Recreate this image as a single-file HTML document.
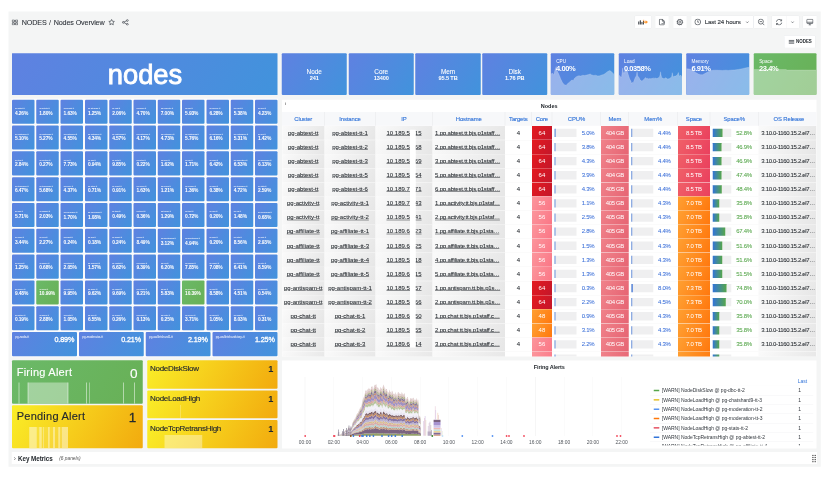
<!DOCTYPE html>
<html lang="en"><head><meta charset="utf-8"><title>Nodes Overview</title>
<style>
html,body{margin:0;padding:0;background:#fff}
body{width:834px;height:480px;overflow:hidden;font-family:"Liberation Sans",sans-serif}
#r{position:absolute;left:0;top:0;width:3336px;height:1920px;transform:scale(.25);transform-origin:0 0}
#r div,#r svg{position:absolute}
.t{white-space:nowrap;line-height:0;height:0}
.w{color:#fff}
.m{-webkit-text-stroke:.55px currentColor}
.m3{-webkit-text-stroke:.3px currentColor}
.m2{-webkit-text-stroke:1.2px currentColor}
.d{color:#24292e}
.u,.d,.h{-webkit-text-stroke:.25px currentColor}
.hh{-webkit-text-stroke:.5px currentColor}
.u{color:#24292e;text-decoration:underline;text-decoration-thickness:1.6px;text-underline-offset:2.4px}
.c{border-radius:4px;overflow:hidden}
.b{background:linear-gradient(120deg,rgb(95,129,225),rgb(65,147,220))}
.g{background:linear-gradient(120deg,rgb(107,185,104),rgb(104,176,86))}
.y{background:linear-gradient(120deg,rgb(250,238,40),rgb(242,170,14))}
.gy{background:linear-gradient(120deg,#fafafa,#e6e6e6)}
.r64{background:linear-gradient(120deg,rgb(228,26,32),rgb(196,22,42))}
.r56{background:linear-gradient(120deg,rgb(252,150,156),rgb(250,118,134))}
.r48{background:linear-gradient(120deg,rgb(255,160,50),rgb(255,120,14))}
.rm{background:linear-gradient(120deg,rgb(240,130,138),rgb(230,100,115))}
.rs{background:linear-gradient(120deg,rgb(240,96,104),rgb(234,64,94))}
</style></head>
<body><div id="r">
<div style="left:33.6px;top:45.6px;width:3249.6px;height:1821.6px;background:#f4f5f5"></div>
<svg style="left:46.8px;top:77.6px;" width="25.6" height="23.6" viewBox="0 0 6.40 5.90"><g fill="none" stroke="#41464d" stroke-width=".75"><rect x=".4" y=".4" width="2.3" height="2.1" rx=".3"/><rect x="3.7" y=".4" width="2.3" height="2.1" rx=".3"/><rect x=".4" y="3.4" width="2.3" height="2.1" rx=".3"/><rect x="3.7" y="3.4" width="2.3" height="2.1" rx=".3"/></g></svg>
<div class="t m3" style="left:87.2px;top:89.2px;font-size:28.8px;color:#2c3138;letter-spacing:-.02em">NODES</div>
<div class="t" style="left:196px;top:89.2px;font-size:28.8px;color:#24292e">/</div>
<div class="t m3" style="left:214.8px;top:89.2px;font-size:28.8px;color:#2c3138;letter-spacing:-.02em">Nodes Overview</div>
<svg style="left:432px;top:74.4px;" width="28.8" height="29.6" viewBox="0 0 7.20 7.40"><polygon points="3.60,1.00 4.45,2.73 6.36,3.00 4.98,4.35 5.30,6.25 3.60,5.35 1.90,6.25 2.22,4.35 0.84,3.00 2.75,2.73" fill="none" stroke="#41464d" stroke-width=".7" stroke-linejoin="round"/></svg>
<svg style="left:487.2px;top:76.8px;" width="29.6" height="25.6" viewBox="0 0 7.40 6.40"><g fill="none" stroke="#41464d" stroke-width=".7"><circle cx="1.6" cy="3.1" r=".9"/><circle cx="5.6" cy="1.2" r=".9"/><circle cx="5.6" cy="5.1" r=".9"/><path d="M2.4 2.7L4.8 1.6M2.4 3.5L4.8 4.7"/></g></svg>
<div style="left:2540px;top:64px;width:64.8px;height:48px;background:#fff;border-radius:2px;box-shadow:0 0 0 1px #e4e7eb"></div>
<div style="left:2621.2px;top:64px;width:54px;height:48px;background:#fff;border-radius:2px;box-shadow:0 0 0 1px #e4e7eb"></div>
<div style="left:2693.2px;top:64px;width:53.6px;height:48px;background:#fff;border-radius:2px;box-shadow:0 0 0 1px #e4e7eb"></div>
<div style="left:2764.8px;top:64px;width:248px;height:48px;background:#fff;border-radius:2px;box-shadow:0 0 0 1px #e4e7eb"></div>
<div style="left:3015.6px;top:64px;width:54.8px;height:48px;background:#fff;border-radius:2px;box-shadow:0 0 0 1px #e4e7eb"></div>
<div style="left:3088px;top:64px;width:108.4px;height:48px;background:#fff;border-radius:2px;box-shadow:0 0 0 1px #e4e7eb"></div>
<div style="left:3144px;top:64px;width:1px;height:48px;background:#e4e7eb"></div>
<div style="left:3212px;top:64px;width:55.2px;height:48px;background:#fff;border-radius:2px;box-shadow:0 0 0 1px #e4e7eb"></div>
<svg style="left:2552px;top:78.4px;" width="41.6" height="21.2" viewBox="0 0 10.40 5.30"><g fill="#41464d"><rect x=".2" y="2" width="1.1" height="3"/><rect x="1.8" y=".8" width="1.1" height="4.2"/><rect x="3.4" y="2.4" width="1.1" height="2.6"/><rect x="5" y="1.4" width="1" height="3.6"/></g><path d="M5.6 1.9h2V.7l2.4 1.9-2.4 1.9V3.3h-2z" fill="#ff9830"/><path d="M5.6 .1v1.4M4.9 .8h1.4" stroke="#ff9830" stroke-width=".5"/></svg>
<svg style="left:2635.2px;top:75.2px;" width="26.4" height="26.4" viewBox="0 0 6.60 6.60"><g fill="none" stroke="#41464d" stroke-width=".75" stroke-linejoin="round"><path d="M.6 1.2a.7 .7 0 0 1 .7-.7h2.4l1.8 1.8v3.2a.7 .7 0 0 1-.7 .7H1.3a.7 .7 0 0 1-.7-.7z"/><path d="M3.6 .6v1.8h1.8"/><path d="M2.9 4.4l.9 .9 1.9-2" stroke-width=".7"/></g></svg>
<svg style="left:2705.2px;top:74.8px;" width="28.8" height="27.2" viewBox="0 0 7.20 6.80"><g fill="none" stroke="#41464d"><circle cx="3.6" cy="3.4" r="2.6" stroke-width=".85"/><circle cx="3.6" cy="3.4" r="1.05" stroke-width=".65"/><circle cx="3.6" cy="3.4" r="3.1" stroke-width=".5" stroke-dasharray=".9 1.53"/></g></svg>
<svg style="left:2777.2px;top:74.4px;" width="28" height="28" viewBox="0 0 7.00 7.00"><g fill="none" stroke="#41464d" stroke-width=".7"><circle cx="3.5" cy="3.5" r="2.9"/><path d="M3.5 1.8v1.9h1.3"/></g></svg>
<div class="t m" style="left:2818.8px;top:88.7px;font-size:24.4px;color:#33383e;letter-spacing:-.012em">Last 24 hours</div>
<svg style="left:2981.6px;top:83.6px;" width="14.4" height="9.6" viewBox="0 0 3.60 2.40"><path d="M.5 .5l1.3 1.3L3.1 .5" fill="none" stroke="#41464d" stroke-width=".6"/></svg>
<svg style="left:3031.2px;top:74.4px;" width="28" height="28.8" viewBox="0 0 7.00 7.20"><g fill="none" stroke="#41464d" stroke-width=".7"><circle cx="3.1" cy="3.1" r="2.5"/><path d="M1.9 3.1h2.4M5 5l1.6 1.7"/></g></svg>
<svg style="left:3101.6px;top:74.8px;" width="28.8" height="27.2" viewBox="0 0 7.20 6.80"><g fill="none" stroke="#41464d" stroke-width=".7"><path d="M.9 3A2.8 2.8 0 0 1 6 1.9"/><path d="M6.2 .5v1.6H4.6"/><path d="M6.3 3.8A2.8 2.8 0 0 1 1.2 4.9"/><path d="M1 6.3V4.7h1.6"/></g></svg>
<svg style="left:3163.2px;top:83.6px;" width="14.4" height="9.6" viewBox="0 0 3.60 2.40"><path d="M.5 .5l1.3 1.3L3.1 .5" fill="none" stroke="#41464d" stroke-width=".6"/></svg>
<svg style="left:3225.2px;top:75.2px;" width="28.8" height="27.2" viewBox="0 0 7.20 6.80"><g fill="none" stroke="#41464d" stroke-width=".7"><rect x=".5" y=".5" width="6.2" height="4.3" rx=".8"/><path d="M.5 3.5h6.2M2.4 6.3h2.4M3.6 4.8v1.5"/></g></svg>
<div style="left:3138.4px;top:142.8px;width:122px;height:48.4px;background:#fff;border-radius:2px;box-shadow:0 0 0 1px #e4e7eb"></div>
<svg style="left:3153.6px;top:158px;" width="24.8" height="18.4" viewBox="0 0 6.20 4.60"><path d="M.1 .9h5.8M.1 2.3h5.8M.1 3.7h5.8" stroke="#41464d" stroke-width=".8"/></svg>
<div class="t" style="left:3184px;top:167px;font-size:17.8px;color:#24292e;font-weight:bold">NODES</div>
<div class="b" style="left:48px;top:213.2px;width:1062px;height:166.8px;border-radius:1.2px"></div>
<div class="t" style="left:579.6px;top:296.8px;font-size:112px;transform:translateX(-50%) scaleX(0.975);transform-origin:50% 0;color:#fff;-webkit-text-stroke:3.4px #fff">nodes</div>
<div style="left:46px;top:394.4px;width:1066px;height:1034.4px;background:#fbfbfc"></div>
<div class="b c" style="left:48px;top:398.8px;width:90px;height:96.4px;"><div class="t w" style="left:12.4px;top:35.6px;font-size:6.8px;opacity:.9;font-weight:bold">pg-abtest-tt</div><div class="t w" style="left:12px;top:52px;font-size:19.6px;font-weight:bold;letter-spacing:-.03em">4.26%</div></div>
<div class="b c" style="left:145.2px;top:398.8px;width:90px;height:96.4px;"><div class="t w" style="left:12.4px;top:35.6px;font-size:6.8px;opacity:.9;font-weight:bold">pg-activity-tt</div><div class="t w" style="left:12px;top:52px;font-size:19.6px;font-weight:bold;letter-spacing:-.03em">1.80%</div></div>
<div class="b c" style="left:242.4px;top:398.8px;width:90px;height:96.4px;"><div class="t w" style="left:12.4px;top:35.6px;font-size:6.8px;opacity:.9;font-weight:bold">pg-affiliate-tt</div><div class="t w" style="left:12px;top:52px;font-size:19.6px;font-weight:bold;letter-spacing:-.03em">1.63%</div></div>
<div class="b c" style="left:339.6px;top:398.8px;width:90px;height:96.4px;"><div class="t w" style="left:12.4px;top:35.6px;font-size:6.8px;opacity:.9;font-weight:bold">pg-antispam-tt</div><div class="t w" style="left:12px;top:52px;font-size:19.6px;font-weight:bold;letter-spacing:-.03em">1.25%</div></div>
<div class="b c" style="left:436.8px;top:398.8px;width:90px;height:96.4px;"><div class="t w" style="left:12.4px;top:35.6px;font-size:6.8px;opacity:.9;font-weight:bold">pg-chat-tt</div><div class="t w" style="left:12px;top:52px;font-size:19.6px;font-weight:bold;letter-spacing:-.03em">2.06%</div></div>
<div class="b c" style="left:534px;top:398.8px;width:90px;height:96.4px;"><div class="t w" style="left:12.4px;top:35.6px;font-size:6.8px;opacity:.9;font-weight:bold">pg-bonus-tt</div><div class="t w" style="left:12px;top:52px;font-size:19.6px;font-weight:bold;letter-spacing:-.03em">4.70%</div></div>
<div class="b c" style="left:631.2px;top:398.8px;width:90px;height:96.4px;"><div class="t w" style="left:12.4px;top:35.6px;font-size:6.8px;opacity:.9;font-weight:bold">pg-callcenter-tt</div><div class="t w" style="left:12px;top:52px;font-size:19.6px;font-weight:bold;letter-spacing:-.03em">7.00%</div></div>
<div class="b c" style="left:728.4px;top:398.8px;width:90px;height:96.4px;"><div class="t w" style="left:12.4px;top:35.6px;font-size:6.8px;opacity:.9;font-weight:bold">pg-dbc-tt</div><div class="t w" style="left:12px;top:52px;font-size:19.6px;font-weight:bold;letter-spacing:-.03em">5.93%</div></div>
<div class="b c" style="left:825.6px;top:398.8px;width:90px;height:96.4px;"><div class="t w" style="left:12.4px;top:35.6px;font-size:6.8px;opacity:.9;font-weight:bold">pg-delivery-tt</div><div class="t w" style="left:12px;top:52px;font-size:19.6px;font-weight:bold;letter-spacing:-.03em">6.28%</div></div>
<div class="b c" style="left:922.8px;top:398.8px;width:90px;height:96.4px;"><div class="t w" style="left:12.4px;top:35.6px;font-size:6.8px;opacity:.9;font-weight:bold">pg-event-tt</div><div class="t w" style="left:12px;top:52px;font-size:19.6px;font-weight:bold;letter-spacing:-.03em">5.38%</div></div>
<div class="b c" style="left:1020px;top:398.8px;width:90px;height:96.4px;"><div class="t w" style="left:12.4px;top:35.6px;font-size:6.8px;opacity:.9;font-weight:bold">pg-feed-tt</div><div class="t w" style="left:12px;top:52px;font-size:19.6px;font-weight:bold;letter-spacing:-.03em">4.23%</div></div>
<div class="b c" style="left:48px;top:502px;width:90px;height:96.4px;"><div class="t w" style="left:12.4px;top:35.6px;font-size:6.8px;opacity:.9;font-weight:bold">pg-chatshard1-tt</div><div class="t w" style="left:12px;top:52px;font-size:19.6px;font-weight:bold;letter-spacing:-.03em">5.10%</div></div>
<div class="b c" style="left:145.2px;top:502px;width:90px;height:96.4px;"><div class="t w" style="left:12.4px;top:35.6px;font-size:6.8px;opacity:.9;font-weight:bold">pg-chatshard2-tt</div><div class="t w" style="left:12px;top:52px;font-size:19.6px;font-weight:bold;letter-spacing:-.03em">5.27%</div></div>
<div class="b c" style="left:242.4px;top:502px;width:90px;height:96.4px;"><div class="t w" style="left:12.4px;top:35.6px;font-size:6.8px;opacity:.9;font-weight:bold">pg-chatshard3-tt</div><div class="t w" style="left:12px;top:52px;font-size:19.6px;font-weight:bold;letter-spacing:-.03em">4.55%</div></div>
<div class="b c" style="left:339.6px;top:502px;width:90px;height:96.4px;"><div class="t w" style="left:12.4px;top:35.6px;font-size:6.8px;opacity:.9;font-weight:bold">pg-chatshard4-tt</div><div class="t w" style="left:12px;top:52px;font-size:19.6px;font-weight:bold;letter-spacing:-.03em">4.34%</div></div>
<div class="b c" style="left:436.8px;top:502px;width:90px;height:96.4px;"><div class="t w" style="left:12.4px;top:35.6px;font-size:6.8px;opacity:.9;font-weight:bold">pg-chatshard5-tt</div><div class="t w" style="left:12px;top:52px;font-size:19.6px;font-weight:bold;letter-spacing:-.03em">4.57%</div></div>
<div class="b c" style="left:534px;top:502px;width:90px;height:96.4px;"><div class="t w" style="left:12.4px;top:35.6px;font-size:6.8px;opacity:.9;font-weight:bold">pg-chatshard6-tt</div><div class="t w" style="left:12px;top:52px;font-size:19.6px;font-weight:bold;letter-spacing:-.03em">4.17%</div></div>
<div class="b c" style="left:631.2px;top:502px;width:90px;height:96.4px;"><div class="t w" style="left:12.4px;top:35.6px;font-size:6.8px;opacity:.9;font-weight:bold">pg-chatshard7-tt</div><div class="t w" style="left:12px;top:52px;font-size:19.6px;font-weight:bold;letter-spacing:-.03em">4.73%</div></div>
<div class="b c" style="left:728.4px;top:502px;width:90px;height:96.4px;"><div class="t w" style="left:12.4px;top:35.6px;font-size:6.8px;opacity:.9;font-weight:bold">pg-chatshard8-tt</div><div class="t w" style="left:12px;top:52px;font-size:19.6px;font-weight:bold;letter-spacing:-.03em">5.76%</div></div>
<div class="b c" style="left:825.6px;top:502px;width:90px;height:96.4px;"><div class="t w" style="left:12.4px;top:35.6px;font-size:6.8px;opacity:.9;font-weight:bold">pg-chatshard9-tt</div><div class="t w" style="left:12px;top:52px;font-size:19.6px;font-weight:bold;letter-spacing:-.03em">6.16%</div></div>
<div class="b c" style="left:922.8px;top:502px;width:90px;height:96.4px;"><div class="t w" style="left:12.4px;top:35.6px;font-size:6.8px;opacity:.9;font-weight:bold">pg-chatshard10-tt</div><div class="t w" style="left:12px;top:52px;font-size:19.6px;font-weight:bold;letter-spacing:-.03em">5.31%</div></div>
<div class="b c" style="left:1020px;top:502px;width:90px;height:96.4px;"><div class="t w" style="left:12.4px;top:35.6px;font-size:6.8px;opacity:.9;font-weight:bold">pg-geo-tt</div><div class="t w" style="left:12px;top:52px;font-size:19.6px;font-weight:bold;letter-spacing:-.03em">1.42%</div></div>
<div class="b c" style="left:48px;top:605.3px;width:90px;height:96.4px;"><div class="t w" style="left:12.4px;top:35.6px;font-size:6.8px;opacity:.9;font-weight:bold">pg-item-tt</div><div class="t w" style="left:12px;top:52px;font-size:19.6px;font-weight:bold;letter-spacing:-.03em">2.84%</div></div>
<div class="b c" style="left:145.2px;top:605.3px;width:90px;height:96.4px;"><div class="t w" style="left:12.4px;top:35.6px;font-size:6.8px;opacity:.9;font-weight:bold">pg-location-tt</div><div class="t w" style="left:12px;top:52px;font-size:19.6px;font-weight:bold;letter-spacing:-.03em">0.27%</div></div>
<div class="b c" style="left:242.4px;top:605.3px;width:90px;height:96.4px;"><div class="t w" style="left:12.4px;top:35.6px;font-size:6.8px;opacity:.9;font-weight:bold">pg-log-tt</div><div class="t w" style="left:12px;top:52px;font-size:19.6px;font-weight:bold;letter-spacing:-.03em">7.73%</div></div>
<div class="b c" style="left:339.6px;top:605.3px;width:90px;height:96.4px;"><div class="t w" style="left:12.4px;top:35.6px;font-size:6.8px;opacity:.9;font-weight:bold">pg-mail-tt</div><div class="t w" style="left:12px;top:52px;font-size:19.6px;font-weight:bold;letter-spacing:-.03em">0.94%</div></div>
<div class="b c" style="left:436.8px;top:605.3px;width:90px;height:96.4px;"><div class="t w" style="left:12.4px;top:35.6px;font-size:6.8px;opacity:.9;font-weight:bold">pg-meta-tt</div><div class="t w" style="left:12px;top:52px;font-size:19.6px;font-weight:bold;letter-spacing:-.03em">9.85%</div></div>
<div class="b c" style="left:534px;top:605.3px;width:90px;height:96.4px;"><div class="t w" style="left:12.4px;top:35.6px;font-size:6.8px;opacity:.9;font-weight:bold">pg-notify-tt</div><div class="t w" style="left:12px;top:52px;font-size:19.6px;font-weight:bold;letter-spacing:-.03em">0.22%</div></div>
<div class="b c" style="left:631.2px;top:605.3px;width:90px;height:96.4px;"><div class="t w" style="left:12.4px;top:35.6px;font-size:6.8px;opacity:.9;font-weight:bold">pg-order-tt</div><div class="t w" style="left:12px;top:52px;font-size:19.6px;font-weight:bold;letter-spacing:-.03em">1.62%</div></div>
<div class="b c" style="left:728.4px;top:605.3px;width:90px;height:96.4px;"><div class="t w" style="left:12.4px;top:35.6px;font-size:6.8px;opacity:.9;font-weight:bold">pg-pay-tt</div><div class="t w" style="left:12px;top:52px;font-size:19.6px;font-weight:bold;letter-spacing:-.03em">1.71%</div></div>
<div class="b c" style="left:825.6px;top:605.3px;width:90px;height:96.4px;"><div class="t w" style="left:12.4px;top:35.6px;font-size:6.8px;opacity:.9;font-weight:bold">pg-push-tt</div><div class="t w" style="left:12px;top:52px;font-size:19.6px;font-weight:bold;letter-spacing:-.03em">6.42%</div></div>
<div class="b c" style="left:922.8px;top:605.3px;width:90px;height:96.4px;"><div class="t w" style="left:12.4px;top:35.6px;font-size:6.8px;opacity:.9;font-weight:bold">pg-moderation-tt</div><div class="t w" style="left:12px;top:52px;font-size:19.6px;font-weight:bold;letter-spacing:-.03em">6.53%</div></div>
<div class="b c" style="left:1020px;top:605.3px;width:90px;height:96.4px;"><div class="t w" style="left:12.4px;top:35.6px;font-size:6.8px;opacity:.9;font-weight:bold">pg-messenger-tt</div><div class="t w" style="left:12px;top:52px;font-size:19.6px;font-weight:bold;letter-spacing:-.03em">6.13%</div></div>
<div class="b c" style="left:48px;top:708.5px;width:90px;height:96.4px;"><div class="t w" style="left:12.4px;top:35.6px;font-size:6.8px;opacity:.9;font-weight:bold">pg-itemshard1-tt</div><div class="t w" style="left:12px;top:52px;font-size:19.6px;font-weight:bold;letter-spacing:-.03em">6.47%</div></div>
<div class="b c" style="left:145.2px;top:708.5px;width:90px;height:96.4px;"><div class="t w" style="left:12.4px;top:35.6px;font-size:6.8px;opacity:.9;font-weight:bold">pg-itemshard2-tt</div><div class="t w" style="left:12px;top:52px;font-size:19.6px;font-weight:bold;letter-spacing:-.03em">5.68%</div></div>
<div class="b c" style="left:242.4px;top:708.5px;width:90px;height:96.4px;"><div class="t w" style="left:12.4px;top:35.6px;font-size:6.8px;opacity:.9;font-weight:bold">pg-queue-tt</div><div class="t w" style="left:12px;top:52px;font-size:19.6px;font-weight:bold;letter-spacing:-.03em">4.37%</div></div>
<div class="b c" style="left:339.6px;top:708.5px;width:90px;height:96.4px;"><div class="t w" style="left:12.4px;top:35.6px;font-size:6.8px;opacity:.9;font-weight:bold">pg-rating-tt</div><div class="t w" style="left:12px;top:52px;font-size:19.6px;font-weight:bold;letter-spacing:-.03em">0.71%</div></div>
<div class="b c" style="left:436.8px;top:708.5px;width:90px;height:96.4px;"><div class="t w" style="left:12.4px;top:35.6px;font-size:6.8px;opacity:.9;font-weight:bold">pg-report-tt</div><div class="t w" style="left:12px;top:52px;font-size:19.6px;font-weight:bold;letter-spacing:-.03em">0.91%</div></div>
<div class="b c" style="left:534px;top:708.5px;width:90px;height:96.4px;"><div class="t w" style="left:12.4px;top:35.6px;font-size:6.8px;opacity:.9;font-weight:bold">pg-review-tt</div><div class="t w" style="left:12px;top:52px;font-size:19.6px;font-weight:bold;letter-spacing:-.03em">1.63%</div></div>
<div class="b c" style="left:631.2px;top:708.5px;width:90px;height:96.4px;"><div class="t w" style="left:12.4px;top:35.6px;font-size:6.8px;opacity:.9;font-weight:bold">pg-search-tt</div><div class="t w" style="left:12px;top:52px;font-size:19.6px;font-weight:bold;letter-spacing:-.03em">1.21%</div></div>
<div class="b c" style="left:728.4px;top:708.5px;width:90px;height:96.4px;"><div class="t w" style="left:12.4px;top:35.6px;font-size:6.8px;opacity:.9;font-weight:bold">pg-session-tt</div><div class="t w" style="left:12px;top:52px;font-size:19.6px;font-weight:bold;letter-spacing:-.03em">1.36%</div></div>
<div class="b c" style="left:825.6px;top:708.5px;width:90px;height:96.4px;"><div class="t w" style="left:12.4px;top:35.6px;font-size:6.8px;opacity:.9;font-weight:bold">pg-shop-tt</div><div class="t w" style="left:12px;top:52px;font-size:19.6px;font-weight:bold;letter-spacing:-.03em">0.38%</div></div>
<div class="b c" style="left:922.8px;top:708.5px;width:90px;height:96.4px;"><div class="t w" style="left:12.4px;top:35.6px;font-size:6.8px;opacity:.9;font-weight:bold">pg-itemshard3-tt</div><div class="t w" style="left:12px;top:52px;font-size:19.6px;font-weight:bold;letter-spacing:-.03em">4.72%</div></div>
<div class="b c" style="left:1020px;top:708.5px;width:90px;height:96.4px;"><div class="t w" style="left:12.4px;top:35.6px;font-size:6.8px;opacity:.9;font-weight:bold">pg-stats-tt</div><div class="t w" style="left:12px;top:52px;font-size:19.6px;font-weight:bold;letter-spacing:-.03em">2.59%</div></div>
<div class="b c" style="left:48px;top:811.8px;width:90px;height:96.4px;"><div class="t w" style="left:12.4px;top:35.6px;font-size:6.8px;opacity:.9;font-weight:bold">pg-sms-tt</div><div class="t w" style="left:12px;top:52px;font-size:19.6px;font-weight:bold;letter-spacing:-.03em">5.71%</div></div>
<div class="b c" style="left:145.2px;top:811.8px;width:90px;height:96.4px;"><div class="t w" style="left:12.4px;top:35.6px;font-size:6.8px;opacity:.9;font-weight:bold">pg-support-tt</div><div class="t w" style="left:12px;top:52px;font-size:19.6px;font-weight:bold;letter-spacing:-.03em">2.03%</div></div>
<div class="b c" style="left:242.4px;top:811.8px;width:90px;height:96.4px;"><div class="t w" style="left:12.4px;top:36.7px;font-size:6.8px;opacity:.9;font-weight:bold">pg-usershard1-tt</div><div class="t w" style="left:12px;top:55.6px;font-size:19.6px;font-weight:bold;letter-spacing:-.03em">1.70%</div></div>
<div class="b c" style="left:339.6px;top:811.8px;width:90px;height:96.4px;"><div class="t w" style="left:12.4px;top:36.7px;font-size:6.8px;opacity:.9;font-weight:bold">pg-usershard2-tt</div><div class="t w" style="left:12px;top:55.6px;font-size:19.6px;font-weight:bold;letter-spacing:-.03em">1.08%</div></div>
<div class="b c" style="left:436.8px;top:811.8px;width:90px;height:96.4px;"><div class="t w" style="left:12.4px;top:35.6px;font-size:6.8px;opacity:.9;font-weight:bold">pg-tariff-tt</div><div class="t w" style="left:12px;top:52px;font-size:19.6px;font-weight:bold;letter-spacing:-.03em">0.49%</div></div>
<div class="b c" style="left:534px;top:811.8px;width:90px;height:96.4px;"><div class="t w" style="left:12.4px;top:35.6px;font-size:6.8px;opacity:.9;font-weight:bold">pg-ticket-tt</div><div class="t w" style="left:12px;top:52px;font-size:19.6px;font-weight:bold;letter-spacing:-.03em">0.36%</div></div>
<div class="b c" style="left:631.2px;top:811.8px;width:90px;height:96.4px;"><div class="t w" style="left:12.4px;top:35.6px;font-size:6.8px;opacity:.9;font-weight:bold">pg-tracker-tt</div><div class="t w" style="left:12px;top:52px;font-size:19.6px;font-weight:bold;letter-spacing:-.03em">1.29%</div></div>
<div class="b c" style="left:728.4px;top:811.8px;width:90px;height:96.4px;"><div class="t w" style="left:12.4px;top:35.6px;font-size:6.8px;opacity:.9;font-weight:bold">pg-trust-tt</div><div class="t w" style="left:12px;top:52px;font-size:19.6px;font-weight:bold;letter-spacing:-.03em">0.72%</div></div>
<div class="b c" style="left:825.6px;top:811.8px;width:90px;height:96.4px;"><div class="t w" style="left:12.4px;top:35.6px;font-size:6.8px;opacity:.9;font-weight:bold">pg-user-tt</div><div class="t w" style="left:12px;top:52px;font-size:19.6px;font-weight:bold;letter-spacing:-.03em">0.20%</div></div>
<div class="b c" style="left:922.8px;top:811.8px;width:90px;height:96.4px;"><div class="t w" style="left:12.4px;top:35.6px;font-size:6.8px;opacity:.9;font-weight:bold">pg-vas-tt</div><div class="t w" style="left:12px;top:52px;font-size:19.6px;font-weight:bold;letter-spacing:-.03em">1.48%</div></div>
<div class="b c" style="left:1020px;top:811.8px;width:90px;height:96.4px;"><div class="t w" style="left:12.4px;top:36.7px;font-size:6.8px;opacity:.9;font-weight:bold">pg-usershard3-tt</div><div class="t w" style="left:12px;top:55.6px;font-size:19.6px;font-weight:bold;letter-spacing:-.03em">0.68%</div></div>
<div class="b c" style="left:48px;top:915px;width:90px;height:96.4px;"><div class="t w" style="left:12.4px;top:35.6px;font-size:6.8px;opacity:.9;font-weight:bold">pg-video-tt</div><div class="t w" style="left:12px;top:52px;font-size:19.6px;font-weight:bold;letter-spacing:-.03em">3.44%</div></div>
<div class="b c" style="left:145.2px;top:915px;width:90px;height:96.4px;"><div class="t w" style="left:12.4px;top:35.6px;font-size:6.8px;opacity:.9;font-weight:bold">pg-view-tt</div><div class="t w" style="left:12px;top:52px;font-size:19.6px;font-weight:bold;letter-spacing:-.03em">2.27%</div></div>
<div class="b c" style="left:242.4px;top:915px;width:90px;height:96.4px;"><div class="t w" style="left:12.4px;top:35.6px;font-size:6.8px;opacity:.9;font-weight:bold">pg-wallet-tt</div><div class="t w" style="left:12px;top:52px;font-size:19.6px;font-weight:bold;letter-spacing:-.03em">0.24%</div></div>
<div class="b c" style="left:339.6px;top:915px;width:90px;height:96.4px;"><div class="t w" style="left:12.4px;top:35.6px;font-size:6.8px;opacity:.9;font-weight:bold">pg-web-tt</div><div class="t w" style="left:12px;top:52px;font-size:19.6px;font-weight:bold;letter-spacing:-.03em">0.18%</div></div>
<div class="b c" style="left:436.8px;top:915px;width:90px;height:96.4px;"><div class="t w" style="left:12.4px;top:35.6px;font-size:6.8px;opacity:.9;font-weight:bold">pg-widget-tt</div><div class="t w" style="left:12px;top:52px;font-size:19.6px;font-weight:bold;letter-spacing:-.03em">0.24%</div></div>
<div class="b c" style="left:534px;top:915px;width:90px;height:96.4px;"><div class="t w" style="left:12.4px;top:35.6px;font-size:6.8px;opacity:.9;font-weight:bold">pg-xml-tt</div><div class="t w" style="left:12px;top:52px;font-size:19.6px;font-weight:bold;letter-spacing:-.03em">8.49%</div></div>
<div class="b c" style="left:631.2px;top:915px;width:90px;height:96.4px;"><div class="t w" style="left:12.4px;top:36.7px;font-size:6.8px;opacity:.9;font-weight:bold">pg-walletshard2-tt</div><div class="t w" style="left:12px;top:55.6px;font-size:19.6px;font-weight:bold;letter-spacing:-.03em">3.12%</div></div>
<div class="b c" style="left:728.4px;top:915px;width:90px;height:96.4px;"><div class="t w" style="left:12.4px;top:36.7px;font-size:6.8px;opacity:.9;font-weight:bold">pg-walletshard3-tt</div><div class="t w" style="left:12px;top:55.6px;font-size:19.6px;font-weight:bold;letter-spacing:-.03em">4.94%</div></div>
<div class="b c" style="left:825.6px;top:915px;width:90px;height:96.4px;"><div class="t w" style="left:12.4px;top:35.6px;font-size:6.8px;opacity:.9;font-weight:bold">pg-zone-tt</div><div class="t w" style="left:12px;top:52px;font-size:19.6px;font-weight:bold;letter-spacing:-.03em">0.20%</div></div>
<div class="b c" style="left:922.8px;top:915px;width:90px;height:96.4px;"><div class="t w" style="left:12.4px;top:35.6px;font-size:6.8px;opacity:.9;font-weight:bold">pg-auth-tt</div><div class="t w" style="left:12px;top:52px;font-size:19.6px;font-weight:bold;letter-spacing:-.03em">8.56%</div></div>
<div class="b c" style="left:1020px;top:915px;width:90px;height:96.4px;"><div class="t w" style="left:12.4px;top:35.6px;font-size:6.8px;opacity:.9;font-weight:bold">pg-auto-tt</div><div class="t w" style="left:12px;top:52px;font-size:19.6px;font-weight:bold;letter-spacing:-.03em">2.93%</div></div>
<div class="b c" style="left:48px;top:1018.2px;width:90px;height:96.4px;"><div class="t w" style="left:12.4px;top:35.6px;font-size:6.8px;opacity:.9;font-weight:bold">pg-billing-tt</div><div class="t w" style="left:12px;top:52px;font-size:19.6px;font-weight:bold;letter-spacing:-.03em">1.25%</div></div>
<div class="b c" style="left:145.2px;top:1018.2px;width:90px;height:96.4px;"><div class="t w" style="left:12.4px;top:35.6px;font-size:6.8px;opacity:.9;font-weight:bold">pg-banner-tt</div><div class="t w" style="left:12px;top:52px;font-size:19.6px;font-weight:bold;letter-spacing:-.03em">0.68%</div></div>
<div class="b c" style="left:242.4px;top:1018.2px;width:90px;height:96.4px;"><div class="t w" style="left:12.4px;top:35.6px;font-size:6.8px;opacity:.9;font-weight:bold">pg-catalog-tt</div><div class="t w" style="left:12px;top:52px;font-size:19.6px;font-weight:bold;letter-spacing:-.03em">2.05%</div></div>
<div class="b c" style="left:339.6px;top:1018.2px;width:90px;height:96.4px;"><div class="t w" style="left:12.4px;top:35.6px;font-size:6.8px;opacity:.9;font-weight:bold">pg-comment-tt</div><div class="t w" style="left:12px;top:52px;font-size:19.6px;font-weight:bold;letter-spacing:-.03em">1.57%</div></div>
<div class="b c" style="left:436.8px;top:1018.2px;width:90px;height:96.4px;"><div class="t w" style="left:12.4px;top:35.6px;font-size:6.8px;opacity:.9;font-weight:bold">pg-contact-tt</div><div class="t w" style="left:12px;top:52px;font-size:19.6px;font-weight:bold;letter-spacing:-.03em">6.62%</div></div>
<div class="b c" style="left:534px;top:1018.2px;width:90px;height:96.4px;"><div class="t w" style="left:12.4px;top:35.6px;font-size:6.8px;opacity:.9;font-weight:bold">pg-coupon-tt</div><div class="t w" style="left:12px;top:52px;font-size:19.6px;font-weight:bold;letter-spacing:-.03em">9.39%</div></div>
<div class="b c" style="left:631.2px;top:1018.2px;width:90px;height:96.4px;"><div class="t w" style="left:12.4px;top:35.6px;font-size:6.8px;opacity:.9;font-weight:bold">pg-crm-tt</div><div class="t w" style="left:12px;top:52px;font-size:19.6px;font-weight:bold;letter-spacing:-.03em">6.20%</div></div>
<div class="b c" style="left:728.4px;top:1018.2px;width:90px;height:96.4px;"><div class="t w" style="left:12.4px;top:35.6px;font-size:6.8px;opacity:.9;font-weight:bold">pg-domain-tt</div><div class="t w" style="left:12px;top:52px;font-size:19.6px;font-weight:bold;letter-spacing:-.03em">7.85%</div></div>
<div class="b c" style="left:825.6px;top:1018.2px;width:90px;height:96.4px;"><div class="t w" style="left:12.4px;top:35.6px;font-size:6.8px;opacity:.9;font-weight:bold">pg-export-tt</div><div class="t w" style="left:12px;top:52px;font-size:19.6px;font-weight:bold;letter-spacing:-.03em">7.08%</div></div>
<div class="b c" style="left:922.8px;top:1018.2px;width:90px;height:96.4px;"><div class="t w" style="left:12.4px;top:35.6px;font-size:6.8px;opacity:.9;font-weight:bold">pg-favorite-tt</div><div class="t w" style="left:12px;top:52px;font-size:19.6px;font-weight:bold;letter-spacing:-.03em">6.41%</div></div>
<div class="b c" style="left:1020px;top:1018.2px;width:90px;height:96.4px;"><div class="t w" style="left:12.4px;top:35.6px;font-size:6.8px;opacity:.9;font-weight:bold">pg-filter-tt</div><div class="t w" style="left:12px;top:52px;font-size:19.6px;font-weight:bold;letter-spacing:-.03em">8.59%</div></div>
<div class="b c" style="left:48px;top:1121.5px;width:90px;height:96.4px;"><div class="t w" style="left:12.4px;top:35.6px;font-size:6.8px;opacity:.9;font-weight:bold">pg-finance-tt</div><div class="t w" style="left:12px;top:52px;font-size:19.6px;font-weight:bold;letter-spacing:-.03em">9.48%</div></div>
<div class="g c" style="left:145.2px;top:1121.5px;width:90px;height:96.4px;"><div class="t w" style="left:12.4px;top:35.6px;font-size:6.8px;opacity:.9;font-weight:bold">pg-fraud-tt</div><div class="t w" style="left:12px;top:52px;font-size:19.6px;font-weight:bold;letter-spacing:-.03em">10.99%</div></div>
<div class="b c" style="left:242.4px;top:1121.5px;width:90px;height:96.4px;"><div class="t w" style="left:12.4px;top:35.6px;font-size:6.8px;opacity:.9;font-weight:bold">pg-history-tt</div><div class="t w" style="left:12px;top:52px;font-size:19.6px;font-weight:bold;letter-spacing:-.03em">9.95%</div></div>
<div class="b c" style="left:339.6px;top:1121.5px;width:90px;height:96.4px;"><div class="t w" style="left:12.4px;top:35.6px;font-size:6.8px;opacity:.9;font-weight:bold">pg-image-tt</div><div class="t w" style="left:12px;top:52px;font-size:19.6px;font-weight:bold;letter-spacing:-.03em">9.62%</div></div>
<div class="b c" style="left:436.8px;top:1121.5px;width:90px;height:96.4px;"><div class="t w" style="left:12.4px;top:35.6px;font-size:6.8px;opacity:.9;font-weight:bold">pg-import-tt</div><div class="t w" style="left:12px;top:52px;font-size:19.6px;font-weight:bold;letter-spacing:-.03em">9.69%</div></div>
<div class="b c" style="left:534px;top:1121.5px;width:90px;height:96.4px;"><div class="t w" style="left:12.4px;top:35.6px;font-size:6.8px;opacity:.9;font-weight:bold">pg-invoice-tt</div><div class="t w" style="left:12px;top:52px;font-size:19.6px;font-weight:bold;letter-spacing:-.03em">9.21%</div></div>
<div class="b c" style="left:631.2px;top:1121.5px;width:90px;height:96.4px;"><div class="t w" style="left:12.4px;top:35.6px;font-size:6.8px;opacity:.9;font-weight:bold">pg-job-tt</div><div class="t w" style="left:12px;top:52px;font-size:19.6px;font-weight:bold;letter-spacing:-.03em">5.83%</div></div>
<div class="g c" style="left:728.4px;top:1121.5px;width:90px;height:96.4px;"><div class="t w" style="left:12.4px;top:35.6px;font-size:6.8px;opacity:.9;font-weight:bold">pg-landing-tt</div><div class="t w" style="left:12px;top:52px;font-size:19.6px;font-weight:bold;letter-spacing:-.03em">10.39%</div></div>
<div class="b c" style="left:825.6px;top:1121.5px;width:90px;height:96.4px;"><div class="t w" style="left:12.4px;top:35.6px;font-size:6.8px;opacity:.9;font-weight:bold">pg-limit-tt</div><div class="t w" style="left:12px;top:52px;font-size:19.6px;font-weight:bold;letter-spacing:-.03em">8.58%</div></div>
<div class="b c" style="left:922.8px;top:1121.5px;width:90px;height:96.4px;"><div class="t w" style="left:12.4px;top:35.6px;font-size:6.8px;opacity:.9;font-weight:bold">pg-market-tt</div><div class="t w" style="left:12px;top:52px;font-size:19.6px;font-weight:bold;letter-spacing:-.03em">4.51%</div></div>
<div class="b c" style="left:1020px;top:1121.5px;width:90px;height:96.4px;"><div class="t w" style="left:12.4px;top:35.6px;font-size:6.8px;opacity:.9;font-weight:bold">pg-media-tt</div><div class="t w" style="left:12px;top:52px;font-size:19.6px;font-weight:bold;letter-spacing:-.03em">0.54%</div></div>
<div class="b c" style="left:48px;top:1224.7px;width:90px;height:96.4px;"><div class="t w" style="left:12.4px;top:35.6px;font-size:6.8px;opacity:.9;font-weight:bold">pg-partner-tt</div><div class="t w" style="left:12px;top:52px;font-size:19.6px;font-weight:bold;letter-spacing:-.03em">0.19%</div></div>
<div class="b c" style="left:145.2px;top:1224.7px;width:90px;height:96.4px;"><div class="t w" style="left:12.4px;top:35.6px;font-size:6.8px;opacity:.9;font-weight:bold">pg-phone-tt</div><div class="t w" style="left:12px;top:52px;font-size:19.6px;font-weight:bold;letter-spacing:-.03em">2.88%</div></div>
<div class="b c" style="left:242.4px;top:1224.7px;width:90px;height:96.4px;"><div class="t w" style="left:12.4px;top:35.6px;font-size:6.8px;opacity:.9;font-weight:bold">pg-photo-tt</div><div class="t w" style="left:12px;top:52px;font-size:19.6px;font-weight:bold;letter-spacing:-.03em">1.05%</div></div>
<div class="b c" style="left:339.6px;top:1224.7px;width:90px;height:96.4px;"><div class="t w" style="left:12.4px;top:35.6px;font-size:6.8px;opacity:.9;font-weight:bold">pg-price-tt</div><div class="t w" style="left:12px;top:52px;font-size:19.6px;font-weight:bold;letter-spacing:-.03em">6.55%</div></div>
<div class="b c" style="left:436.8px;top:1224.7px;width:90px;height:96.4px;"><div class="t w" style="left:12.4px;top:35.6px;font-size:6.8px;opacity:.9;font-weight:bold">pg-profile-tt</div><div class="t w" style="left:12px;top:52px;font-size:19.6px;font-weight:bold;letter-spacing:-.03em">0.26%</div></div>
<div class="b c" style="left:534px;top:1224.7px;width:90px;height:96.4px;"><div class="t w" style="left:12.4px;top:35.6px;font-size:6.8px;opacity:.9;font-weight:bold">pg-promo-tt</div><div class="t w" style="left:12px;top:52px;font-size:19.6px;font-weight:bold;letter-spacing:-.03em">0.13%</div></div>
<div class="b c" style="left:631.2px;top:1224.7px;width:90px;height:96.4px;"><div class="t w" style="left:12.4px;top:35.6px;font-size:6.8px;opacity:.9;font-weight:bold">pg-realty-tt</div><div class="t w" style="left:12px;top:52px;font-size:19.6px;font-weight:bold;letter-spacing:-.03em">0.25%</div></div>
<div class="b c" style="left:728.4px;top:1224.7px;width:90px;height:96.4px;"><div class="t w" style="left:12.4px;top:35.6px;font-size:6.8px;opacity:.9;font-weight:bold">pg-service-tt</div><div class="t w" style="left:12px;top:52px;font-size:19.6px;font-weight:bold;letter-spacing:-.03em">3.71%</div></div>
<div class="b c" style="left:825.6px;top:1224.7px;width:90px;height:96.4px;"><div class="t w" style="left:12.4px;top:35.6px;font-size:6.8px;opacity:.9;font-weight:bold">pg-social-tt</div><div class="t w" style="left:12px;top:52px;font-size:19.6px;font-weight:bold;letter-spacing:-.03em">1.05%</div></div>
<div class="b c" style="left:922.8px;top:1224.7px;width:90px;height:96.4px;"><div class="t w" style="left:12.4px;top:35.6px;font-size:6.8px;opacity:.9;font-weight:bold">pg-spam-tt</div><div class="t w" style="left:12px;top:52px;font-size:19.6px;font-weight:bold;letter-spacing:-.03em">8.03%</div></div>
<div class="b c" style="left:1020px;top:1224.7px;width:90px;height:96.4px;"><div class="t w" style="left:12.4px;top:35.6px;font-size:6.8px;opacity:.9;font-weight:bold">pg-tag-tt</div><div class="t w" style="left:12px;top:52px;font-size:19.6px;font-weight:bold;letter-spacing:-.03em">0.31%</div></div>
<div class="b c" style="left:48px;top:1328px;width:260px;height:97.2px;"><div class="t w" style="left:13.2px;top:20.6px;font-size:12px;">pg-node-tt</div><div class="t w m2" style="left:248.8px;top:28.8px;font-size:28.8px;transform:translateX(-100%);letter-spacing:-.02em">0.89%</div></div>
<div class="b c" style="left:316px;top:1328px;width:258.8px;height:97.2px;"><div class="t w" style="left:13.2px;top:20.6px;font-size:12px;">pg-moderator-tt</div><div class="t w m2" style="left:247.6px;top:28.8px;font-size:28.8px;transform:translateX(-100%);letter-spacing:-.02em">0.21%</div></div>
<div class="b c" style="left:583.2px;top:1328px;width:258.8px;height:97.2px;"><div class="t w" style="left:13.2px;top:20.6px;font-size:12px;">pg-walletshard1-tt</div><div class="t w m2" style="left:247.6px;top:28.8px;font-size:28.8px;transform:translateX(-100%);letter-spacing:-.02em">2.19%</div></div>
<div class="b c" style="left:850px;top:1328px;width:260px;height:97.2px;"><div class="t w" style="left:13.2px;top:20.6px;font-size:12px;">pg-walletshardstory-tt</div><div class="t w m2" style="left:248.8px;top:28.8px;font-size:28.8px;transform:translateX(-100%);letter-spacing:-.02em">1.25%</div></div>
<div class="g c" style="left:48px;top:1441.2px;width:523.2px;height:174px;"><div class="t w m" style="left:18.8px;top:46.8px;font-size:44px;letter-spacing:.022em">Firing Alert</div><div class="t w m" style="left:502.4px;top:51.6px;font-size:54.4px;transform:translateX(-100%);">0</div><div style="left:64px;top:88.8px;width:160px;height:85.2px;background:rgba(255,255,255,.38)"></div><div style="left:26.4px;top:88.8px;width:3.2px;height:85.2px;background:rgba(255,255,255,.5)"></div><div style="left:62.4px;top:88.8px;width:3.2px;height:85.2px;background:rgba(255,255,255,.5)"></div><div style="left:222.4px;top:88.8px;width:3.2px;height:85.2px;background:rgba(255,255,255,.5)"></div><div style="left:296.4px;top:88.8px;width:3.2px;height:85.2px;background:rgba(255,255,255,.5)"></div><div style="left:307.6px;top:88.8px;width:3.2px;height:85.2px;background:rgba(255,255,255,.5)"></div><div style="left:444.4px;top:88.8px;width:3.2px;height:85.2px;background:rgba(255,255,255,.5)"></div><div style="left:488.4px;top:88.8px;width:3.2px;height:85.2px;background:rgba(255,255,255,.5)"></div></div>
<div class="y c" style="left:48px;top:1621.2px;width:523.2px;height:172px;"><div class="t m" style="left:18.8px;top:44.8px;font-size:44px;color:#24292e;letter-spacing:.022em">Pending Alert</div><div class="t m2" style="left:496.8px;top:48.2px;font-size:53.6px;transform:translateX(-100%);color:#24292e">1</div><div style="left:68.8px;top:86.8px;width:155.2px;height:85.2px;background:rgba(255,255,255,.12)"></div><div style="left:68.8px;top:86.8px;width:30px;height:85.2px;background:rgba(255,255,255,.4)"></div><div style="left:108.8px;top:86.8px;width:10px;height:85.2px;background:rgba(255,255,255,.4)"></div><div style="left:124px;top:86.8px;width:3.2px;height:85.2px;background:rgba(255,255,255,.4)"></div><div style="left:144px;top:86.8px;width:6.8px;height:85.2px;background:rgba(255,255,255,.4)"></div><div style="left:164px;top:86.8px;width:8px;height:85.2px;background:rgba(255,255,255,.4)"></div><div style="left:185.2px;top:86.8px;width:8px;height:85.2px;background:rgba(255,255,255,.4)"></div><div style="left:198.8px;top:86.8px;width:25.2px;height:85.2px;background:rgba(255,255,255,.4)"></div></div>
<div class="y c" style="left:588.8px;top:1441.2px;width:521.2px;height:113.6px;"><div class="t m" style="left:11.2px;top:30.9px;font-size:32px;color:#24292e;letter-spacing:-.035em">NodeDiskSlow</div><div class="t" style="left:504.4px;top:34.8px;font-size:36.8px;transform:translateX(-100%);color:#24292e;font-weight:bold">1</div></div>
<div class="y c" style="left:588.8px;top:1562px;width:521.2px;height:111.2px;"><div class="t m" style="left:11.2px;top:30.9px;font-size:32px;color:#24292e;letter-spacing:-.035em">NodeLoadHigh</div><div class="t" style="left:504.4px;top:34.8px;font-size:36.8px;transform:translateX(-100%);color:#24292e;font-weight:bold">1</div><div style="left:132.4px;top:58px;width:1.6px;height:53.2px;background:rgba(255,255,255,.5)"></div></div>
<div class="y c" style="left:588.8px;top:1680px;width:521.2px;height:113.2px;"><div class="t m" style="left:11.2px;top:30.9px;font-size:32px;color:#24292e;letter-spacing:-.035em">NodeTcpRetransHigh</div><div class="t" style="left:504.4px;top:34.8px;font-size:36.8px;transform:translateX(-100%);color:#24292e;font-weight:bold">1</div><div style="left:68.8px;top:60px;width:151.6px;height:53.2px;background:rgba(255,255,255,.38)"></div></div>
<div style="left:46.8px;top:1808.4px;width:3221.2px;height:47.6px;background:#fff"></div>
<svg style="left:54.4px;top:1825.6px;" width="10.4" height="16.8" viewBox="0 0 2.60 4.20"><path d="M.7 .7l1.2 1.4L.7 3.5" fill="none" stroke="#333" stroke-width=".5"/></svg>
<div class="t" style="left:72px;top:1833.3px;font-size:25.2px;color:#24292e;font-weight:bold;letter-spacing:-.01em">Key Metrics</div>
<div class="t" style="left:236.8px;top:1834.9px;font-size:19.2px;color:#555;font-style:italic">(6 panels)</div>
<svg style="left:3248.4px;top:1818.4px;" width="16.8" height="32.4" viewBox="0 0 4.20 8.10"><g fill="#444"><rect x="0.3" y="0.3" width="1.2" height="1.2"/><rect x="0.3" y="2.4" width="1.2" height="1.2"/><rect x="0.3" y="4.5" width="1.2" height="1.2"/><rect x="0.3" y="6.6" width="1.2" height="1.2"/><rect x="2.6" y="0.3" width="1.2" height="1.2"/><rect x="2.6" y="2.4" width="1.2" height="1.2"/><rect x="2.6" y="4.5" width="1.2" height="1.2"/><rect x="2.6" y="6.6" width="1.2" height="1.2"/></g></svg>
<div class="b c" style="left:1126.8px;top:213.2px;width:260.4px;height:166.8px;"><div class="t w m3" style="left:130.2px;top:71.9px;font-size:25.6px;transform:translateX(-50%);">Node</div><div class="t w" style="left:130.2px;top:99.8px;font-size:22.4px;transform:translateX(-50%);font-weight:bold;letter-spacing:-.02em">241</div></div>
<div class="b c" style="left:1394.8px;top:213.2px;width:260px;height:166.8px;"><div class="t w m3" style="left:130px;top:71.9px;font-size:25.6px;transform:translateX(-50%);">Core</div><div class="t w" style="left:130px;top:99.8px;font-size:22.4px;transform:translateX(-50%);font-weight:bold;letter-spacing:-.02em">13400</div></div>
<div class="b c" style="left:1661.2px;top:213.2px;width:262px;height:166.8px;"><div class="t w m3" style="left:131px;top:71.9px;font-size:25.6px;transform:translateX(-50%);">Mem</div><div class="t w" style="left:131px;top:99.8px;font-size:22.4px;transform:translateX(-50%);font-weight:bold;letter-spacing:-.02em">95.5 TB</div></div>
<div class="b c" style="left:1929.2px;top:213.2px;width:259.6px;height:166.8px;"><div class="t w m3" style="left:129.8px;top:71.9px;font-size:25.6px;transform:translateX(-50%);">Disk</div><div class="t w" style="left:129.8px;top:99.8px;font-size:22.4px;transform:translateX(-50%);font-weight:bold;letter-spacing:-.02em">1.76 PB</div></div>
<div class="b c" style="left:2203.2px;top:213.2px;width:253.6px;height:166.8px;"><svg style="left:0;top:0" width="253.6" height="166.8" viewBox="0 0 63.40 41.70"><polygon points="0,41.7 0.0,21.2 1.5,19.7 3.0,21.7 4.5,15.7 5.5,13.2 6.5,17.7 8.0,20.7 10.0,25.7 12.0,29.7 14.0,31.7 15.5,32.0 17.0,30.2 19.0,28.7 21.0,26.7 22.5,27.2 24.0,24.7 26.0,23.2 28.0,22.5 30.0,22.7 32.0,22.0 34.0,22.3 36.0,21.7 38.0,21.3 39.5,20.7 41.0,21.7 43.0,22.2 45.0,21.9 47.0,22.7 49.0,22.5 51.0,21.7 53.0,21.2 55.0,19.7 57.0,18.2 59.0,17.3 60.5,18.2 62.0,19.7 63.4,21.2 63.4,41.7" fill="rgba(255,255,255,.38)"/><polyline points="0.0,21.2 1.5,19.7 3.0,21.7 4.5,15.7 5.5,13.2 6.5,17.7 8.0,20.7 10.0,25.7 12.0,29.7 14.0,31.7 15.5,32.0 17.0,30.2 19.0,28.7 21.0,26.7 22.5,27.2 24.0,24.7 26.0,23.2 28.0,22.5 30.0,22.7 32.0,22.0 34.0,22.3 36.0,21.7 38.0,21.3 39.5,20.7 41.0,21.7 43.0,22.2 45.0,21.9 47.0,22.7 49.0,22.5 51.0,21.7 53.0,21.2 55.0,19.7 57.0,18.2 59.0,17.3 60.5,18.2 62.0,19.7 63.4,21.2" fill="none" stroke="rgba(255,255,255,.35)" stroke-width=".5"/></svg><div class="t w" style="left:21.6px;top:30.7px;font-size:18.8px;">CPU</div><div class="t w" style="left:20.8px;top:60.8px;font-size:30px;font-weight:bold;letter-spacing:-.055em">4.00%</div></div>
<div class="b c" style="left:2474.8px;top:213.2px;width:253.2px;height:166.8px;"><svg style="left:0;top:0" width="253.2" height="166.8" viewBox="0 0 63.30 41.70"><polygon points="0,41.7 0.0,21.9 0.7,22.2 1.4,23.2 2.0,23.6 2.7,24.4 3.5,18.7 3.9,14.8 4.4,18.7 5.2,20.2 6.3,17.2 6.9,16.0 8.0,16.5 8.8,18.7 9.5,21.3 10.2,23.6 10.8,25.3 11.5,26.7 12.2,27.9 12.8,30.3 13.6,29.2 14.4,29.4 15.2,27.8 16.1,25.2 16.9,23.6 17.6,22.7 18.3,18.5 18.9,22.2 19.6,23.6 20.3,24.3 21.0,25.7 21.6,27.1 22.2,27.0 22.8,27.7 23.5,27.7 24.3,26.7 25.0,26.2 25.7,25.8 26.3,24.5 27.0,24.4 27.6,24.8 28.2,25.4 28.8,25.1 29.4,25.6 30.0,25.5 30.6,25.7 31.2,24.8 31.9,25.7 32.5,25.4 33.1,25.0 33.7,25.2 34.4,24.4 35.0,25.5 35.7,24.9 36.3,25.1 37.0,24.7 37.7,25.2 38.4,24.9 39.1,25.1 39.8,24.3 40.5,24.4 41.3,21.7 41.8,18.5 42.3,21.7 43.0,24.4 43.6,24.9 44.2,24.6 44.8,25.4 45.4,25.4 46.0,25.0 46.6,24.5 47.3,24.7 47.9,24.9 48.6,26.0 49.2,25.3 49.9,25.7 50.5,25.6 51.3,24.7 52.1,24.3 52.9,23.7 53.5,19.4 54.1,22.7 54.7,23.6 55.5,23.1 56.2,22.8 57.0,22.7 57.6,22.3 58.3,21.7 58.9,21.0 59.6,19.2 60.2,21.7 60.6,22.7 61.3,22.8 62.0,21.7 62.7,22.9 63.4,23.6 63.3,41.7" fill="rgba(255,255,255,.38)"/><polyline points="0.0,21.9 0.7,22.2 1.4,23.2 2.0,23.6 2.7,24.4 3.5,18.7 3.9,14.8 4.4,18.7 5.2,20.2 6.3,17.2 6.9,16.0 8.0,16.5 8.8,18.7 9.5,21.3 10.2,23.6 10.8,25.3 11.5,26.7 12.2,27.9 12.8,30.3 13.6,29.2 14.4,29.4 15.2,27.8 16.1,25.2 16.9,23.6 17.6,22.7 18.3,18.5 18.9,22.2 19.6,23.6 20.3,24.3 21.0,25.7 21.6,27.1 22.2,27.0 22.8,27.7 23.5,27.7 24.3,26.7 25.0,26.2 25.7,25.8 26.3,24.5 27.0,24.4 27.6,24.8 28.2,25.4 28.8,25.1 29.4,25.6 30.0,25.5 30.6,25.7 31.2,24.8 31.9,25.7 32.5,25.4 33.1,25.0 33.7,25.2 34.4,24.4 35.0,25.5 35.7,24.9 36.3,25.1 37.0,24.7 37.7,25.2 38.4,24.9 39.1,25.1 39.8,24.3 40.5,24.4 41.3,21.7 41.8,18.5 42.3,21.7 43.0,24.4 43.6,24.9 44.2,24.6 44.8,25.4 45.4,25.4 46.0,25.0 46.6,24.5 47.3,24.7 47.9,24.9 48.6,26.0 49.2,25.3 49.9,25.7 50.5,25.6 51.3,24.7 52.1,24.3 52.9,23.7 53.5,19.4 54.1,22.7 54.7,23.6 55.5,23.1 56.2,22.8 57.0,22.7 57.6,22.3 58.3,21.7 58.9,21.0 59.6,19.2 60.2,21.7 60.6,22.7 61.3,22.8 62.0,21.7 62.7,22.9 63.4,23.6" fill="none" stroke="rgba(255,255,255,.35)" stroke-width=".5"/></svg><div class="t w" style="left:21.6px;top:30.7px;font-size:18.8px;">Load</div><div class="t w" style="left:20.8px;top:60.8px;font-size:30px;font-weight:bold;letter-spacing:-.055em">0.0358%</div></div>
<div class="b c" style="left:2744.8px;top:213.2px;width:252px;height:166.8px;"><svg style="left:0;top:0" width="252" height="166.8" viewBox="0 0 63.00 41.70"><polygon points="0,41.7 0.0,15.4 3.0,15.7 6.0,17.0 9.0,18.9 12.0,20.7 14.5,21.5 16.5,21.4 19.0,20.1 22.0,18.5 25.0,17.3 28.0,16.9 32.0,17.0 36.0,17.2 40.0,16.9 42.0,17.2 44.0,16.9 48.0,16.7 52.0,16.2 56.0,15.4 60.0,14.5 63.0,14.1 63.0,41.7" fill="rgba(255,255,255,.38)"/><polyline points="0.0,15.4 3.0,15.7 6.0,17.0 9.0,18.9 12.0,20.7 14.5,21.5 16.5,21.4 19.0,20.1 22.0,18.5 25.0,17.3 28.0,16.9 32.0,17.0 36.0,17.2 40.0,16.9 42.0,17.2 44.0,16.9 48.0,16.7 52.0,16.2 56.0,15.4 60.0,14.5 63.0,14.1" fill="none" stroke="rgba(255,255,255,.35)" stroke-width=".5"/></svg><div class="t w" style="left:21.6px;top:30.7px;font-size:18.8px;">Memory</div><div class="t w" style="left:20.8px;top:60.8px;font-size:30px;font-weight:bold;letter-spacing:-.055em">6.91%</div></div>
<div class="g c" style="left:3015.2px;top:213.2px;width:250.8px;height:166.8px;"><svg style="left:0;top:0" width="250.8" height="166.8" viewBox="0 0 62.70 41.70"><polygon points="0,41.7 0.0,16.3 20.0,16.3 32.0,16.3 33.5,16.8 40.0,16.8 62.7,16.8 62.7,41.7" fill="rgba(255,255,255,.38)"/><polyline points="0.0,16.3 20.0,16.3 32.0,16.3 33.5,16.8 40.0,16.8 62.7,16.8" fill="none" stroke="rgba(255,255,255,.35)" stroke-width=".5"/></svg><div class="t w" style="left:21.6px;top:30.7px;font-size:18.8px;">Space</div><div class="t w" style="left:20.8px;top:60.8px;font-size:30px;font-weight:bold;letter-spacing:-.055em">23.4%</div></div>
<div style="left:1128px;top:398.8px;width:2137.6px;height:1027.6px;background:#fff;overflow:hidden;border-radius:1px"><div class="t" style="left:1068.8px;top:24.8px;font-size:22px;transform:translateX(-50%);color:#24292e;font-weight:bold">Nodes</div><div class="t" style="left:12px;top:14.6px;font-size:14.4px;color:#555;font-weight:bold">i</div><div style="left:0px;top:49.2px;width:2137.6px;height:55.2px;background:#f7f8fa"></div><div class="t hh" style="left:85px;top:76.2px;font-size:23.6px;transform:translateX(-50%);color:#3274d9;letter-spacing:-.02em">Cluster</div><div class="t hh" style="left:272px;top:76.2px;font-size:23.6px;transform:translateX(-50%);color:#3274d9;letter-spacing:-.02em">Instance</div><div style="left:169.2px;top:49.2px;width:1.6px;height:55.2px;background:#e6e8eb"></div><div class="t hh" style="left:488px;top:76.2px;font-size:23.6px;transform:translateX(-50%);color:#3274d9;letter-spacing:-.02em">IP</div><div style="left:373.2px;top:49.2px;width:1.6px;height:55.2px;background:#e6e8eb"></div><div class="t hh" style="left:747px;top:76.2px;font-size:23.6px;transform:translateX(-50%);color:#3274d9;letter-spacing:-.02em">Hostname</div><div style="left:601.2px;top:49.2px;width:1.6px;height:55.2px;background:#e6e8eb"></div><div class="t hh" style="left:945.4px;top:76.2px;font-size:23.6px;transform:translateX(-50%);color:#3274d9;letter-spacing:-.02em">Targets</div><div style="left:891.2px;top:49.2px;width:1.6px;height:55.2px;background:#e6e8eb"></div><div class="t hh" style="left:1039.4px;top:76.2px;font-size:23.6px;transform:translateX(-50%);color:#3274d9;letter-spacing:-.02em">Core</div><div style="left:998px;top:49.2px;width:1.6px;height:55.2px;background:#e6e8eb"></div><div class="t hh" style="left:1177.6px;top:76.2px;font-size:23.6px;transform:translateX(-50%);color:#3274d9;letter-spacing:-.02em">CPU%</div><div style="left:1079.2px;top:49.2px;width:1.6px;height:55.2px;background:#e6e8eb"></div><div class="t hh" style="left:1331.2px;top:76.2px;font-size:23.6px;transform:translateX(-50%);color:#3274d9;letter-spacing:-.02em">Mem</div><div style="left:1274.4px;top:49.2px;width:1.6px;height:55.2px;background:#e6e8eb"></div><div class="t hh" style="left:1485.2px;top:76.2px;font-size:23.6px;transform:translateX(-50%);color:#3274d9;letter-spacing:-.02em">Mem%</div><div style="left:1386.4px;top:49.2px;width:1.6px;height:55.2px;background:#e6e8eb"></div><div class="t hh" style="left:1647.6px;top:76.2px;font-size:23.6px;transform:translateX(-50%);color:#3274d9;letter-spacing:-.02em">Space</div><div style="left:1582.4px;top:49.2px;width:1.6px;height:55.2px;background:#e6e8eb"></div><div class="t hh" style="left:1808.6px;top:76.2px;font-size:23.6px;transform:translateX(-50%);color:#3274d9;letter-spacing:-.02em">Space%</div><div style="left:1711.2px;top:49.2px;width:1.6px;height:55.2px;background:#e6e8eb"></div><div class="t hh" style="left:2027.4px;top:76.2px;font-size:23.6px;transform:translateX(-50%);color:#3274d9;letter-spacing:-.02em">OS Release</div><div style="left:1904.4px;top:49.2px;width:1.6px;height:55.2px;background:#e6e8eb"></div><div style="left:0px;top:104.4px;width:2137.6px;height:56.4px;border-bottom:.3px solid rgba(0,0,0,.07)"><div class="gy" style="left:1.2px;top:1.2px;width:168.4px;height:54.8px;"></div><div class="gy" style="left:171.2px;top:1.2px;width:202.4px;height:54.8px;"></div><div class="gy" style="left:375.2px;top:1.2px;width:226.4px;height:54.8px;"></div><div class="gy" style="left:603.2px;top:1.2px;width:288.4px;height:54.8px;"></div><div class="gy" style="left:1906.4px;top:1.2px;width:230.8px;height:54.8px;"></div><div class="t u" style="left:84.8px;top:27.3px;font-size:24px;transform:translateX(-50%);">pg-abtest-tt</div><div class="t u" style="left:272px;top:27.3px;font-size:24px;transform:translateX(-50%);">pg-abtest-tt-1</div><div class="t u" style="left:488px;top:27.3px;font-size:24px;transform:translateX(-50%);">10.189.54.15</div><div class="t u" style="left:612px;top:27.3px;font-size:24px;letter-spacing:-.028em">1.pg.abtest.tt.bjs.p1staff…</div><div class="t d" style="left:945.2px;top:27.3px;font-size:24px;transform:translateX(-50%);">4</div><div class="r64" style="left:1000px;top:0.8px;width:79.6px;height:55.2px;"></div><div class="t w" style="left:1039.6px;top:27.3px;font-size:24px;transform:translateX(-50%);">64</div><div style="left:1090.4px;top:12px;width:87.2px;height:33.2px;background:#efeff0;border-radius:.5px"></div><div style="left:1090.4px;top:12px;width:4.4px;height:33.2px;background:#6d94dd;border-radius:.4px"></div><div class="t h" style="left:1248.8px;top:27.3px;font-size:24px;transform:translateX(-100%);color:#3d71d9;letter-spacing:-.05em">5.0%</div><div class="rm" style="left:1276.4px;top:0.8px;width:110.4px;height:55.2px;"></div><div class="t w" style="left:1331.2px;top:27.3px;font-size:24px;transform:translateX(-50%);letter-spacing:-.06em">404 GB</div><div style="left:1397.2px;top:12px;width:88px;height:33.2px;background:#efeff0;border-radius:.5px"></div><div style="left:1397.2px;top:12px;width:3.9px;height:33.2px;background:#6d94dd;border-radius:.4px"></div><div class="t h" style="left:1554.4px;top:27.3px;font-size:24px;transform:translateX(-100%);color:#3d71d9;letter-spacing:-.05em">4.4%</div><div class="rs" style="left:1584.4px;top:0.8px;width:127.2px;height:55.2px;"></div><div class="t w" style="left:1647.6px;top:27.3px;font-size:24px;transform:translateX(-50%);letter-spacing:-.05em">8.5 TB</div><div style="left:1723.2px;top:12px;width:73.6px;height:33.2px;background:#efeff0;border-radius:.5px"></div><div style="left:1723.2px;top:12px;width:38.9px;height:33.2px;background:linear-gradient(90deg,#3274d9,#56a64b);border-radius:.5px"></div><div class="t h" style="left:1879.2px;top:27.3px;font-size:24px;transform:translateX(-100%);color:#56a64b;letter-spacing:-.05em">52.8%</div><div class="t d" style="left:1917.2px;top:27.3px;font-size:24px;letter-spacing:-.055em">3.10.0-1160.15.2.el7…</div></div><div style="left:0px;top:160.8px;width:2137.6px;height:56.4px;border-bottom:.3px solid rgba(0,0,0,.07)"><div class="gy" style="left:1.2px;top:1.2px;width:168.4px;height:54.8px;"></div><div class="gy" style="left:171.2px;top:1.2px;width:202.4px;height:54.8px;"></div><div class="gy" style="left:375.2px;top:1.2px;width:226.4px;height:54.8px;"></div><div class="gy" style="left:603.2px;top:1.2px;width:288.4px;height:54.8px;"></div><div class="gy" style="left:1906.4px;top:1.2px;width:230.8px;height:54.8px;"></div><div class="t u" style="left:84.8px;top:27.3px;font-size:24px;transform:translateX(-50%);">pg-abtest-tt</div><div class="t u" style="left:272px;top:27.3px;font-size:24px;transform:translateX(-50%);">pg-abtest-tt-2</div><div class="t u" style="left:488px;top:27.3px;font-size:24px;transform:translateX(-50%);">10.189.57.68</div><div class="t u" style="left:612px;top:27.3px;font-size:24px;letter-spacing:-.028em">2.pg.abtest.tt.bjs.p1staff…</div><div class="t d" style="left:945.2px;top:27.3px;font-size:24px;transform:translateX(-50%);">4</div><div class="r64" style="left:1000px;top:0.8px;width:79.6px;height:55.2px;"></div><div class="t w" style="left:1039.6px;top:27.3px;font-size:24px;transform:translateX(-50%);">64</div><div style="left:1090.4px;top:12px;width:87.2px;height:33.2px;background:#efeff0;border-radius:.5px"></div><div style="left:1090.4px;top:12px;width:3.6px;height:33.2px;background:#6d94dd;border-radius:.4px"></div><div class="t h" style="left:1248.8px;top:27.3px;font-size:24px;transform:translateX(-100%);color:#3d71d9;letter-spacing:-.05em">3.8%</div><div class="rm" style="left:1276.4px;top:0.8px;width:110.4px;height:55.2px;"></div><div class="t w" style="left:1331.2px;top:27.3px;font-size:24px;transform:translateX(-50%);letter-spacing:-.06em">404 GB</div><div style="left:1397.2px;top:12px;width:88px;height:33.2px;background:#efeff0;border-radius:.5px"></div><div style="left:1397.2px;top:12px;width:3.9px;height:33.2px;background:#6d94dd;border-radius:.4px"></div><div class="t h" style="left:1554.4px;top:27.3px;font-size:24px;transform:translateX(-100%);color:#3d71d9;letter-spacing:-.05em">4.4%</div><div class="rs" style="left:1584.4px;top:0.8px;width:127.2px;height:55.2px;"></div><div class="t w" style="left:1647.6px;top:27.3px;font-size:24px;transform:translateX(-50%);letter-spacing:-.05em">8.5 TB</div><div style="left:1723.2px;top:12px;width:73.6px;height:33.2px;background:#efeff0;border-radius:.5px"></div><div style="left:1723.2px;top:12px;width:34.5px;height:33.2px;background:linear-gradient(90deg,#3274d9,#56a64b);border-radius:.5px"></div><div class="t h" style="left:1879.2px;top:27.3px;font-size:24px;transform:translateX(-100%);color:#56a64b;letter-spacing:-.05em">46.9%</div><div class="t d" style="left:1917.2px;top:27.3px;font-size:24px;letter-spacing:-.055em">3.10.0-1160.15.2.el7…</div></div><div style="left:0px;top:217.2px;width:2137.6px;height:56.4px;border-bottom:.3px solid rgba(0,0,0,.07)"><div class="gy" style="left:1.2px;top:1.2px;width:168.4px;height:54.8px;"></div><div class="gy" style="left:171.2px;top:1.2px;width:202.4px;height:54.8px;"></div><div class="gy" style="left:375.2px;top:1.2px;width:226.4px;height:54.8px;"></div><div class="gy" style="left:603.2px;top:1.2px;width:288.4px;height:54.8px;"></div><div class="gy" style="left:1906.4px;top:1.2px;width:230.8px;height:54.8px;"></div><div class="t u" style="left:84.8px;top:27.3px;font-size:24px;transform:translateX(-50%);">pg-abtest-tt</div><div class="t u" style="left:272px;top:27.3px;font-size:24px;transform:translateX(-50%);">pg-abtest-tt-3</div><div class="t u" style="left:488px;top:27.3px;font-size:24px;transform:translateX(-50%);">10.189.57.69</div><div class="t u" style="left:612px;top:27.3px;font-size:24px;letter-spacing:-.028em">3.pg.abtest.tt.bjs.p1staff…</div><div class="t d" style="left:945.2px;top:27.3px;font-size:24px;transform:translateX(-50%);">4</div><div class="r64" style="left:1000px;top:0.8px;width:79.6px;height:55.2px;"></div><div class="t w" style="left:1039.6px;top:27.3px;font-size:24px;transform:translateX(-50%);">64</div><div style="left:1090.4px;top:12px;width:87.2px;height:33.2px;background:#efeff0;border-radius:.5px"></div><div style="left:1090.4px;top:12px;width:3.7px;height:33.2px;background:#6d94dd;border-radius:.4px"></div><div class="t h" style="left:1248.8px;top:27.3px;font-size:24px;transform:translateX(-100%);color:#3d71d9;letter-spacing:-.05em">4.3%</div><div class="rm" style="left:1276.4px;top:0.8px;width:110.4px;height:55.2px;"></div><div class="t w" style="left:1331.2px;top:27.3px;font-size:24px;transform:translateX(-50%);letter-spacing:-.06em">404 GB</div><div style="left:1397.2px;top:12px;width:88px;height:33.2px;background:#efeff0;border-radius:.5px"></div><div style="left:1397.2px;top:12px;width:3.9px;height:33.2px;background:#6d94dd;border-radius:.4px"></div><div class="t h" style="left:1554.4px;top:27.3px;font-size:24px;transform:translateX(-100%);color:#3d71d9;letter-spacing:-.05em">4.4%</div><div class="rs" style="left:1584.4px;top:0.8px;width:127.2px;height:55.2px;"></div><div class="t w" style="left:1647.6px;top:27.3px;font-size:24px;transform:translateX(-50%);letter-spacing:-.05em">8.5 TB</div><div style="left:1723.2px;top:12px;width:73.6px;height:33.2px;background:#efeff0;border-radius:.5px"></div><div style="left:1723.2px;top:12px;width:34.5px;height:33.2px;background:linear-gradient(90deg,#3274d9,#56a64b);border-radius:.5px"></div><div class="t h" style="left:1879.2px;top:27.3px;font-size:24px;transform:translateX(-100%);color:#56a64b;letter-spacing:-.05em">46.9%</div><div class="t d" style="left:1917.2px;top:27.3px;font-size:24px;letter-spacing:-.055em">3.10.0-1160.15.2.el7…</div></div><div style="left:0px;top:273.6px;width:2137.6px;height:56.4px;border-bottom:.3px solid rgba(0,0,0,.07)"><div class="gy" style="left:1.2px;top:1.2px;width:168.4px;height:54.8px;"></div><div class="gy" style="left:171.2px;top:1.2px;width:202.4px;height:54.8px;"></div><div class="gy" style="left:375.2px;top:1.2px;width:226.4px;height:54.8px;"></div><div class="gy" style="left:603.2px;top:1.2px;width:288.4px;height:54.8px;"></div><div class="gy" style="left:1906.4px;top:1.2px;width:230.8px;height:54.8px;"></div><div class="t u" style="left:84.8px;top:27.3px;font-size:24px;transform:translateX(-50%);">pg-abtest-tt</div><div class="t u" style="left:272px;top:27.3px;font-size:24px;transform:translateX(-50%);">pg-abtest-tt-5</div><div class="t u" style="left:488px;top:27.3px;font-size:24px;transform:translateX(-50%);">10.189.58.54</div><div class="t u" style="left:612px;top:27.3px;font-size:24px;letter-spacing:-.028em">5.pg.abtest.tt.bjs.p1staff…</div><div class="t d" style="left:945.2px;top:27.3px;font-size:24px;transform:translateX(-50%);">4</div><div class="r64" style="left:1000px;top:0.8px;width:79.6px;height:55.2px;"></div><div class="t w" style="left:1039.6px;top:27.3px;font-size:24px;transform:translateX(-50%);">64</div><div style="left:1090.4px;top:12px;width:87.2px;height:33.2px;background:#efeff0;border-radius:.5px"></div><div style="left:1090.4px;top:12px;width:3.6px;height:33.2px;background:#6d94dd;border-radius:.4px"></div><div class="t h" style="left:1248.8px;top:27.3px;font-size:24px;transform:translateX(-100%);color:#3d71d9;letter-spacing:-.05em">3.9%</div><div class="rm" style="left:1276.4px;top:0.8px;width:110.4px;height:55.2px;"></div><div class="t w" style="left:1331.2px;top:27.3px;font-size:24px;transform:translateX(-50%);letter-spacing:-.06em">404 GB</div><div style="left:1397.2px;top:12px;width:88px;height:33.2px;background:#efeff0;border-radius:.5px"></div><div style="left:1397.2px;top:12px;width:3.9px;height:33.2px;background:#6d94dd;border-radius:.4px"></div><div class="t h" style="left:1554.4px;top:27.3px;font-size:24px;transform:translateX(-100%);color:#3d71d9;letter-spacing:-.05em">4.4%</div><div class="rs" style="left:1584.4px;top:0.8px;width:127.2px;height:55.2px;"></div><div class="t w" style="left:1647.6px;top:27.3px;font-size:24px;transform:translateX(-50%);letter-spacing:-.05em">8.5 TB</div><div style="left:1723.2px;top:12px;width:73.6px;height:33.2px;background:#efeff0;border-radius:.5px"></div><div style="left:1723.2px;top:12px;width:34.9px;height:33.2px;background:linear-gradient(90deg,#3274d9,#56a64b);border-radius:.5px"></div><div class="t h" style="left:1879.2px;top:27.3px;font-size:24px;transform:translateX(-100%);color:#56a64b;letter-spacing:-.05em">47.4%</div><div class="t d" style="left:1917.2px;top:27.3px;font-size:24px;letter-spacing:-.055em">3.10.0-1160.15.2.el7…</div></div><div style="left:0px;top:330px;width:2137.6px;height:56.4px;border-bottom:.3px solid rgba(0,0,0,.07)"><div class="gy" style="left:1.2px;top:1.2px;width:168.4px;height:54.8px;"></div><div class="gy" style="left:171.2px;top:1.2px;width:202.4px;height:54.8px;"></div><div class="gy" style="left:375.2px;top:1.2px;width:226.4px;height:54.8px;"></div><div class="gy" style="left:603.2px;top:1.2px;width:288.4px;height:54.8px;"></div><div class="gy" style="left:1906.4px;top:1.2px;width:230.8px;height:54.8px;"></div><div class="t u" style="left:84.8px;top:27.3px;font-size:24px;transform:translateX(-50%);">pg-abtest-tt</div><div class="t u" style="left:272px;top:27.3px;font-size:24px;transform:translateX(-50%);">pg-abtest-tt-6</div><div class="t u" style="left:488px;top:27.3px;font-size:24px;transform:translateX(-50%);">10.189.73.71</div><div class="t u" style="left:612px;top:27.3px;font-size:24px;letter-spacing:-.028em">6.pg.abtest.tt.bjs.p1staff…</div><div class="t d" style="left:945.2px;top:27.3px;font-size:24px;transform:translateX(-50%);">4</div><div class="r64" style="left:1000px;top:0.8px;width:79.6px;height:55.2px;"></div><div class="t w" style="left:1039.6px;top:27.3px;font-size:24px;transform:translateX(-50%);">64</div><div style="left:1090.4px;top:12px;width:87.2px;height:33.2px;background:#efeff0;border-radius:.5px"></div><div style="left:1090.4px;top:12px;width:3.7px;height:33.2px;background:#6d94dd;border-radius:.4px"></div><div class="t h" style="left:1248.8px;top:27.3px;font-size:24px;transform:translateX(-100%);color:#3d71d9;letter-spacing:-.05em">4.3%</div><div class="rm" style="left:1276.4px;top:0.8px;width:110.4px;height:55.2px;"></div><div class="t w" style="left:1331.2px;top:27.3px;font-size:24px;transform:translateX(-50%);letter-spacing:-.06em">405 GB</div><div style="left:1397.2px;top:12px;width:88px;height:33.2px;background:#efeff0;border-radius:.5px"></div><div style="left:1397.2px;top:12px;width:3.9px;height:33.2px;background:#6d94dd;border-radius:.4px"></div><div class="t h" style="left:1554.4px;top:27.3px;font-size:24px;transform:translateX(-100%);color:#3d71d9;letter-spacing:-.05em">4.4%</div><div class="rs" style="left:1584.4px;top:0.8px;width:127.2px;height:55.2px;"></div><div class="t w" style="left:1647.6px;top:27.3px;font-size:24px;transform:translateX(-50%);letter-spacing:-.05em">8.5 TB</div><div style="left:1723.2px;top:12px;width:73.6px;height:33.2px;background:#efeff0;border-radius:.5px"></div><div style="left:1723.2px;top:12px;width:35.6px;height:33.2px;background:linear-gradient(90deg,#3274d9,#56a64b);border-radius:.5px"></div><div class="t h" style="left:1879.2px;top:27.3px;font-size:24px;transform:translateX(-100%);color:#56a64b;letter-spacing:-.05em">48.4%</div><div class="t d" style="left:1917.2px;top:27.3px;font-size:24px;letter-spacing:-.055em">3.10.0-1160.15.2.el7…</div></div><div style="left:0px;top:386.4px;width:2137.6px;height:56.4px;border-bottom:.3px solid rgba(0,0,0,.07)"><div class="gy" style="left:1.2px;top:1.2px;width:168.4px;height:54.8px;"></div><div class="gy" style="left:171.2px;top:1.2px;width:202.4px;height:54.8px;"></div><div class="gy" style="left:375.2px;top:1.2px;width:226.4px;height:54.8px;"></div><div class="gy" style="left:603.2px;top:1.2px;width:288.4px;height:54.8px;"></div><div class="gy" style="left:1906.4px;top:1.2px;width:230.8px;height:54.8px;"></div><div class="t u" style="left:84.8px;top:27.3px;font-size:24px;transform:translateX(-50%);">pg-activity-tt</div><div class="t u" style="left:272px;top:27.3px;font-size:24px;transform:translateX(-50%);">pg-activity-tt-1</div><div class="t u" style="left:488px;top:27.3px;font-size:24px;transform:translateX(-50%);">10.189.72.43</div><div class="t u" style="left:612px;top:27.3px;font-size:24px;letter-spacing:-.028em">1.pg.activity.tt.bjs.p1staf…</div><div class="t d" style="left:945.2px;top:27.3px;font-size:24px;transform:translateX(-50%);">4</div><div class="r56" style="left:1000px;top:0.8px;width:79.6px;height:55.2px;"></div><div class="t w" style="left:1039.6px;top:27.3px;font-size:24px;transform:translateX(-50%);">56</div><div style="left:1090.4px;top:12px;width:87.2px;height:33.2px;background:#efeff0;border-radius:.5px"></div><div style="left:1090.4px;top:12px;width:3.6px;height:33.2px;background:#6d94dd;border-radius:.4px"></div><div class="t h" style="left:1248.8px;top:27.3px;font-size:24px;transform:translateX(-100%);color:#3d71d9;letter-spacing:-.05em">1.1%</div><div class="rm" style="left:1276.4px;top:0.8px;width:110.4px;height:55.2px;"></div><div class="t w" style="left:1331.2px;top:27.3px;font-size:24px;transform:translateX(-50%);letter-spacing:-.06em">405 GB</div><div style="left:1397.2px;top:12px;width:88px;height:33.2px;background:#efeff0;border-radius:.5px"></div><div style="left:1397.2px;top:12px;width:3.8px;height:33.2px;background:#6d94dd;border-radius:.4px"></div><div class="t h" style="left:1554.4px;top:27.3px;font-size:24px;transform:translateX(-100%);color:#3d71d9;letter-spacing:-.05em">4.3%</div><div class="r48" style="left:1584.4px;top:0.8px;width:127.2px;height:55.2px;"></div><div class="t w" style="left:1647.6px;top:27.3px;font-size:24px;transform:translateX(-50%);letter-spacing:-.05em">7.0 TB</div><div style="left:1723.2px;top:12px;width:73.6px;height:33.2px;background:#efeff0;border-radius:.5px"></div><div style="left:1723.2px;top:12px;width:26.3px;height:33.2px;background:linear-gradient(90deg,#3274d9,#56a64b);border-radius:.5px"></div><div class="t h" style="left:1879.2px;top:27.3px;font-size:24px;transform:translateX(-100%);color:#56a64b;letter-spacing:-.05em">35.8%</div><div class="t d" style="left:1917.2px;top:27.3px;font-size:24px;letter-spacing:-.055em">3.10.0-1160.15.2.el7…</div></div><div style="left:0px;top:442.8px;width:2137.6px;height:56.4px;border-bottom:.3px solid rgba(0,0,0,.07)"><div class="gy" style="left:1.2px;top:1.2px;width:168.4px;height:54.8px;"></div><div class="gy" style="left:171.2px;top:1.2px;width:202.4px;height:54.8px;"></div><div class="gy" style="left:375.2px;top:1.2px;width:226.4px;height:54.8px;"></div><div class="gy" style="left:603.2px;top:1.2px;width:288.4px;height:54.8px;"></div><div class="gy" style="left:1906.4px;top:1.2px;width:230.8px;height:54.8px;"></div><div class="t u" style="left:84.8px;top:27.3px;font-size:24px;transform:translateX(-50%);">pg-activity-tt</div><div class="t u" style="left:272px;top:27.3px;font-size:24px;transform:translateX(-50%);">pg-activity-tt-2</div><div class="t u" style="left:488px;top:27.3px;font-size:24px;transform:translateX(-50%);">10.189.54.41</div><div class="t u" style="left:612px;top:27.3px;font-size:24px;letter-spacing:-.028em">2.pg.activity.tt.bjs.p1staf…</div><div class="t d" style="left:945.2px;top:27.3px;font-size:24px;transform:translateX(-50%);">4</div><div class="r56" style="left:1000px;top:0.8px;width:79.6px;height:55.2px;"></div><div class="t w" style="left:1039.6px;top:27.3px;font-size:24px;transform:translateX(-50%);">56</div><div style="left:1090.4px;top:12px;width:87.2px;height:33.2px;background:#efeff0;border-radius:.5px"></div><div style="left:1090.4px;top:12px;width:3.6px;height:33.2px;background:#6d94dd;border-radius:.4px"></div><div class="t h" style="left:1248.8px;top:27.3px;font-size:24px;transform:translateX(-100%);color:#3d71d9;letter-spacing:-.05em">2.5%</div><div class="rm" style="left:1276.4px;top:0.8px;width:110.4px;height:55.2px;"></div><div class="t w" style="left:1331.2px;top:27.3px;font-size:24px;transform:translateX(-50%);letter-spacing:-.06em">405 GB</div><div style="left:1397.2px;top:12px;width:88px;height:33.2px;background:#efeff0;border-radius:.5px"></div><div style="left:1397.2px;top:12px;width:3.8px;height:33.2px;background:#6d94dd;border-radius:.4px"></div><div class="t h" style="left:1554.4px;top:27.3px;font-size:24px;transform:translateX(-100%);color:#3d71d9;letter-spacing:-.05em">4.3%</div><div class="r48" style="left:1584.4px;top:0.8px;width:127.2px;height:55.2px;"></div><div class="t w" style="left:1647.6px;top:27.3px;font-size:24px;transform:translateX(-50%);letter-spacing:-.05em">7.0 TB</div><div style="left:1723.2px;top:12px;width:73.6px;height:33.2px;background:#efeff0;border-radius:.5px"></div><div style="left:1723.2px;top:12px;width:26.3px;height:33.2px;background:linear-gradient(90deg,#3274d9,#56a64b);border-radius:.5px"></div><div class="t h" style="left:1879.2px;top:27.3px;font-size:24px;transform:translateX(-100%);color:#56a64b;letter-spacing:-.05em">35.8%</div><div class="t d" style="left:1917.2px;top:27.3px;font-size:24px;letter-spacing:-.055em">3.10.0-1160.15.2.el7…</div></div><div style="left:0px;top:499.2px;width:2137.6px;height:56.4px;border-bottom:.3px solid rgba(0,0,0,.07)"><div class="gy" style="left:1.2px;top:1.2px;width:168.4px;height:54.8px;"></div><div class="gy" style="left:171.2px;top:1.2px;width:202.4px;height:54.8px;"></div><div class="gy" style="left:375.2px;top:1.2px;width:226.4px;height:54.8px;"></div><div class="gy" style="left:603.2px;top:1.2px;width:288.4px;height:54.8px;"></div><div class="gy" style="left:1906.4px;top:1.2px;width:230.8px;height:54.8px;"></div><div class="t u" style="left:84.8px;top:27.3px;font-size:24px;transform:translateX(-50%);">pg-affiliate-tt</div><div class="t u" style="left:272px;top:27.3px;font-size:24px;transform:translateX(-50%);">pg-affiliate-tt-1</div><div class="t u" style="left:488px;top:27.3px;font-size:24px;transform:translateX(-50%);">10.189.64.23</div><div class="t u" style="left:612px;top:27.3px;font-size:24px;letter-spacing:-.028em">1.pg.affiliate.tt.bjs.p1sta…</div><div class="t d" style="left:945.2px;top:27.3px;font-size:24px;transform:translateX(-50%);">4</div><div class="r56" style="left:1000px;top:0.8px;width:79.6px;height:55.2px;"></div><div class="t w" style="left:1039.6px;top:27.3px;font-size:24px;transform:translateX(-50%);">56</div><div style="left:1090.4px;top:12px;width:87.2px;height:33.2px;background:#efeff0;border-radius:.5px"></div><div style="left:1090.4px;top:12px;width:3.6px;height:33.2px;background:#6d94dd;border-radius:.4px"></div><div class="t h" style="left:1248.8px;top:27.3px;font-size:24px;transform:translateX(-100%);color:#3d71d9;letter-spacing:-.05em">2.8%</div><div class="rm" style="left:1276.4px;top:0.8px;width:110.4px;height:55.2px;"></div><div class="t w" style="left:1331.2px;top:27.3px;font-size:24px;transform:translateX(-50%);letter-spacing:-.06em">405 GB</div><div style="left:1397.2px;top:12px;width:88px;height:33.2px;background:#efeff0;border-radius:.5px"></div><div style="left:1397.2px;top:12px;width:3.9px;height:33.2px;background:#6d94dd;border-radius:.4px"></div><div class="t h" style="left:1554.4px;top:27.3px;font-size:24px;transform:translateX(-100%);color:#3d71d9;letter-spacing:-.05em">4.4%</div><div class="r48" style="left:1584.4px;top:0.8px;width:127.2px;height:55.2px;"></div><div class="t w" style="left:1647.6px;top:27.3px;font-size:24px;transform:translateX(-50%);letter-spacing:-.05em">7.0 TB</div><div style="left:1723.2px;top:12px;width:73.6px;height:33.2px;background:#efeff0;border-radius:.5px"></div><div style="left:1723.2px;top:12px;width:49.6px;height:33.2px;background:linear-gradient(90deg,#3274d9,#56a64b);border-radius:.5px"></div><div class="t h" style="left:1879.2px;top:27.3px;font-size:24px;transform:translateX(-100%);color:#56a64b;letter-spacing:-.05em">67.4%</div><div class="t d" style="left:1917.2px;top:27.3px;font-size:24px;letter-spacing:-.055em">3.10.0-1160.15.2.el7…</div></div><div style="left:0px;top:555.6px;width:2137.6px;height:56.4px;border-bottom:.3px solid rgba(0,0,0,.07)"><div class="gy" style="left:1.2px;top:1.2px;width:168.4px;height:54.8px;"></div><div class="gy" style="left:171.2px;top:1.2px;width:202.4px;height:54.8px;"></div><div class="gy" style="left:375.2px;top:1.2px;width:226.4px;height:54.8px;"></div><div class="gy" style="left:603.2px;top:1.2px;width:288.4px;height:54.8px;"></div><div class="gy" style="left:1906.4px;top:1.2px;width:230.8px;height:54.8px;"></div><div class="t u" style="left:84.8px;top:27.3px;font-size:24px;transform:translateX(-50%);">pg-affiliate-tt</div><div class="t u" style="left:272px;top:27.3px;font-size:24px;transform:translateX(-50%);">pg-affiliate-tt-3</div><div class="t u" style="left:488px;top:27.3px;font-size:24px;transform:translateX(-50%);">10.189.64.25</div><div class="t u" style="left:612px;top:27.3px;font-size:24px;letter-spacing:-.028em">3.pg.affiliate.tt.bjs.p1sta…</div><div class="t d" style="left:945.2px;top:27.3px;font-size:24px;transform:translateX(-50%);">4</div><div class="r56" style="left:1000px;top:0.8px;width:79.6px;height:55.2px;"></div><div class="t w" style="left:1039.6px;top:27.3px;font-size:24px;transform:translateX(-50%);">56</div><div style="left:1090.4px;top:12px;width:87.2px;height:33.2px;background:#efeff0;border-radius:.5px"></div><div style="left:1090.4px;top:12px;width:3.6px;height:33.2px;background:#6d94dd;border-radius:.4px"></div><div class="t h" style="left:1248.8px;top:27.3px;font-size:24px;transform:translateX(-100%);color:#3d71d9;letter-spacing:-.05em">1.5%</div><div class="rm" style="left:1276.4px;top:0.8px;width:110.4px;height:55.2px;"></div><div class="t w" style="left:1331.2px;top:27.3px;font-size:24px;transform:translateX(-50%);letter-spacing:-.06em">405 GB</div><div style="left:1397.2px;top:12px;width:88px;height:33.2px;background:#efeff0;border-radius:.5px"></div><div style="left:1397.2px;top:12px;width:3.8px;height:33.2px;background:#6d94dd;border-radius:.4px"></div><div class="t h" style="left:1554.4px;top:27.3px;font-size:24px;transform:translateX(-100%);color:#3d71d9;letter-spacing:-.05em">4.3%</div><div class="r48" style="left:1584.4px;top:0.8px;width:127.2px;height:55.2px;"></div><div class="t w" style="left:1647.6px;top:27.3px;font-size:24px;transform:translateX(-50%);letter-spacing:-.05em">7.0 TB</div><div style="left:1723.2px;top:12px;width:73.6px;height:33.2px;background:#efeff0;border-radius:.5px"></div><div style="left:1723.2px;top:12px;width:38px;height:33.2px;background:linear-gradient(90deg,#3274d9,#56a64b);border-radius:.5px"></div><div class="t h" style="left:1879.2px;top:27.3px;font-size:24px;transform:translateX(-100%);color:#56a64b;letter-spacing:-.05em">51.6%</div><div class="t d" style="left:1917.2px;top:27.3px;font-size:24px;letter-spacing:-.055em">3.10.0-1160.15.2.el7…</div></div><div style="left:0px;top:612px;width:2137.6px;height:56.4px;border-bottom:.3px solid rgba(0,0,0,.07)"><div class="gy" style="left:1.2px;top:1.2px;width:168.4px;height:54.8px;"></div><div class="gy" style="left:171.2px;top:1.2px;width:202.4px;height:54.8px;"></div><div class="gy" style="left:375.2px;top:1.2px;width:226.4px;height:54.8px;"></div><div class="gy" style="left:603.2px;top:1.2px;width:288.4px;height:54.8px;"></div><div class="gy" style="left:1906.4px;top:1.2px;width:230.8px;height:54.8px;"></div><div class="t u" style="left:84.8px;top:27.3px;font-size:24px;transform:translateX(-50%);">pg-affiliate-tt</div><div class="t u" style="left:272px;top:27.3px;font-size:24px;transform:translateX(-50%);">pg-affiliate-tt-4</div><div class="t u" style="left:488px;top:27.3px;font-size:24px;transform:translateX(-50%);">10.189.59.18</div><div class="t u" style="left:612px;top:27.3px;font-size:24px;letter-spacing:-.028em">4.pg.affiliate.tt.bjs.p1sta…</div><div class="t d" style="left:945.2px;top:27.3px;font-size:24px;transform:translateX(-50%);">4</div><div class="r56" style="left:1000px;top:0.8px;width:79.6px;height:55.2px;"></div><div class="t w" style="left:1039.6px;top:27.3px;font-size:24px;transform:translateX(-50%);">56</div><div style="left:1090.4px;top:12px;width:87.2px;height:33.2px;background:#efeff0;border-radius:.5px"></div><div style="left:1090.4px;top:12px;width:3.6px;height:33.2px;background:#6d94dd;border-radius:.4px"></div><div class="t h" style="left:1248.8px;top:27.3px;font-size:24px;transform:translateX(-100%);color:#3d71d9;letter-spacing:-.05em">1.3%</div><div class="rm" style="left:1276.4px;top:0.8px;width:110.4px;height:55.2px;"></div><div class="t w" style="left:1331.2px;top:27.3px;font-size:24px;transform:translateX(-50%);letter-spacing:-.06em">405 GB</div><div style="left:1397.2px;top:12px;width:88px;height:33.2px;background:#efeff0;border-radius:.5px"></div><div style="left:1397.2px;top:12px;width:3.8px;height:33.2px;background:#6d94dd;border-radius:.4px"></div><div class="t h" style="left:1554.4px;top:27.3px;font-size:24px;transform:translateX(-100%);color:#3d71d9;letter-spacing:-.05em">4.3%</div><div class="r48" style="left:1584.4px;top:0.8px;width:127.2px;height:55.2px;"></div><div class="t w" style="left:1647.6px;top:27.3px;font-size:24px;transform:translateX(-50%);letter-spacing:-.05em">7.0 TB</div><div style="left:1723.2px;top:12px;width:73.6px;height:33.2px;background:#efeff0;border-radius:.5px"></div><div style="left:1723.2px;top:12px;width:38px;height:33.2px;background:linear-gradient(90deg,#3274d9,#56a64b);border-radius:.5px"></div><div class="t h" style="left:1879.2px;top:27.3px;font-size:24px;transform:translateX(-100%);color:#56a64b;letter-spacing:-.05em">51.6%</div><div class="t d" style="left:1917.2px;top:27.3px;font-size:24px;letter-spacing:-.055em">3.10.0-1160.15.2.el7…</div></div><div style="left:0px;top:668.4px;width:2137.6px;height:56.4px;border-bottom:.3px solid rgba(0,0,0,.07)"><div class="gy" style="left:1.2px;top:1.2px;width:168.4px;height:54.8px;"></div><div class="gy" style="left:171.2px;top:1.2px;width:202.4px;height:54.8px;"></div><div class="gy" style="left:375.2px;top:1.2px;width:226.4px;height:54.8px;"></div><div class="gy" style="left:603.2px;top:1.2px;width:288.4px;height:54.8px;"></div><div class="gy" style="left:1906.4px;top:1.2px;width:230.8px;height:54.8px;"></div><div class="t u" style="left:84.8px;top:27.3px;font-size:24px;transform:translateX(-50%);">pg-affiliate-tt</div><div class="t u" style="left:272px;top:27.3px;font-size:24px;transform:translateX(-50%);">pg-affiliate-tt-5</div><div class="t u" style="left:488px;top:27.3px;font-size:24px;transform:translateX(-50%);">10.189.64.15</div><div class="t u" style="left:612px;top:27.3px;font-size:24px;letter-spacing:-.028em">5.pg.affiliate.tt.bjs.p1sta…</div><div class="t d" style="left:945.2px;top:27.3px;font-size:24px;transform:translateX(-50%);">4</div><div class="r56" style="left:1000px;top:0.8px;width:79.6px;height:55.2px;"></div><div class="t w" style="left:1039.6px;top:27.3px;font-size:24px;transform:translateX(-50%);">56</div><div style="left:1090.4px;top:12px;width:87.2px;height:33.2px;background:#efeff0;border-radius:.5px"></div><div style="left:1090.4px;top:12px;width:3.6px;height:33.2px;background:#6d94dd;border-radius:.4px"></div><div class="t h" style="left:1248.8px;top:27.3px;font-size:24px;transform:translateX(-100%);color:#3d71d9;letter-spacing:-.05em">1.3%</div><div class="rm" style="left:1276.4px;top:0.8px;width:110.4px;height:55.2px;"></div><div class="t w" style="left:1331.2px;top:27.3px;font-size:24px;transform:translateX(-50%);letter-spacing:-.06em">405 GB</div><div style="left:1397.2px;top:12px;width:88px;height:33.2px;background:#efeff0;border-radius:.5px"></div><div style="left:1397.2px;top:12px;width:3.8px;height:33.2px;background:#6d94dd;border-radius:.4px"></div><div class="t h" style="left:1554.4px;top:27.3px;font-size:24px;transform:translateX(-100%);color:#3d71d9;letter-spacing:-.05em">4.3%</div><div class="r48" style="left:1584.4px;top:0.8px;width:127.2px;height:55.2px;"></div><div class="t w" style="left:1647.6px;top:27.3px;font-size:24px;transform:translateX(-50%);letter-spacing:-.05em">7.0 TB</div><div style="left:1723.2px;top:12px;width:73.6px;height:33.2px;background:#efeff0;border-radius:.5px"></div><div style="left:1723.2px;top:12px;width:37.9px;height:33.2px;background:linear-gradient(90deg,#3274d9,#56a64b);border-radius:.5px"></div><div class="t h" style="left:1879.2px;top:27.3px;font-size:24px;transform:translateX(-100%);color:#56a64b;letter-spacing:-.05em">51.5%</div><div class="t d" style="left:1917.2px;top:27.3px;font-size:24px;letter-spacing:-.055em">3.10.0-1160.15.2.el7…</div></div><div style="left:0px;top:724.8px;width:2137.6px;height:56.4px;border-bottom:.3px solid rgba(0,0,0,.07)"><div class="gy" style="left:1.2px;top:1.2px;width:168.4px;height:54.8px;"></div><div class="gy" style="left:171.2px;top:1.2px;width:202.4px;height:54.8px;"></div><div class="gy" style="left:375.2px;top:1.2px;width:226.4px;height:54.8px;"></div><div class="gy" style="left:603.2px;top:1.2px;width:288.4px;height:54.8px;"></div><div class="gy" style="left:1906.4px;top:1.2px;width:230.8px;height:54.8px;"></div><div class="t u" style="left:84.8px;top:27.3px;font-size:24px;transform:translateX(-50%);">pg-antispam-tt</div><div class="t u" style="left:272px;top:27.3px;font-size:24px;transform:translateX(-50%);">pg-antispam-tt-1</div><div class="t u" style="left:488px;top:27.3px;font-size:24px;transform:translateX(-50%);">10.189.53.57</div><div class="t u" style="left:612px;top:27.3px;font-size:24px;letter-spacing:-.028em">1.pg.antispam.tt.bjs.p1s…</div><div class="t d" style="left:945.2px;top:27.3px;font-size:24px;transform:translateX(-50%);">4</div><div class="r64" style="left:1000px;top:0.8px;width:79.6px;height:55.2px;"></div><div class="t w" style="left:1039.6px;top:27.3px;font-size:24px;transform:translateX(-50%);">64</div><div style="left:1090.4px;top:12px;width:87.2px;height:33.2px;background:#efeff0;border-radius:.5px"></div><div style="left:1090.4px;top:12px;width:3.6px;height:33.2px;background:#6d94dd;border-radius:.4px"></div><div class="t h" style="left:1248.8px;top:27.3px;font-size:24px;transform:translateX(-100%);color:#3d71d9;letter-spacing:-.05em">0.3%</div><div class="rm" style="left:1276.4px;top:0.8px;width:110.4px;height:55.2px;"></div><div class="t w" style="left:1331.2px;top:27.3px;font-size:24px;transform:translateX(-50%);letter-spacing:-.06em">404 GB</div><div style="left:1397.2px;top:12px;width:88px;height:33.2px;background:#efeff0;border-radius:.5px"></div><div style="left:1397.2px;top:12px;width:7px;height:33.2px;background:#6d94dd;border-radius:.4px"></div><div class="t h" style="left:1554.4px;top:27.3px;font-size:24px;transform:translateX(-100%);color:#3d71d9;letter-spacing:-.05em">8.0%</div><div class="r48" style="left:1584.4px;top:0.8px;width:127.2px;height:55.2px;"></div><div class="t w" style="left:1647.6px;top:27.3px;font-size:24px;transform:translateX(-50%);letter-spacing:-.05em">7.3 TB</div><div style="left:1723.2px;top:12px;width:73.6px;height:33.2px;background:#efeff0;border-radius:.5px"></div><div style="left:1723.2px;top:12px;width:55.1px;height:33.2px;background:linear-gradient(90deg,#3274d9,#56a64b);border-radius:.5px"></div><div class="t h" style="left:1879.2px;top:27.3px;font-size:24px;transform:translateX(-100%);color:#56a64b;letter-spacing:-.05em">74.8%</div><div class="t d" style="left:1917.2px;top:27.3px;font-size:24px;letter-spacing:-.055em">3.10.0-1160.15.2.el7…</div></div><div style="left:0px;top:781.2px;width:2137.6px;height:56.4px;border-bottom:.3px solid rgba(0,0,0,.07)"><div class="gy" style="left:1.2px;top:1.2px;width:168.4px;height:54.8px;"></div><div class="gy" style="left:171.2px;top:1.2px;width:202.4px;height:54.8px;"></div><div class="gy" style="left:375.2px;top:1.2px;width:226.4px;height:54.8px;"></div><div class="gy" style="left:603.2px;top:1.2px;width:288.4px;height:54.8px;"></div><div class="gy" style="left:1906.4px;top:1.2px;width:230.8px;height:54.8px;"></div><div class="t u" style="left:84.8px;top:27.3px;font-size:24px;transform:translateX(-50%);">pg-antispam-tt</div><div class="t u" style="left:272px;top:27.3px;font-size:24px;transform:translateX(-50%);">pg-antispam-tt-2</div><div class="t u" style="left:488px;top:27.3px;font-size:24px;transform:translateX(-50%);">10.189.58.66</div><div class="t u" style="left:612px;top:27.3px;font-size:24px;letter-spacing:-.028em">2.pg.antispam.tt.bjs.p1s…</div><div class="t d" style="left:945.2px;top:27.3px;font-size:24px;transform:translateX(-50%);">4</div><div class="r64" style="left:1000px;top:0.8px;width:79.6px;height:55.2px;"></div><div class="t w" style="left:1039.6px;top:27.3px;font-size:24px;transform:translateX(-50%);">64</div><div style="left:1090.4px;top:12px;width:87.2px;height:33.2px;background:#efeff0;border-radius:.5px"></div><div style="left:1090.4px;top:12px;width:3.6px;height:33.2px;background:#6d94dd;border-radius:.4px"></div><div class="t h" style="left:1248.8px;top:27.3px;font-size:24px;transform:translateX(-100%);color:#3d71d9;letter-spacing:-.05em">2.2%</div><div class="rm" style="left:1276.4px;top:0.8px;width:110.4px;height:55.2px;"></div><div class="t w" style="left:1331.2px;top:27.3px;font-size:24px;transform:translateX(-50%);letter-spacing:-.06em">404 GB</div><div style="left:1397.2px;top:12px;width:88px;height:33.2px;background:#efeff0;border-radius:.5px"></div><div style="left:1397.2px;top:12px;width:4px;height:33.2px;background:#6d94dd;border-radius:.4px"></div><div class="t h" style="left:1554.4px;top:27.3px;font-size:24px;transform:translateX(-100%);color:#3d71d9;letter-spacing:-.05em">4.5%</div><div class="r48" style="left:1584.4px;top:0.8px;width:127.2px;height:55.2px;"></div><div class="t w" style="left:1647.6px;top:27.3px;font-size:24px;transform:translateX(-50%);letter-spacing:-.05em">7.3 TB</div><div style="left:1723.2px;top:12px;width:73.6px;height:33.2px;background:#efeff0;border-radius:.5px"></div><div style="left:1723.2px;top:12px;width:51.5px;height:33.2px;background:linear-gradient(90deg,#3274d9,#56a64b);border-radius:.5px"></div><div class="t h" style="left:1879.2px;top:27.3px;font-size:24px;transform:translateX(-100%);color:#56a64b;letter-spacing:-.05em">70.0%</div><div class="t d" style="left:1917.2px;top:27.3px;font-size:24px;letter-spacing:-.055em">3.10.0-1160.15.2.el7…</div></div><div style="left:0px;top:837.6px;width:2137.6px;height:56.4px;border-bottom:.3px solid rgba(0,0,0,.07)"><div class="gy" style="left:1.2px;top:1.2px;width:168.4px;height:54.8px;"></div><div class="gy" style="left:171.2px;top:1.2px;width:202.4px;height:54.8px;"></div><div class="gy" style="left:375.2px;top:1.2px;width:226.4px;height:54.8px;"></div><div class="gy" style="left:603.2px;top:1.2px;width:288.4px;height:54.8px;"></div><div class="gy" style="left:1906.4px;top:1.2px;width:230.8px;height:54.8px;"></div><div class="t u" style="left:84.8px;top:27.3px;font-size:24px;transform:translateX(-50%);">pg-chat-tt</div><div class="t u" style="left:272px;top:27.3px;font-size:24px;transform:translateX(-50%);">pg-chat-tt-1</div><div class="t u" style="left:488px;top:27.3px;font-size:24px;transform:translateX(-50%);">10.189.63.50</div><div class="t u" style="left:612px;top:27.3px;font-size:24px;letter-spacing:-.028em">1.pg.chat.tt.bjs.p1staff.c…</div><div class="t d" style="left:945.2px;top:27.3px;font-size:24px;transform:translateX(-50%);">4</div><div class="r48" style="left:1000px;top:0.8px;width:79.6px;height:55.2px;"></div><div class="t w" style="left:1039.6px;top:27.3px;font-size:24px;transform:translateX(-50%);">48</div><div style="left:1090.4px;top:12px;width:87.2px;height:33.2px;background:#efeff0;border-radius:.5px"></div><div style="left:1090.4px;top:12px;width:3.6px;height:33.2px;background:#6d94dd;border-radius:.4px"></div><div class="t h" style="left:1248.8px;top:27.3px;font-size:24px;transform:translateX(-100%);color:#3d71d9;letter-spacing:-.05em">0.9%</div><div class="rm" style="left:1276.4px;top:0.8px;width:110.4px;height:55.2px;"></div><div class="t w" style="left:1331.2px;top:27.3px;font-size:24px;transform:translateX(-50%);letter-spacing:-.06em">405 GB</div><div style="left:1397.2px;top:12px;width:88px;height:33.2px;background:#efeff0;border-radius:.5px"></div><div style="left:1397.2px;top:12px;width:3.8px;height:33.2px;background:#6d94dd;border-radius:.4px"></div><div class="t h" style="left:1554.4px;top:27.3px;font-size:24px;transform:translateX(-100%);color:#3d71d9;letter-spacing:-.05em">4.3%</div><div class="r48" style="left:1584.4px;top:0.8px;width:127.2px;height:55.2px;"></div><div class="t w" style="left:1647.6px;top:27.3px;font-size:24px;transform:translateX(-50%);letter-spacing:-.05em">7.0 TB</div><div style="left:1723.2px;top:12px;width:73.6px;height:33.2px;background:#efeff0;border-radius:.5px"></div><div style="left:1723.2px;top:12px;width:26.3px;height:33.2px;background:linear-gradient(90deg,#3274d9,#56a64b);border-radius:.5px"></div><div class="t h" style="left:1879.2px;top:27.3px;font-size:24px;transform:translateX(-100%);color:#56a64b;letter-spacing:-.05em">35.8%</div><div class="t d" style="left:1917.2px;top:27.3px;font-size:24px;letter-spacing:-.055em">3.10.0-1160.15.2.el7…</div></div><div style="left:0px;top:894px;width:2137.6px;height:56.4px;border-bottom:.3px solid rgba(0,0,0,.07)"><div class="gy" style="left:1.2px;top:1.2px;width:168.4px;height:54.8px;"></div><div class="gy" style="left:171.2px;top:1.2px;width:202.4px;height:54.8px;"></div><div class="gy" style="left:375.2px;top:1.2px;width:226.4px;height:54.8px;"></div><div class="gy" style="left:603.2px;top:1.2px;width:288.4px;height:54.8px;"></div><div class="gy" style="left:1906.4px;top:1.2px;width:230.8px;height:54.8px;"></div><div class="t u" style="left:84.8px;top:27.3px;font-size:24px;transform:translateX(-50%);">pg-chat-tt</div><div class="t u" style="left:272px;top:27.3px;font-size:24px;transform:translateX(-50%);">pg-chat-tt-2</div><div class="t u" style="left:488px;top:27.3px;font-size:24px;transform:translateX(-50%);">10.189.57.55</div><div class="t u" style="left:612px;top:27.3px;font-size:24px;letter-spacing:-.028em">2.pg.chat.tt.bjs.p1staff.c…</div><div class="t d" style="left:945.2px;top:27.3px;font-size:24px;transform:translateX(-50%);">4</div><div class="r48" style="left:1000px;top:0.8px;width:79.6px;height:55.2px;"></div><div class="t w" style="left:1039.6px;top:27.3px;font-size:24px;transform:translateX(-50%);">48</div><div style="left:1090.4px;top:12px;width:87.2px;height:33.2px;background:#efeff0;border-radius:.5px"></div><div style="left:1090.4px;top:12px;width:3.6px;height:33.2px;background:#6d94dd;border-radius:.4px"></div><div class="t h" style="left:1248.8px;top:27.3px;font-size:24px;transform:translateX(-100%);color:#3d71d9;letter-spacing:-.05em">3.1%</div><div class="rm" style="left:1276.4px;top:0.8px;width:110.4px;height:55.2px;"></div><div class="t w" style="left:1331.2px;top:27.3px;font-size:24px;transform:translateX(-50%);letter-spacing:-.06em">405 GB</div><div style="left:1397.2px;top:12px;width:88px;height:33.2px;background:#efeff0;border-radius:.5px"></div><div style="left:1397.2px;top:12px;width:3.8px;height:33.2px;background:#6d94dd;border-radius:.4px"></div><div class="t h" style="left:1554.4px;top:27.3px;font-size:24px;transform:translateX(-100%);color:#3d71d9;letter-spacing:-.05em">4.3%</div><div class="r48" style="left:1584.4px;top:0.8px;width:127.2px;height:55.2px;"></div><div class="t w" style="left:1647.6px;top:27.3px;font-size:24px;transform:translateX(-50%);letter-spacing:-.05em">7.0 TB</div><div style="left:1723.2px;top:12px;width:73.6px;height:33.2px;background:#efeff0;border-radius:.5px"></div><div style="left:1723.2px;top:12px;width:26.3px;height:33.2px;background:linear-gradient(90deg,#3274d9,#56a64b);border-radius:.5px"></div><div class="t h" style="left:1879.2px;top:27.3px;font-size:24px;transform:translateX(-100%);color:#56a64b;letter-spacing:-.05em">35.8%</div><div class="t d" style="left:1917.2px;top:27.3px;font-size:24px;letter-spacing:-.055em">3.10.0-1160.15.2.el7…</div></div><div style="left:0px;top:950.4px;width:2137.6px;height:56.4px;border-bottom:.3px solid rgba(0,0,0,.07)"><div class="gy" style="left:1.2px;top:1.2px;width:168.4px;height:54.8px;"></div><div class="gy" style="left:171.2px;top:1.2px;width:202.4px;height:54.8px;"></div><div class="gy" style="left:375.2px;top:1.2px;width:226.4px;height:54.8px;"></div><div class="gy" style="left:603.2px;top:1.2px;width:288.4px;height:54.8px;"></div><div class="gy" style="left:1906.4px;top:1.2px;width:230.8px;height:54.8px;"></div><div class="t u" style="left:84.8px;top:27.3px;font-size:24px;transform:translateX(-50%);">pg-chat-tt</div><div class="t u" style="left:272px;top:27.3px;font-size:24px;transform:translateX(-50%);">pg-chat-tt-3</div><div class="t u" style="left:488px;top:27.3px;font-size:24px;transform:translateX(-50%);">10.189.64.14</div><div class="t u" style="left:612px;top:27.3px;font-size:24px;letter-spacing:-.028em">3.pg.chat.tt.bjs.p1staff.c…</div><div class="t d" style="left:945.2px;top:27.3px;font-size:24px;transform:translateX(-50%);">4</div><div class="r56" style="left:1000px;top:0.8px;width:79.6px;height:55.2px;"></div><div class="t w" style="left:1039.6px;top:27.3px;font-size:24px;transform:translateX(-50%);">56</div><div style="left:1090.4px;top:12px;width:87.2px;height:33.2px;background:#efeff0;border-radius:.5px"></div><div style="left:1090.4px;top:12px;width:3.6px;height:33.2px;background:#6d94dd;border-radius:.4px"></div><div class="t h" style="left:1248.8px;top:27.3px;font-size:24px;transform:translateX(-100%);color:#3d71d9;letter-spacing:-.05em">2.2%</div><div class="rm" style="left:1276.4px;top:0.8px;width:110.4px;height:55.2px;"></div><div class="t w" style="left:1331.2px;top:27.3px;font-size:24px;transform:translateX(-50%);letter-spacing:-.06em">405 GB</div><div style="left:1397.2px;top:12px;width:88px;height:33.2px;background:#efeff0;border-radius:.5px"></div><div style="left:1397.2px;top:12px;width:3.8px;height:33.2px;background:#6d94dd;border-radius:.4px"></div><div class="t h" style="left:1554.4px;top:27.3px;font-size:24px;transform:translateX(-100%);color:#3d71d9;letter-spacing:-.05em">4.3%</div><div class="r48" style="left:1584.4px;top:0.8px;width:127.2px;height:55.2px;"></div><div class="t w" style="left:1647.6px;top:27.3px;font-size:24px;transform:translateX(-50%);letter-spacing:-.05em">7.0 TB</div><div style="left:1723.2px;top:12px;width:73.6px;height:33.2px;background:#efeff0;border-radius:.5px"></div><div style="left:1723.2px;top:12px;width:26.3px;height:33.2px;background:linear-gradient(90deg,#3274d9,#56a64b);border-radius:.5px"></div><div class="t h" style="left:1879.2px;top:27.3px;font-size:24px;transform:translateX(-100%);color:#56a64b;letter-spacing:-.05em">35.8%</div><div class="t d" style="left:1917.2px;top:27.3px;font-size:24px;letter-spacing:-.055em">3.10.0-1160.15.2.el7…</div></div><div style="left:0px;top:1006.8px;width:2137.6px;height:56.4px;border-bottom:.3px solid rgba(0,0,0,.07)"><div class="gy" style="left:1.2px;top:1.2px;width:168.4px;height:54.8px;"></div><div class="gy" style="left:171.2px;top:1.2px;width:202.4px;height:54.8px;"></div><div class="gy" style="left:375.2px;top:1.2px;width:226.4px;height:54.8px;"></div><div class="gy" style="left:603.2px;top:1.2px;width:288.4px;height:54.8px;"></div><div class="gy" style="left:1906.4px;top:1.2px;width:230.8px;height:54.8px;"></div><div class="r56" style="left:1000px;top:0.8px;width:79.6px;height:55.2px;"></div><div style="left:1090.4px;top:12px;width:87.2px;height:33.2px;background:#efeff0;border-radius:.5px"></div><div style="left:1090.4px;top:12px;width:3.6px;height:33.2px;background:#6d94dd;border-radius:.4px"></div><div class="rm" style="left:1276.4px;top:0.8px;width:110.4px;height:55.2px;"></div><div style="left:1397.2px;top:12px;width:88px;height:33.2px;background:#efeff0;border-radius:.5px"></div><div style="left:1397.2px;top:12px;width:3.8px;height:33.2px;background:#6d94dd;border-radius:.4px"></div><div class="r48" style="left:1584.4px;top:0.8px;width:127.2px;height:55.2px;"></div><div style="left:1723.2px;top:12px;width:73.6px;height:33.2px;background:#efeff0;border-radius:.5px"></div><div style="left:1723.2px;top:12px;width:26.3px;height:33.2px;background:linear-gradient(90deg,#3274d9,#56a64b);border-radius:.5px"></div></div><div style="left:512px;top:120px;width:23.2px;height:871.2px;background:#fff"></div></div>
<div style="left:1128px;top:1442px;width:2138px;height:352.4px;background:#fff;overflow:hidden;border-radius:1px"><div class="t" style="left:1068.8px;top:24.8px;font-size:22px;transform:translateX(-50%);color:#24292e;font-weight:bold;letter-spacing:-.02em">Firing Alerts</div><div style="left:91.4px;top:66px;width:1.2px;height:236px;background:rgba(0,0,0,.07)"></div><div class="t" style="left:92px;top:328.4px;font-size:19.6px;transform:translateX(-50%);color:#52565c">00:00</div><div style="left:206.5px;top:66px;width:1.2px;height:236px;background:rgba(0,0,0,.07)"></div><div class="t" style="left:207.1px;top:328.4px;font-size:19.6px;transform:translateX(-50%);color:#52565c">02:00</div><div style="left:321.6px;top:66px;width:1.2px;height:236px;background:rgba(0,0,0,.07)"></div><div class="t" style="left:322.2px;top:328.4px;font-size:19.6px;transform:translateX(-50%);color:#52565c">04:00</div><div style="left:436.8px;top:66px;width:1.2px;height:236px;background:rgba(0,0,0,.07)"></div><div class="t" style="left:437.4px;top:328.4px;font-size:19.6px;transform:translateX(-50%);color:#52565c">06:00</div><div style="left:551.9px;top:66px;width:1.2px;height:236px;background:rgba(0,0,0,.07)"></div><div class="t" style="left:552.5px;top:328.4px;font-size:19.6px;transform:translateX(-50%);color:#52565c">08:00</div><div style="left:667px;top:66px;width:1.2px;height:236px;background:rgba(0,0,0,.07)"></div><div class="t" style="left:667.6px;top:328.4px;font-size:19.6px;transform:translateX(-50%);color:#52565c">10:00</div><div style="left:782.1px;top:66px;width:1.2px;height:236px;background:rgba(0,0,0,.07)"></div><div class="t" style="left:782.7px;top:328.4px;font-size:19.6px;transform:translateX(-50%);color:#52565c">12:00</div><div style="left:897.2px;top:66px;width:1.2px;height:236px;background:rgba(0,0,0,.07)"></div><div class="t" style="left:897.8px;top:328.4px;font-size:19.6px;transform:translateX(-50%);color:#52565c">14:00</div><div style="left:1012.4px;top:66px;width:1.2px;height:236px;background:rgba(0,0,0,.07)"></div><div class="t" style="left:1013px;top:328.4px;font-size:19.6px;transform:translateX(-50%);color:#52565c">16:00</div><div style="left:1127.5px;top:66px;width:1.2px;height:236px;background:rgba(0,0,0,.07)"></div><div class="t" style="left:1128.1px;top:328.4px;font-size:19.6px;transform:translateX(-50%);color:#52565c">18:00</div><div style="left:1242.6px;top:66px;width:1.2px;height:236px;background:rgba(0,0,0,.07)"></div><div class="t" style="left:1243.2px;top:328.4px;font-size:19.6px;transform:translateX(-50%);color:#52565c">20:00</div><div style="left:1357.7px;top:66px;width:1.2px;height:236px;background:rgba(0,0,0,.07)"></div><div class="t" style="left:1358.3px;top:328.4px;font-size:19.6px;transform:translateX(-50%);color:#52565c">22:00</div><svg style="left:0;top:0" width="2138" height="352.4" viewBox="0 0 534.50 88.10"><polygon points="55.5,75.2 55.9,75.0 56.2,75.0 56.6,75.1 56.9,75.2 57.2,75.2 57.6,75.2 57.9,75.1 58.3,75.1 58.6,75.1 59.0,75.1 59.4,75.1 59.7,75.1 60.1,75.1 60.4,75.0 60.8,75.0 61.1,75.0 61.4,75.0 61.8,75.0 62.1,75.1 62.5,75.0 62.9,75.0 63.2,74.9 63.6,74.9 63.9,74.9 64.2,74.9 64.6,75.0 64.9,75.0 65.3,74.9 65.6,74.9 66.0,74.9 66.4,74.8 66.7,74.8 67.1,74.8 67.4,74.8 67.8,74.8 68.1,74.9 68.4,74.8 68.8,74.8 69.1,74.8 69.5,74.8 69.9,74.7 70.2,74.6 70.6,74.6 70.9,74.5 71.2,74.4 71.6,74.4 71.9,74.4 72.3,74.3 72.6,74.3 73.0,74.3 73.4,74.3 73.7,74.2 74.1,74.2 74.4,74.2 74.8,74.1 75.1,74.0 75.4,74.0 75.8,74.0 76.1,73.9 76.5,73.9 76.9,74.0 77.2,74.0 77.6,73.8 77.9,73.8 78.2,73.9 78.6,73.9 78.9,73.9 79.3,73.9 79.6,73.9 80.0,73.8 80.4,73.5 80.7,73.3 81.1,73.2 81.4,73.4 81.8,73.2 82.1,73.1 82.4,73.1 82.8,73.0 83.1,72.8 83.5,72.9 83.9,72.9 84.2,72.9 84.6,73.0 84.9,72.8 85.2,72.9 85.6,73.0 85.9,73.0 86.3,73.0 86.6,73.0 87.0,73.0 87.4,73.0 87.7,72.9 88.1,73.0 88.4,72.9 88.8,72.8 89.1,72.9 89.4,72.9 89.8,72.7 90.1,72.8 90.5,72.7 90.9,72.8 91.2,72.6 91.6,72.7 91.9,72.8 92.2,73.0 92.6,72.8 92.9,72.7 93.3,72.7 93.6,72.8 94.0,72.6 94.4,72.5 94.7,72.7 95.1,72.8 95.4,72.8 95.8,72.7 96.1,72.6 96.4,72.8 96.8,73.1 97.1,73.2 97.5,73.0 97.9,73.0 98.2,72.9 98.6,72.6 98.9,72.5 99.2,72.6 99.6,72.8 99.9,73.0 100.3,73.0 100.6,72.7 101.0,72.6 101.4,72.7 101.7,72.5 102.1,72.5 102.4,72.7 102.8,73.0 103.1,72.9 103.4,73.1 103.8,73.2 104.1,73.1 104.5,73.1 104.9,73.0 105.2,73.0 105.6,73.0 105.9,73.0 106.2,73.1 106.6,73.1 106.9,73.1 107.3,73.1 107.6,73.2 108.0,73.2 108.4,73.1 108.7,73.0 109.1,73.1 109.4,73.3 109.8,73.1 110.1,72.9 110.4,73.0 110.8,73.0 111.1,73.1 111.5,73.1 111.9,73.0 112.2,73.1 112.6,73.1 112.9,73.0 113.2,73.0 113.6,72.9 113.9,72.9 114.3,73.0 114.6,73.1 115.0,73.3 115.4,73.3 115.7,73.2 116.1,73.2 116.4,73.2 116.8,73.2 117.1,73.3 117.4,73.4 117.8,73.2 118.1,73.0 118.5,72.9 118.9,73.0 119.2,73.2 119.6,73.2 119.9,73.2 120.2,73.2 120.6,73.2 120.9,73.2 121.3,73.1 121.6,72.9 122.0,72.9 122.4,73.0 122.7,73.1 123.1,73.2 123.4,73.3 123.8,73.5 124.1,73.6 124.4,73.5 124.8,73.4 125.1,73.3 125.5,73.3 125.9,73.4 126.2,73.5 126.6,73.6 126.9,73.5 127.2,73.5 127.6,73.5 127.9,73.6 128.3,73.5 128.6,73.4 129.0,73.4 129.4,73.3 129.7,73.2 130.1,73.3 130.4,73.2 130.8,73.2 131.1,73.3 131.4,73.3 131.8,73.3 132.1,73.4 132.5,73.3 132.9,73.5 133.2,73.5 133.6,73.3 133.9,73.2 134.2,73.2 134.6,73.2 134.9,73.3 135.3,73.5 135.6,73.5 136.0,73.5 136.4,73.3 136.7,73.9 137.1,74.2 137.4,74.2 137.8,74.1 138.1,74.2 138.4,74.3 138.8,74.6 139.1,75.2 139.5,75.2 139.5,75.2 139.1,75.2 138.8,75.2 138.4,75.2 138.1,75.2 137.8,75.2 137.4,75.2 137.1,75.2 136.7,75.2 136.4,75.2 136.0,75.2 135.6,75.2 135.3,75.2 134.9,75.2 134.6,75.2 134.2,75.2 133.9,75.2 133.6,75.2 133.2,75.2 132.9,75.2 132.5,75.2 132.1,75.2 131.8,75.2 131.4,75.2 131.1,75.2 130.8,75.2 130.4,75.2 130.1,75.2 129.7,75.2 129.4,75.2 129.0,75.2 128.6,75.2 128.3,75.2 127.9,75.2 127.6,75.2 127.2,75.2 126.9,75.2 126.6,75.2 126.2,75.2 125.9,75.2 125.5,75.2 125.1,75.2 124.8,75.2 124.4,75.2 124.1,75.2 123.8,75.2 123.4,75.2 123.1,75.2 122.7,75.2 122.4,75.2 122.0,75.2 121.6,75.2 121.3,75.2 120.9,75.2 120.6,75.2 120.2,75.2 119.9,75.2 119.6,75.2 119.2,75.2 118.9,75.2 118.5,75.2 118.1,75.2 117.8,75.2 117.4,75.2 117.1,75.2 116.8,75.2 116.4,75.2 116.1,75.2 115.7,75.2 115.4,75.2 115.0,75.2 114.6,75.2 114.3,75.2 113.9,75.2 113.6,75.2 113.2,75.2 112.9,75.2 112.6,75.2 112.2,75.2 111.9,75.2 111.5,75.2 111.1,75.2 110.8,75.2 110.4,75.2 110.1,75.2 109.8,75.2 109.4,75.2 109.1,75.2 108.7,75.2 108.4,75.2 108.0,75.2 107.6,75.2 107.3,75.2 106.9,75.2 106.6,75.2 106.2,75.2 105.9,75.2 105.6,75.2 105.2,75.2 104.9,75.2 104.5,75.2 104.1,75.2 103.8,75.2 103.4,75.2 103.1,75.2 102.8,75.2 102.4,75.2 102.1,75.2 101.7,75.2 101.4,75.2 101.0,75.2 100.6,75.2 100.3,75.2 99.9,75.2 99.6,75.2 99.2,75.2 98.9,75.2 98.6,75.2 98.2,75.2 97.9,75.2 97.5,75.2 97.1,75.2 96.8,75.2 96.4,75.2 96.1,75.2 95.8,75.2 95.4,75.2 95.1,75.2 94.7,75.2 94.4,75.2 94.0,75.2 93.6,75.2 93.3,75.2 92.9,75.2 92.6,75.2 92.2,75.2 91.9,75.2 91.6,75.2 91.2,75.2 90.9,75.2 90.5,75.2 90.1,75.2 89.8,75.2 89.4,75.2 89.1,75.2 88.8,75.2 88.4,75.2 88.1,75.2 87.7,75.2 87.4,75.2 87.0,75.2 86.6,75.2 86.3,75.2 85.9,75.2 85.6,75.2 85.2,75.2 84.9,75.2 84.6,75.2 84.2,75.2 83.9,75.2 83.5,75.2 83.1,75.2 82.8,75.2 82.4,75.2 82.1,75.2 81.8,75.2 81.4,75.2 81.1,75.2 80.7,75.2 80.4,75.2 80.0,75.2 79.6,75.2 79.3,75.2 78.9,75.2 78.6,75.2 78.2,75.2 77.9,75.2 77.6,75.2 77.2,75.2 76.9,75.2 76.5,75.2 76.1,75.2 75.8,75.2 75.4,75.2 75.1,75.2 74.8,75.2 74.4,75.2 74.1,75.2 73.7,75.2 73.4,75.2 73.0,75.2 72.6,75.2 72.3,75.2 71.9,75.2 71.6,75.2 71.2,75.2 70.9,75.2 70.6,75.2 70.2,75.2 69.9,75.2 69.5,75.2 69.1,75.2 68.8,75.2 68.4,75.2 68.1,75.2 67.8,75.2 67.4,75.2 67.1,75.2 66.7,75.2 66.4,75.2 66.0,75.2 65.6,75.2 65.3,75.2 64.9,75.2 64.6,75.2 64.2,75.2 63.9,75.2 63.6,75.2 63.2,75.2 62.9,75.2 62.5,75.2 62.1,75.2 61.8,75.2 61.4,75.2 61.1,75.2 60.8,75.2 60.4,75.2 60.1,75.2 59.7,75.2 59.4,75.2 59.0,75.2 58.6,75.2 58.3,75.2 57.9,75.2 57.6,75.2 57.2,75.2 56.9,75.2 56.6,75.2 56.2,75.2 55.9,75.2 55.5,75.2" fill="#929f68"/><polygon points="55.5,75.2 55.9,74.8 56.2,74.7 56.6,75.0 56.9,75.1 57.2,75.1 57.6,75.1 57.9,75.1 58.3,75.1 58.6,75.0 59.0,75.0 59.4,75.0 59.7,74.9 60.1,74.8 60.4,74.7 60.8,74.7 61.1,74.7 61.4,74.7 61.8,74.8 62.1,74.8 62.5,74.7 62.9,74.5 63.2,74.3 63.6,74.3 63.9,74.4 64.2,74.5 64.6,74.5 64.9,74.6 65.3,74.4 65.6,74.3 66.0,74.2 66.4,74.2 66.7,74.0 67.1,74.1 67.4,74.2 67.8,74.2 68.1,74.3 68.4,74.3 68.8,74.2 69.1,74.0 69.5,73.9 69.9,73.8 70.2,73.6 70.6,73.4 70.9,73.3 71.2,73.2 71.6,73.1 71.9,72.9 72.3,72.8 72.6,72.6 73.0,72.6 73.4,72.7 73.7,72.5 74.1,72.2 74.4,72.1 74.8,72.1 75.1,72.2 75.4,72.1 75.8,71.8 76.1,71.8 76.5,71.8 76.9,71.9 77.2,71.8 77.6,71.3 77.9,71.4 78.2,71.3 78.6,71.1 78.9,71.3 79.3,71.2 79.6,71.3 80.0,70.9 80.4,70.6 80.7,70.6 81.1,70.3 81.4,70.2 81.8,69.7 82.1,69.6 82.4,69.7 82.8,69.5 83.1,68.9 83.5,68.8 83.9,68.9 84.2,68.6 84.6,69.0 84.9,68.9 85.2,68.8 85.6,68.5 85.9,68.5 86.3,69.0 86.6,69.0 87.0,68.6 87.4,68.6 87.7,68.5 88.1,68.9 88.4,68.7 88.8,68.7 89.1,68.8 89.4,68.8 89.8,68.3 90.1,68.1 90.5,68.0 90.9,68.7 91.2,68.7 91.6,68.5 91.9,68.6 92.2,68.5 92.6,67.8 92.9,67.7 93.3,67.6 93.6,67.7 94.0,67.4 94.4,67.5 94.7,68.2 95.1,68.4 95.4,68.4 95.8,68.3 96.1,68.1 96.4,68.2 96.8,68.8 97.1,69.4 97.5,69.1 97.9,68.8 98.2,68.8 98.6,68.4 98.9,68.1 99.2,68.2 99.6,68.3 99.9,68.6 100.3,69.0 100.6,68.3 101.0,68.1 101.4,68.1 101.7,68.1 102.1,68.3 102.4,68.6 102.8,68.8 103.1,68.5 103.4,69.0 103.8,69.2 104.1,68.6 104.5,68.4 104.9,68.7 105.2,69.2 105.6,69.4 105.9,69.5 106.2,69.7 106.6,69.6 106.9,69.5 107.3,69.1 107.6,69.0 108.0,68.8 108.4,68.7 108.7,69.1 109.1,69.4 109.4,69.6 109.8,69.4 110.1,69.3 110.4,69.6 110.8,69.3 111.1,69.2 111.5,69.5 111.9,69.4 112.2,69.2 112.6,69.1 112.9,69.5 113.2,69.6 113.6,69.2 113.9,69.1 114.3,69.1 114.6,68.9 115.0,69.4 115.4,69.5 115.7,69.6 116.1,69.5 116.4,69.1 116.8,69.2 117.1,69.5 117.4,69.8 117.8,69.6 118.1,69.2 118.5,68.7 118.9,68.9 119.2,68.9 119.6,68.9 119.9,69.4 120.2,69.8 120.6,69.8 120.9,69.4 121.3,68.9 121.6,68.8 122.0,68.8 122.4,69.0 122.7,69.2 123.1,69.7 123.4,70.1 123.8,70.4 124.1,70.4 124.4,70.2 124.8,70.0 125.1,69.8 125.5,70.0 125.9,70.2 126.2,70.4 126.6,70.2 126.9,70.2 127.2,70.5 127.6,70.5 127.9,70.3 128.3,70.0 128.6,70.1 129.0,70.2 129.4,70.1 129.7,70.1 130.1,70.2 130.4,69.8 130.8,69.5 131.1,69.4 131.4,69.5 131.8,69.9 132.1,70.3 132.5,70.1 132.9,70.3 133.2,70.2 133.6,70.2 133.9,70.3 134.2,70.0 134.6,69.7 134.9,70.0 135.3,70.4 135.6,70.3 136.0,70.3 136.4,70.2 136.7,72.1 137.1,72.7 137.4,72.5 137.8,72.4 138.1,72.5 138.4,72.5 138.8,73.2 139.1,75.2 139.5,75.2 139.5,75.2 139.1,75.2 138.8,74.6 138.4,74.3 138.1,74.2 137.8,74.1 137.4,74.2 137.1,74.2 136.7,73.9 136.4,73.3 136.0,73.5 135.6,73.5 135.3,73.5 134.9,73.3 134.6,73.2 134.2,73.2 133.9,73.2 133.6,73.3 133.2,73.5 132.9,73.5 132.5,73.3 132.1,73.4 131.8,73.3 131.4,73.3 131.1,73.3 130.8,73.2 130.4,73.2 130.1,73.3 129.7,73.2 129.4,73.3 129.0,73.4 128.6,73.4 128.3,73.5 127.9,73.6 127.6,73.5 127.2,73.5 126.9,73.5 126.6,73.6 126.2,73.5 125.9,73.4 125.5,73.3 125.1,73.3 124.8,73.4 124.4,73.5 124.1,73.6 123.8,73.5 123.4,73.3 123.1,73.2 122.7,73.1 122.4,73.0 122.0,72.9 121.6,72.9 121.3,73.1 120.9,73.2 120.6,73.2 120.2,73.2 119.9,73.2 119.6,73.2 119.2,73.2 118.9,73.0 118.5,72.9 118.1,73.0 117.8,73.2 117.4,73.4 117.1,73.3 116.8,73.2 116.4,73.2 116.1,73.2 115.7,73.2 115.4,73.3 115.0,73.3 114.6,73.1 114.3,73.0 113.9,72.9 113.6,72.9 113.2,73.0 112.9,73.0 112.6,73.1 112.2,73.1 111.9,73.0 111.5,73.1 111.1,73.1 110.8,73.0 110.4,73.0 110.1,72.9 109.8,73.1 109.4,73.3 109.1,73.1 108.7,73.0 108.4,73.1 108.0,73.2 107.6,73.2 107.3,73.1 106.9,73.1 106.6,73.1 106.2,73.1 105.9,73.0 105.6,73.0 105.2,73.0 104.9,73.0 104.5,73.1 104.1,73.1 103.8,73.2 103.4,73.1 103.1,72.9 102.8,73.0 102.4,72.7 102.1,72.5 101.7,72.5 101.4,72.7 101.0,72.6 100.6,72.7 100.3,73.0 99.9,73.0 99.6,72.8 99.2,72.6 98.9,72.5 98.6,72.6 98.2,72.9 97.9,73.0 97.5,73.0 97.1,73.2 96.8,73.1 96.4,72.8 96.1,72.6 95.8,72.7 95.4,72.8 95.1,72.8 94.7,72.7 94.4,72.5 94.0,72.6 93.6,72.8 93.3,72.7 92.9,72.7 92.6,72.8 92.2,73.0 91.9,72.8 91.6,72.7 91.2,72.6 90.9,72.8 90.5,72.7 90.1,72.8 89.8,72.7 89.4,72.9 89.1,72.9 88.8,72.8 88.4,72.9 88.1,73.0 87.7,72.9 87.4,73.0 87.0,73.0 86.6,73.0 86.3,73.0 85.9,73.0 85.6,73.0 85.2,72.9 84.9,72.8 84.6,73.0 84.2,72.9 83.9,72.9 83.5,72.9 83.1,72.8 82.8,73.0 82.4,73.1 82.1,73.1 81.8,73.2 81.4,73.4 81.1,73.2 80.7,73.3 80.4,73.5 80.0,73.8 79.6,73.9 79.3,73.9 78.9,73.9 78.6,73.9 78.2,73.9 77.9,73.8 77.6,73.8 77.2,74.0 76.9,74.0 76.5,73.9 76.1,73.9 75.8,74.0 75.4,74.0 75.1,74.0 74.8,74.1 74.4,74.2 74.1,74.2 73.7,74.2 73.4,74.3 73.0,74.3 72.6,74.3 72.3,74.3 71.9,74.4 71.6,74.4 71.2,74.4 70.9,74.5 70.6,74.6 70.2,74.6 69.9,74.7 69.5,74.8 69.1,74.8 68.8,74.8 68.4,74.8 68.1,74.9 67.8,74.8 67.4,74.8 67.1,74.8 66.7,74.8 66.4,74.8 66.0,74.9 65.6,74.9 65.3,74.9 64.9,75.0 64.6,75.0 64.2,74.9 63.9,74.9 63.6,74.9 63.2,74.9 62.9,75.0 62.5,75.0 62.1,75.1 61.8,75.0 61.4,75.0 61.1,75.0 60.8,75.0 60.4,75.0 60.1,75.1 59.7,75.1 59.4,75.1 59.0,75.1 58.6,75.1 58.3,75.1 57.9,75.1 57.6,75.2 57.2,75.2 56.9,75.2 56.6,75.1 56.2,75.0 55.9,75.0 55.5,75.2" fill="#7b6480"/><polygon points="55.5,75.2 55.9,74.6 56.2,74.6 56.6,75.0 56.9,75.1 57.2,75.0 57.6,75.0 57.9,75.0 58.3,75.0 58.6,75.0 59.0,75.0 59.4,74.9 59.7,74.8 60.1,74.7 60.4,74.6 60.8,74.6 61.1,74.5 61.4,74.6 61.8,74.7 62.1,74.7 62.5,74.5 62.9,74.3 63.2,74.1 63.6,74.0 63.9,74.2 64.2,74.2 64.6,74.3 64.9,74.4 65.3,74.2 65.6,74.0 66.0,73.9 66.4,73.9 66.7,73.7 67.1,73.7 67.4,73.9 67.8,73.9 68.1,74.1 68.4,74.0 68.8,73.9 69.1,73.7 69.5,73.6 69.9,73.4 70.2,73.1 70.6,72.9 70.9,72.7 71.2,72.5 71.6,72.5 71.9,72.3 72.3,72.2 72.6,71.9 73.0,71.8 73.4,72.0 73.7,71.8 74.1,71.4 74.4,71.2 74.8,71.2 75.1,71.3 75.4,71.2 75.8,70.9 76.1,71.0 76.5,71.0 76.9,71.0 77.2,70.8 77.6,70.2 77.9,70.3 78.2,70.0 78.6,70.0 78.9,70.2 79.3,70.0 79.6,70.1 80.0,69.6 80.4,69.3 80.7,69.2 81.1,69.0 81.4,68.8 81.8,68.1 82.1,67.7 82.4,67.8 82.8,67.8 83.1,67.3 83.5,67.1 83.9,67.1 84.2,66.6 84.6,67.1 84.9,67.2 85.2,67.2 85.6,66.8 85.9,66.6 86.3,67.1 86.6,67.1 87.0,66.6 87.4,66.6 87.7,66.5 88.1,66.8 88.4,66.7 88.8,66.8 89.1,66.9 89.4,66.9 89.8,66.3 90.1,66.3 90.5,66.1 90.9,66.9 91.2,66.9 91.6,66.9 91.9,66.9 92.2,66.6 92.6,65.8 92.9,65.4 93.3,65.2 93.6,65.4 94.0,65.4 94.4,65.8 94.7,66.6 95.1,66.4 95.4,66.3 95.8,66.4 96.1,66.3 96.4,66.4 96.8,66.9 97.1,67.5 97.5,67.1 97.9,66.8 98.2,66.8 98.6,66.4 98.9,66.1 99.2,66.2 99.6,66.4 99.9,66.8 100.3,67.3 100.6,66.4 101.0,66.3 101.4,66.3 101.7,66.1 102.1,66.2 102.4,66.5 102.8,66.9 103.1,66.6 103.4,67.1 103.8,67.3 104.1,66.8 104.5,66.4 104.9,66.6 105.2,67.2 105.6,67.6 105.9,67.8 106.2,67.9 106.6,67.6 106.9,67.6 107.3,67.3 107.6,67.4 108.0,67.2 108.4,67.0 108.7,67.2 109.1,67.5 109.4,67.9 109.8,67.7 110.1,67.5 110.4,67.8 110.8,67.6 111.1,67.4 111.5,67.7 111.9,67.8 112.2,67.6 112.6,67.4 112.9,68.0 113.2,68.1 113.6,67.6 113.9,67.6 114.3,67.5 114.6,67.3 115.0,67.8 115.4,68.0 115.7,68.1 116.1,67.8 116.4,67.3 116.8,67.6 117.1,68.0 117.4,68.3 117.8,67.8 118.1,67.5 118.5,67.2 118.9,67.4 119.2,67.3 119.6,67.2 119.9,67.7 120.2,68.2 120.6,68.2 120.9,67.8 121.3,67.2 121.6,67.2 122.0,67.2 122.4,67.3 122.7,67.5 123.1,68.2 123.4,68.6 123.8,68.9 124.1,68.8 124.4,68.6 124.8,68.6 125.1,68.3 125.5,68.4 125.9,68.7 126.2,69.0 126.6,68.7 126.9,68.7 127.2,68.9 127.6,69.0 127.9,68.7 128.3,68.5 128.6,68.7 129.0,68.9 129.4,68.7 129.7,68.4 130.1,68.7 130.4,68.4 130.8,68.0 131.1,67.9 131.4,68.1 131.8,68.5 132.1,68.9 132.5,68.6 132.9,68.9 133.2,68.9 133.6,68.7 133.9,68.7 134.2,68.4 134.6,68.2 134.9,68.6 135.3,68.8 135.6,68.7 136.0,68.9 136.4,68.8 136.7,71.1 137.1,71.9 137.4,71.6 137.8,71.5 138.1,71.7 138.4,71.8 138.8,72.7 139.1,75.2 139.5,75.2 139.5,75.2 139.1,75.2 138.8,73.2 138.4,72.5 138.1,72.5 137.8,72.4 137.4,72.5 137.1,72.7 136.7,72.1 136.4,70.2 136.0,70.3 135.6,70.3 135.3,70.4 134.9,70.0 134.6,69.7 134.2,70.0 133.9,70.3 133.6,70.2 133.2,70.2 132.9,70.3 132.5,70.1 132.1,70.3 131.8,69.9 131.4,69.5 131.1,69.4 130.8,69.5 130.4,69.8 130.1,70.2 129.7,70.1 129.4,70.1 129.0,70.2 128.6,70.1 128.3,70.0 127.9,70.3 127.6,70.5 127.2,70.5 126.9,70.2 126.6,70.2 126.2,70.4 125.9,70.2 125.5,70.0 125.1,69.8 124.8,70.0 124.4,70.2 124.1,70.4 123.8,70.4 123.4,70.1 123.1,69.7 122.7,69.2 122.4,69.0 122.0,68.8 121.6,68.8 121.3,68.9 120.9,69.4 120.6,69.8 120.2,69.8 119.9,69.4 119.6,68.9 119.2,68.9 118.9,68.9 118.5,68.7 118.1,69.2 117.8,69.6 117.4,69.8 117.1,69.5 116.8,69.2 116.4,69.1 116.1,69.5 115.7,69.6 115.4,69.5 115.0,69.4 114.6,68.9 114.3,69.1 113.9,69.1 113.6,69.2 113.2,69.6 112.9,69.5 112.6,69.1 112.2,69.2 111.9,69.4 111.5,69.5 111.1,69.2 110.8,69.3 110.4,69.6 110.1,69.3 109.8,69.4 109.4,69.6 109.1,69.4 108.7,69.1 108.4,68.7 108.0,68.8 107.6,69.0 107.3,69.1 106.9,69.5 106.6,69.6 106.2,69.7 105.9,69.5 105.6,69.4 105.2,69.2 104.9,68.7 104.5,68.4 104.1,68.6 103.8,69.2 103.4,69.0 103.1,68.5 102.8,68.8 102.4,68.6 102.1,68.3 101.7,68.1 101.4,68.1 101.0,68.1 100.6,68.3 100.3,69.0 99.9,68.6 99.6,68.3 99.2,68.2 98.9,68.1 98.6,68.4 98.2,68.8 97.9,68.8 97.5,69.1 97.1,69.4 96.8,68.8 96.4,68.2 96.1,68.1 95.8,68.3 95.4,68.4 95.1,68.4 94.7,68.2 94.4,67.5 94.0,67.4 93.6,67.7 93.3,67.6 92.9,67.7 92.6,67.8 92.2,68.5 91.9,68.6 91.6,68.5 91.2,68.7 90.9,68.7 90.5,68.0 90.1,68.1 89.8,68.3 89.4,68.8 89.1,68.8 88.8,68.7 88.4,68.7 88.1,68.9 87.7,68.5 87.4,68.6 87.0,68.6 86.6,69.0 86.3,69.0 85.9,68.5 85.6,68.5 85.2,68.8 84.9,68.9 84.6,69.0 84.2,68.6 83.9,68.9 83.5,68.8 83.1,68.9 82.8,69.5 82.4,69.7 82.1,69.6 81.8,69.7 81.4,70.2 81.1,70.3 80.7,70.6 80.4,70.6 80.0,70.9 79.6,71.3 79.3,71.2 78.9,71.3 78.6,71.1 78.2,71.3 77.9,71.4 77.6,71.3 77.2,71.8 76.9,71.9 76.5,71.8 76.1,71.8 75.8,71.8 75.4,72.1 75.1,72.2 74.8,72.1 74.4,72.1 74.1,72.2 73.7,72.5 73.4,72.7 73.0,72.6 72.6,72.6 72.3,72.8 71.9,72.9 71.6,73.1 71.2,73.2 70.9,73.3 70.6,73.4 70.2,73.6 69.9,73.8 69.5,73.9 69.1,74.0 68.8,74.2 68.4,74.3 68.1,74.3 67.8,74.2 67.4,74.2 67.1,74.1 66.7,74.0 66.4,74.2 66.0,74.2 65.6,74.3 65.3,74.4 64.9,74.6 64.6,74.5 64.2,74.5 63.9,74.4 63.6,74.3 63.2,74.3 62.9,74.5 62.5,74.7 62.1,74.8 61.8,74.8 61.4,74.7 61.1,74.7 60.8,74.7 60.4,74.7 60.1,74.8 59.7,74.9 59.4,75.0 59.0,75.0 58.6,75.0 58.3,75.1 57.9,75.1 57.6,75.1 57.2,75.1 56.9,75.1 56.6,75.0 56.2,74.7 55.9,74.8 55.5,75.2" fill="#c29a80"/><polygon points="55.5,75.2 55.9,74.5 56.2,74.5 56.6,75.0 56.9,75.0 57.2,75.0 57.6,75.0 57.9,75.0 58.3,75.0 58.6,75.0 59.0,74.9 59.4,74.8 59.7,74.7 60.1,74.6 60.4,74.5 60.8,74.4 61.1,74.4 61.4,74.5 61.8,74.6 62.1,74.6 62.5,74.4 62.9,74.2 63.2,73.9 63.6,73.8 63.9,74.0 64.2,74.0 64.6,74.1 64.9,74.2 65.3,74.0 65.6,73.8 66.0,73.7 66.4,73.6 66.7,73.4 67.1,73.4 67.4,73.7 67.8,73.7 68.1,73.9 68.4,73.8 68.8,73.6 69.1,73.4 69.5,73.3 69.9,73.1 70.2,72.8 70.6,72.5 70.9,72.3 71.2,72.0 71.6,71.9 71.9,71.8 72.3,71.7 72.6,71.4 73.0,71.2 73.4,71.3 73.7,71.1 74.1,70.7 74.4,70.4 74.8,70.3 75.1,70.5 75.4,70.4 75.8,70.0 76.1,70.1 76.5,70.1 76.9,70.1 77.2,69.9 77.6,69.3 77.9,69.3 78.2,69.1 78.6,69.0 78.9,69.3 79.3,69.0 79.6,69.1 80.0,68.5 80.4,68.1 80.7,68.0 81.1,67.7 81.4,67.5 81.8,66.7 82.1,66.4 82.4,66.4 82.8,66.4 83.1,66.0 83.5,65.8 83.9,65.6 84.2,64.9 84.6,65.4 84.9,65.6 85.2,65.7 85.6,65.2 85.9,65.1 86.3,65.5 86.6,65.4 87.0,64.9 87.4,64.9 87.7,64.7 88.1,65.1 88.4,64.9 88.8,65.1 89.1,65.0 89.4,65.0 89.8,64.6 90.1,64.5 90.5,64.2 90.9,65.1 91.2,65.2 91.6,65.2 91.9,65.1 92.2,64.9 92.6,64.1 92.9,63.7 93.3,63.4 93.6,63.6 94.0,63.5 94.4,64.0 94.7,64.8 95.1,64.6 95.4,64.5 95.8,64.9 96.1,64.8 96.4,65.0 96.8,65.5 97.1,66.0 97.5,65.5 97.9,65.1 98.2,65.1 98.6,64.8 98.9,64.5 99.2,64.5 99.6,64.9 99.9,65.5 100.3,65.9 100.6,64.9 101.0,64.7 101.4,64.6 101.7,64.3 102.1,64.4 102.4,64.8 102.8,65.2 103.1,65.0 103.4,65.6 103.8,65.7 104.1,65.3 104.5,64.9 104.9,65.1 105.2,65.5 105.6,65.8 105.9,66.1 106.2,66.5 106.6,66.3 106.9,66.2 107.3,65.7 107.6,65.8 108.0,65.7 108.4,65.4 108.7,65.6 109.1,65.9 109.4,66.4 109.8,66.2 110.1,66.0 110.4,66.4 110.8,66.1 111.1,66.0 111.5,66.4 111.9,66.4 112.2,66.2 112.6,66.0 112.9,66.5 113.2,66.6 113.6,66.1 113.9,66.2 114.3,66.0 114.6,65.8 115.0,66.4 115.4,66.5 115.7,66.7 116.1,66.4 116.4,65.9 116.8,66.3 117.1,66.6 117.4,66.7 117.8,66.2 118.1,66.0 118.5,65.6 118.9,65.8 119.2,65.8 119.6,65.6 119.9,66.2 120.2,66.9 120.6,66.9 120.9,66.5 121.3,65.9 121.6,65.9 122.0,65.6 122.4,65.6 122.7,65.9 123.1,66.8 123.4,67.4 123.8,67.6 124.1,67.5 124.4,67.2 124.8,67.3 125.1,67.0 125.5,67.0 125.9,67.2 126.2,67.6 126.6,67.4 126.9,67.5 127.2,67.8 127.6,67.7 127.9,67.3 128.3,67.0 128.6,67.2 129.0,67.6 129.4,67.3 129.7,67.1 130.1,67.4 130.4,67.0 130.8,66.6 131.1,66.4 131.4,66.6 131.8,67.1 132.1,67.5 132.5,67.2 132.9,67.6 133.2,67.5 133.6,67.4 133.9,67.4 134.2,67.1 134.6,67.0 134.9,67.4 135.3,67.6 135.6,67.6 136.0,67.7 136.4,67.7 136.7,70.4 137.1,71.3 137.4,70.9 137.8,70.8 138.1,71.1 138.4,71.3 138.8,72.3 139.1,75.2 139.5,75.2 139.5,75.2 139.1,75.2 138.8,72.7 138.4,71.8 138.1,71.7 137.8,71.5 137.4,71.6 137.1,71.9 136.7,71.1 136.4,68.8 136.0,68.9 135.6,68.7 135.3,68.8 134.9,68.6 134.6,68.2 134.2,68.4 133.9,68.7 133.6,68.7 133.2,68.9 132.9,68.9 132.5,68.6 132.1,68.9 131.8,68.5 131.4,68.1 131.1,67.9 130.8,68.0 130.4,68.4 130.1,68.7 129.7,68.4 129.4,68.7 129.0,68.9 128.6,68.7 128.3,68.5 127.9,68.7 127.6,69.0 127.2,68.9 126.9,68.7 126.6,68.7 126.2,69.0 125.9,68.7 125.5,68.4 125.1,68.3 124.8,68.6 124.4,68.6 124.1,68.8 123.8,68.9 123.4,68.6 123.1,68.2 122.7,67.5 122.4,67.3 122.0,67.2 121.6,67.2 121.3,67.2 120.9,67.8 120.6,68.2 120.2,68.2 119.9,67.7 119.6,67.2 119.2,67.3 118.9,67.4 118.5,67.2 118.1,67.5 117.8,67.8 117.4,68.3 117.1,68.0 116.8,67.6 116.4,67.3 116.1,67.8 115.7,68.1 115.4,68.0 115.0,67.8 114.6,67.3 114.3,67.5 113.9,67.6 113.6,67.6 113.2,68.1 112.9,68.0 112.6,67.4 112.2,67.6 111.9,67.8 111.5,67.7 111.1,67.4 110.8,67.6 110.4,67.8 110.1,67.5 109.8,67.7 109.4,67.9 109.1,67.5 108.7,67.2 108.4,67.0 108.0,67.2 107.6,67.4 107.3,67.3 106.9,67.6 106.6,67.6 106.2,67.9 105.9,67.8 105.6,67.6 105.2,67.2 104.9,66.6 104.5,66.4 104.1,66.8 103.8,67.3 103.4,67.1 103.1,66.6 102.8,66.9 102.4,66.5 102.1,66.2 101.7,66.1 101.4,66.3 101.0,66.3 100.6,66.4 100.3,67.3 99.9,66.8 99.6,66.4 99.2,66.2 98.9,66.1 98.6,66.4 98.2,66.8 97.9,66.8 97.5,67.1 97.1,67.5 96.8,66.9 96.4,66.4 96.1,66.3 95.8,66.4 95.4,66.3 95.1,66.4 94.7,66.6 94.4,65.8 94.0,65.4 93.6,65.4 93.3,65.2 92.9,65.4 92.6,65.8 92.2,66.6 91.9,66.9 91.6,66.9 91.2,66.9 90.9,66.9 90.5,66.1 90.1,66.3 89.8,66.3 89.4,66.9 89.1,66.9 88.8,66.8 88.4,66.7 88.1,66.8 87.7,66.5 87.4,66.6 87.0,66.6 86.6,67.1 86.3,67.1 85.9,66.6 85.6,66.8 85.2,67.2 84.9,67.2 84.6,67.1 84.2,66.6 83.9,67.1 83.5,67.1 83.1,67.3 82.8,67.8 82.4,67.8 82.1,67.7 81.8,68.1 81.4,68.8 81.1,69.0 80.7,69.2 80.4,69.3 80.0,69.6 79.6,70.1 79.3,70.0 78.9,70.2 78.6,70.0 78.2,70.0 77.9,70.3 77.6,70.2 77.2,70.8 76.9,71.0 76.5,71.0 76.1,71.0 75.8,70.9 75.4,71.2 75.1,71.3 74.8,71.2 74.4,71.2 74.1,71.4 73.7,71.8 73.4,72.0 73.0,71.8 72.6,71.9 72.3,72.2 71.9,72.3 71.6,72.5 71.2,72.5 70.9,72.7 70.6,72.9 70.2,73.1 69.9,73.4 69.5,73.6 69.1,73.7 68.8,73.9 68.4,74.0 68.1,74.1 67.8,73.9 67.4,73.9 67.1,73.7 66.7,73.7 66.4,73.9 66.0,73.9 65.6,74.0 65.3,74.2 64.9,74.4 64.6,74.3 64.2,74.2 63.9,74.2 63.6,74.0 63.2,74.1 62.9,74.3 62.5,74.5 62.1,74.7 61.8,74.7 61.4,74.6 61.1,74.5 60.8,74.6 60.4,74.6 60.1,74.7 59.7,74.8 59.4,74.9 59.0,75.0 58.6,75.0 58.3,75.0 57.9,75.0 57.6,75.0 57.2,75.0 56.9,75.1 56.6,75.0 56.2,74.6 55.9,74.6 55.5,75.2" fill="#b4d1cf"/><polygon points="55.5,75.2 55.9,74.3 56.2,74.3 56.6,74.9 56.9,75.0 57.2,75.0 57.6,75.0 57.9,74.9 58.3,74.9 58.6,74.9 59.0,74.9 59.4,74.7 59.7,74.6 60.1,74.5 60.4,74.4 60.8,74.3 61.1,74.2 61.4,74.3 61.8,74.4 62.1,74.4 62.5,74.2 62.9,74.0 63.2,73.7 63.6,73.6 63.9,73.7 64.2,73.8 64.6,73.9 64.9,74.0 65.3,73.8 65.6,73.5 66.0,73.4 66.4,73.2 66.7,73.0 67.1,73.1 67.4,73.3 67.8,73.3 68.1,73.5 68.4,73.5 68.8,73.3 69.1,73.1 69.5,72.9 69.9,72.6 70.2,72.2 70.6,71.8 70.9,71.7 71.2,71.3 71.6,71.2 71.9,71.1 72.3,71.0 72.6,70.7 73.0,70.5 73.4,70.5 73.7,70.2 74.1,69.7 74.4,69.5 74.8,69.4 75.1,69.4 75.4,69.4 75.8,69.1 76.1,69.1 76.5,69.0 76.9,69.0 77.2,68.8 77.6,68.0 77.9,68.2 78.2,67.9 78.6,67.7 78.9,68.1 79.3,67.9 79.6,67.9 80.0,67.2 80.4,66.6 80.7,66.3 81.1,65.8 81.4,65.7 81.8,65.0 82.1,64.6 82.4,64.5 82.8,64.5 83.1,64.0 83.5,63.7 83.9,63.8 84.2,63.1 84.6,63.6 84.9,63.5 85.2,63.7 85.6,63.1 85.9,62.9 86.3,63.5 86.6,63.4 87.0,62.7 87.4,62.7 87.7,62.4 88.1,62.9 88.4,62.8 88.8,63.1 89.1,62.8 89.4,62.7 89.8,62.2 90.1,62.2 90.5,62.1 90.9,63.1 91.2,63.0 91.6,63.0 91.9,63.1 92.2,62.7 92.6,61.7 92.9,61.6 93.3,61.3 93.6,61.4 94.0,61.1 94.4,61.6 94.7,62.8 95.1,62.6 95.4,62.5 95.8,62.8 96.1,62.8 96.4,63.0 96.8,63.6 97.1,64.0 97.5,63.3 97.9,62.9 98.2,63.0 98.6,62.5 98.9,62.3 99.2,62.3 99.6,62.5 99.9,63.2 100.3,63.8 100.6,62.7 101.0,62.5 101.4,62.3 101.7,62.2 102.1,62.4 102.4,62.7 102.8,63.3 103.1,63.0 103.4,63.4 103.8,63.5 104.1,63.1 104.5,62.8 104.9,63.0 105.2,63.6 105.6,63.8 105.9,64.1 106.2,64.4 106.6,64.1 106.9,64.1 107.3,63.5 107.6,63.6 108.0,63.7 108.4,63.4 108.7,63.5 109.1,63.7 109.4,64.3 109.8,64.1 110.1,63.8 110.4,64.3 110.8,64.1 111.1,64.2 111.5,64.6 111.9,64.6 112.2,64.5 112.6,64.2 112.9,64.6 113.2,64.6 113.6,64.1 113.9,64.3 114.3,64.2 114.6,63.9 115.0,64.6 115.4,64.6 115.7,64.5 116.1,64.2 116.4,63.9 116.8,64.4 117.1,64.6 117.4,64.9 117.8,64.2 118.1,64.0 118.5,63.8 118.9,64.1 119.2,63.9 119.6,63.5 119.9,64.1 120.2,65.0 120.6,65.2 120.9,64.6 121.3,63.9 121.6,63.9 122.0,63.7 122.4,63.6 122.7,63.9 123.1,65.0 123.4,65.6 123.8,65.9 124.1,65.9 124.4,65.6 124.8,65.6 125.1,65.3 125.5,65.2 125.9,65.4 126.2,66.0 126.6,66.0 126.9,66.0 127.2,66.3 127.6,66.3 127.9,65.8 128.3,65.3 128.6,65.5 129.0,66.0 129.4,65.8 129.7,65.5 130.1,65.6 130.4,65.1 130.8,64.8 131.1,64.7 131.4,64.8 131.8,65.4 132.1,66.0 132.5,65.7 132.9,66.0 133.2,65.8 133.6,65.6 133.9,65.7 134.2,65.5 134.6,65.3 134.9,65.6 135.3,66.0 135.6,66.0 136.0,66.0 136.4,65.9 136.7,69.4 137.1,70.5 137.4,70.1 137.8,70.0 138.1,70.2 138.4,70.4 138.8,71.6 139.1,75.2 139.5,75.2 139.5,75.2 139.1,75.2 138.8,72.3 138.4,71.3 138.1,71.1 137.8,70.8 137.4,70.9 137.1,71.3 136.7,70.4 136.4,67.7 136.0,67.7 135.6,67.6 135.3,67.6 134.9,67.4 134.6,67.0 134.2,67.1 133.9,67.4 133.6,67.4 133.2,67.5 132.9,67.6 132.5,67.2 132.1,67.5 131.8,67.1 131.4,66.6 131.1,66.4 130.8,66.6 130.4,67.0 130.1,67.4 129.7,67.1 129.4,67.3 129.0,67.6 128.6,67.2 128.3,67.0 127.9,67.3 127.6,67.7 127.2,67.8 126.9,67.5 126.6,67.4 126.2,67.6 125.9,67.2 125.5,67.0 125.1,67.0 124.8,67.3 124.4,67.2 124.1,67.5 123.8,67.6 123.4,67.4 123.1,66.8 122.7,65.9 122.4,65.6 122.0,65.6 121.6,65.9 121.3,65.9 120.9,66.5 120.6,66.9 120.2,66.9 119.9,66.2 119.6,65.6 119.2,65.8 118.9,65.8 118.5,65.6 118.1,66.0 117.8,66.2 117.4,66.7 117.1,66.6 116.8,66.3 116.4,65.9 116.1,66.4 115.7,66.7 115.4,66.5 115.0,66.4 114.6,65.8 114.3,66.0 113.9,66.2 113.6,66.1 113.2,66.6 112.9,66.5 112.6,66.0 112.2,66.2 111.9,66.4 111.5,66.4 111.1,66.0 110.8,66.1 110.4,66.4 110.1,66.0 109.8,66.2 109.4,66.4 109.1,65.9 108.7,65.6 108.4,65.4 108.0,65.7 107.6,65.8 107.3,65.7 106.9,66.2 106.6,66.3 106.2,66.5 105.9,66.1 105.6,65.8 105.2,65.5 104.9,65.1 104.5,64.9 104.1,65.3 103.8,65.7 103.4,65.6 103.1,65.0 102.8,65.2 102.4,64.8 102.1,64.4 101.7,64.3 101.4,64.6 101.0,64.7 100.6,64.9 100.3,65.9 99.9,65.5 99.6,64.9 99.2,64.5 98.9,64.5 98.6,64.8 98.2,65.1 97.9,65.1 97.5,65.5 97.1,66.0 96.8,65.5 96.4,65.0 96.1,64.8 95.8,64.9 95.4,64.5 95.1,64.6 94.7,64.8 94.4,64.0 94.0,63.5 93.6,63.6 93.3,63.4 92.9,63.7 92.6,64.1 92.2,64.9 91.9,65.1 91.6,65.2 91.2,65.2 90.9,65.1 90.5,64.2 90.1,64.5 89.8,64.6 89.4,65.0 89.1,65.0 88.8,65.1 88.4,64.9 88.1,65.1 87.7,64.7 87.4,64.9 87.0,64.9 86.6,65.4 86.3,65.5 85.9,65.1 85.6,65.2 85.2,65.7 84.9,65.6 84.6,65.4 84.2,64.9 83.9,65.6 83.5,65.8 83.1,66.0 82.8,66.4 82.4,66.4 82.1,66.4 81.8,66.7 81.4,67.5 81.1,67.7 80.7,68.0 80.4,68.1 80.0,68.5 79.6,69.1 79.3,69.0 78.9,69.3 78.6,69.0 78.2,69.1 77.9,69.3 77.6,69.3 77.2,69.9 76.9,70.1 76.5,70.1 76.1,70.1 75.8,70.0 75.4,70.4 75.1,70.5 74.8,70.3 74.4,70.4 74.1,70.7 73.7,71.1 73.4,71.3 73.0,71.2 72.6,71.4 72.3,71.7 71.9,71.8 71.6,71.9 71.2,72.0 70.9,72.3 70.6,72.5 70.2,72.8 69.9,73.1 69.5,73.3 69.1,73.4 68.8,73.6 68.4,73.8 68.1,73.9 67.8,73.7 67.4,73.7 67.1,73.4 66.7,73.4 66.4,73.6 66.0,73.7 65.6,73.8 65.3,74.0 64.9,74.2 64.6,74.1 64.2,74.0 63.9,74.0 63.6,73.8 63.2,73.9 62.9,74.2 62.5,74.4 62.1,74.6 61.8,74.6 61.4,74.5 61.1,74.4 60.8,74.4 60.4,74.5 60.1,74.6 59.7,74.7 59.4,74.8 59.0,74.9 58.6,75.0 58.3,75.0 57.9,75.0 57.6,75.0 57.2,75.0 56.9,75.0 56.6,75.0 56.2,74.5 55.9,74.5 55.5,75.2" fill="#d8abaa"/><polygon points="55.5,75.2 55.9,74.2 56.2,74.2 56.6,74.9 56.9,75.0 57.2,75.0 57.6,74.9 57.9,74.9 58.3,74.9 58.6,74.9 59.0,74.8 59.4,74.7 59.7,74.5 60.1,74.4 60.4,74.2 60.8,74.1 61.1,74.0 61.4,74.1 61.8,74.3 62.1,74.3 62.5,74.1 62.9,73.8 63.2,73.5 63.6,73.4 63.9,73.5 64.2,73.6 64.6,73.7 64.9,73.9 65.3,73.6 65.6,73.3 66.0,73.1 66.4,73.0 66.7,72.7 67.1,72.8 67.4,73.1 67.8,73.1 68.1,73.3 68.4,73.2 68.8,73.0 69.1,72.8 69.5,72.5 69.9,72.2 70.2,71.8 70.6,71.4 70.9,71.2 71.2,70.8 71.6,70.7 71.9,70.5 72.3,70.4 72.6,70.0 73.0,70.0 73.4,70.0 73.7,69.6 74.1,69.1 74.4,68.9 74.8,68.7 75.1,68.7 75.4,68.7 75.8,68.2 76.1,68.2 76.5,68.1 76.9,68.1 77.2,68.0 77.6,67.1 77.9,67.2 78.2,66.8 78.6,66.6 78.9,67.1 79.3,66.8 79.6,66.8 80.0,66.1 80.4,65.5 80.7,65.1 81.1,64.6 81.4,64.4 81.8,63.5 82.1,63.0 82.4,62.9 82.8,62.9 83.1,62.4 83.5,62.1 83.9,62.2 84.2,61.5 84.6,62.1 84.9,62.0 85.2,62.1 85.6,61.5 85.9,61.3 86.3,62.0 86.6,61.7 87.0,60.9 87.4,61.2 87.7,60.9 88.1,61.3 88.4,61.1 88.8,61.3 89.1,60.9 89.4,60.9 89.8,60.4 90.1,60.5 90.5,60.4 90.9,61.4 91.2,61.2 91.6,61.1 91.9,61.2 92.2,61.0 92.6,60.1 92.9,59.9 93.3,59.5 93.6,59.4 94.0,59.2 94.4,60.0 94.7,61.1 95.1,60.7 95.4,60.7 95.8,61.3 96.1,61.3 96.4,61.6 96.8,62.1 97.1,62.3 97.5,61.6 97.9,61.2 98.2,61.1 98.6,60.5 98.9,60.4 99.2,60.4 99.6,60.8 99.9,61.6 100.3,62.1 100.6,60.9 101.0,60.8 101.4,60.5 101.7,60.3 102.1,60.6 102.4,61.1 102.8,61.9 103.1,61.5 103.4,61.8 103.8,61.7 104.1,61.4 104.5,61.1 104.9,61.1 105.2,61.8 105.6,62.2 105.9,62.7 106.2,63.1 106.6,62.7 106.9,62.7 107.3,61.9 107.6,61.9 108.0,62.0 108.4,61.9 108.7,62.1 109.1,62.4 109.4,63.1 109.8,62.5 110.1,62.1 110.4,62.6 110.8,62.6 111.1,62.9 111.5,63.3 111.9,63.1 112.2,62.8 112.6,62.5 112.9,63.1 113.2,63.3 113.6,62.6 113.9,62.8 114.3,62.9 114.6,62.7 115.0,63.5 115.4,63.4 115.7,63.1 116.1,62.7 116.4,62.4 116.8,62.9 117.1,63.2 117.4,63.6 117.8,62.9 118.1,62.6 118.5,62.3 118.9,62.6 119.2,62.6 119.6,62.2 119.9,62.5 120.2,63.3 120.6,63.5 120.9,63.1 121.3,62.5 121.6,62.4 122.0,62.1 122.4,62.1 122.7,62.3 123.1,63.6 123.4,64.2 123.8,64.6 124.1,64.8 124.4,64.5 124.8,64.4 125.1,63.9 125.5,63.9 125.9,64.1 126.2,64.7 126.6,64.7 126.9,64.7 127.2,65.0 127.6,65.1 127.9,64.6 128.3,64.0 128.6,64.1 129.0,64.7 129.4,64.6 129.7,64.2 130.1,64.3 130.4,63.8 130.8,63.4 131.1,63.4 131.4,63.4 131.8,64.0 132.1,64.5 132.5,64.2 132.9,64.8 133.2,64.7 133.6,64.4 133.9,64.4 134.2,64.0 134.6,63.8 134.9,64.3 135.3,64.6 135.6,64.6 136.0,64.7 136.4,64.6 136.7,68.6 137.1,69.9 137.4,69.4 137.8,69.3 138.1,69.5 138.4,69.7 138.8,71.1 139.1,75.2 139.5,75.2 139.5,75.2 139.1,75.2 138.8,71.6 138.4,70.4 138.1,70.2 137.8,70.0 137.4,70.1 137.1,70.5 136.7,69.4 136.4,65.9 136.0,66.0 135.6,66.0 135.3,66.0 134.9,65.6 134.6,65.3 134.2,65.5 133.9,65.7 133.6,65.6 133.2,65.8 132.9,66.0 132.5,65.7 132.1,66.0 131.8,65.4 131.4,64.8 131.1,64.7 130.8,64.8 130.4,65.1 130.1,65.6 129.7,65.5 129.4,65.8 129.0,66.0 128.6,65.5 128.3,65.3 127.9,65.8 127.6,66.3 127.2,66.3 126.9,66.0 126.6,66.0 126.2,66.0 125.9,65.4 125.5,65.2 125.1,65.3 124.8,65.6 124.4,65.6 124.1,65.9 123.8,65.9 123.4,65.6 123.1,65.0 122.7,63.9 122.4,63.6 122.0,63.7 121.6,63.9 121.3,63.9 120.9,64.6 120.6,65.2 120.2,65.0 119.9,64.1 119.6,63.5 119.2,63.9 118.9,64.1 118.5,63.8 118.1,64.0 117.8,64.2 117.4,64.9 117.1,64.6 116.8,64.4 116.4,63.9 116.1,64.2 115.7,64.5 115.4,64.6 115.0,64.6 114.6,63.9 114.3,64.2 113.9,64.3 113.6,64.1 113.2,64.6 112.9,64.6 112.6,64.2 112.2,64.5 111.9,64.6 111.5,64.6 111.1,64.2 110.8,64.1 110.4,64.3 110.1,63.8 109.8,64.1 109.4,64.3 109.1,63.7 108.7,63.5 108.4,63.4 108.0,63.7 107.6,63.6 107.3,63.5 106.9,64.1 106.6,64.1 106.2,64.4 105.9,64.1 105.6,63.8 105.2,63.6 104.9,63.0 104.5,62.8 104.1,63.1 103.8,63.5 103.4,63.4 103.1,63.0 102.8,63.3 102.4,62.7 102.1,62.4 101.7,62.2 101.4,62.3 101.0,62.5 100.6,62.7 100.3,63.8 99.9,63.2 99.6,62.5 99.2,62.3 98.9,62.3 98.6,62.5 98.2,63.0 97.9,62.9 97.5,63.3 97.1,64.0 96.8,63.6 96.4,63.0 96.1,62.8 95.8,62.8 95.4,62.5 95.1,62.6 94.7,62.8 94.4,61.6 94.0,61.1 93.6,61.4 93.3,61.3 92.9,61.6 92.6,61.7 92.2,62.7 91.9,63.1 91.6,63.0 91.2,63.0 90.9,63.1 90.5,62.1 90.1,62.2 89.8,62.2 89.4,62.7 89.1,62.8 88.8,63.1 88.4,62.8 88.1,62.9 87.7,62.4 87.4,62.7 87.0,62.7 86.6,63.4 86.3,63.5 85.9,62.9 85.6,63.1 85.2,63.7 84.9,63.5 84.6,63.6 84.2,63.1 83.9,63.8 83.5,63.7 83.1,64.0 82.8,64.5 82.4,64.5 82.1,64.6 81.8,65.0 81.4,65.7 81.1,65.8 80.7,66.3 80.4,66.6 80.0,67.2 79.6,67.9 79.3,67.9 78.9,68.1 78.6,67.7 78.2,67.9 77.9,68.2 77.6,68.0 77.2,68.8 76.9,69.0 76.5,69.0 76.1,69.1 75.8,69.1 75.4,69.4 75.1,69.4 74.8,69.4 74.4,69.5 74.1,69.7 73.7,70.2 73.4,70.5 73.0,70.5 72.6,70.7 72.3,71.0 71.9,71.1 71.6,71.2 71.2,71.3 70.9,71.7 70.6,71.8 70.2,72.2 69.9,72.6 69.5,72.9 69.1,73.1 68.8,73.3 68.4,73.5 68.1,73.5 67.8,73.3 67.4,73.3 67.1,73.1 66.7,73.0 66.4,73.2 66.0,73.4 65.6,73.5 65.3,73.8 64.9,74.0 64.6,73.9 64.2,73.8 63.9,73.7 63.6,73.6 63.2,73.7 62.9,74.0 62.5,74.2 62.1,74.4 61.8,74.4 61.4,74.3 61.1,74.2 60.8,74.3 60.4,74.4 60.1,74.5 59.7,74.6 59.4,74.7 59.0,74.9 58.6,74.9 58.3,74.9 57.9,74.9 57.6,75.0 57.2,75.0 56.9,75.0 56.6,74.9 56.2,74.3 55.9,74.3 55.5,75.2" fill="#d8bc8b"/><polygon points="55.5,75.2 55.9,74.1 56.2,74.1 56.6,74.8 56.9,74.9 57.2,74.9 57.6,74.9 57.9,74.9 58.3,74.8 58.6,74.8 59.0,74.8 59.4,74.6 59.7,74.4 60.1,74.2 60.4,74.0 60.8,73.9 61.1,73.8 61.4,74.0 61.8,74.1 62.1,74.2 62.5,73.9 62.9,73.6 63.2,73.2 63.6,73.1 63.9,73.2 64.2,73.4 64.6,73.5 64.9,73.7 65.3,73.4 65.6,72.9 66.0,72.7 66.4,72.6 66.7,72.3 67.1,72.3 67.4,72.7 67.8,72.7 68.1,72.9 68.4,72.8 68.8,72.6 69.1,72.3 69.5,72.1 69.9,71.7 70.2,71.3 70.6,70.8 70.9,70.6 71.2,70.1 71.6,69.9 71.9,69.8 72.3,69.6 72.6,69.2 73.0,69.2 73.4,69.2 73.7,68.6 74.1,68.1 74.4,67.9 74.8,67.6 75.1,67.6 75.4,67.6 75.8,67.1 76.1,67.1 76.5,67.0 76.9,67.1 77.2,66.9 77.6,65.6 77.9,65.7 78.2,65.3 78.6,65.2 78.9,65.8 79.3,65.4 79.6,65.3 80.0,64.4 80.4,63.6 80.7,63.1 81.1,62.6 81.4,62.7 81.8,61.8 82.1,61.3 82.4,61.1 82.8,61.2 83.1,60.5 83.5,59.8 83.9,59.7 84.2,59.1 84.6,59.6 84.9,59.6 85.2,60.1 85.6,59.3 85.9,59.1 86.3,59.8 86.6,59.3 87.0,58.5 87.4,58.9 87.7,58.3 88.1,58.6 88.4,58.5 88.8,58.8 89.1,58.5 89.4,58.5 89.8,57.7 90.1,57.6 90.5,58.0 90.9,59.5 91.2,59.2 91.6,58.8 91.9,58.4 92.2,58.1 92.6,57.3 92.9,57.5 93.3,56.7 93.6,56.5 94.0,56.3 94.4,57.3 94.7,59.0 95.1,58.5 95.4,58.1 95.8,58.5 96.1,58.7 96.4,59.2 96.8,59.8 97.1,60.1 97.5,59.5 97.9,59.2 98.2,59.0 98.6,58.4 98.9,58.1 99.2,58.2 99.6,58.7 99.9,59.5 100.3,60.1 100.6,58.6 101.0,58.4 101.4,58.2 101.7,58.0 102.1,58.0 102.4,58.5 102.8,59.2 103.1,58.7 103.4,59.3 103.8,59.6 104.1,59.3 104.5,58.8 104.9,58.5 105.2,59.1 105.6,59.8 105.9,60.6 106.2,61.0 106.6,60.4 106.9,60.3 107.3,59.6 107.6,59.9 108.0,60.1 108.4,59.9 108.7,59.9 109.1,60.3 109.4,61.1 109.8,60.4 110.1,60.0 110.4,60.6 110.8,60.7 111.1,61.0 111.5,61.2 111.9,61.1 112.2,61.0 112.6,60.5 112.9,61.1 113.2,61.2 113.6,60.4 113.9,60.6 114.3,60.8 114.6,60.5 115.0,61.5 115.4,61.5 115.7,61.1 116.1,60.6 116.4,60.4 116.8,61.1 117.1,61.2 117.4,61.3 117.8,60.2 118.1,60.2 118.5,60.3 118.9,60.7 119.2,60.4 119.6,60.1 119.9,60.4 120.2,61.1 120.6,61.3 120.9,61.0 121.3,60.4 121.6,60.4 122.0,60.4 122.4,60.2 122.7,60.2 123.1,61.6 123.4,62.5 123.8,62.7 124.1,62.9 124.4,62.7 124.8,62.7 125.1,62.2 125.5,62.1 125.9,62.0 126.2,62.8 126.6,63.1 126.9,63.2 127.2,63.4 127.6,63.3 127.9,62.7 128.3,62.3 128.6,62.4 129.0,62.8 129.4,62.5 129.7,62.1 130.1,62.5 130.4,62.1 130.8,61.7 131.1,61.4 131.4,61.5 131.8,62.1 132.1,62.8 132.5,62.4 132.9,63.0 133.2,62.8 133.6,62.4 133.9,62.6 134.2,62.3 134.6,61.9 134.9,62.3 135.3,62.7 135.6,62.9 136.0,63.1 136.4,62.8 136.7,67.4 137.1,69.1 137.4,68.5 137.8,68.4 138.1,68.7 138.4,68.8 138.8,70.4 139.1,75.2 139.5,75.2 139.5,75.2 139.1,75.2 138.8,71.1 138.4,69.7 138.1,69.5 137.8,69.3 137.4,69.4 137.1,69.9 136.7,68.6 136.4,64.6 136.0,64.7 135.6,64.6 135.3,64.6 134.9,64.3 134.6,63.8 134.2,64.0 133.9,64.4 133.6,64.4 133.2,64.7 132.9,64.8 132.5,64.2 132.1,64.5 131.8,64.0 131.4,63.4 131.1,63.4 130.8,63.4 130.4,63.8 130.1,64.3 129.7,64.2 129.4,64.6 129.0,64.7 128.6,64.1 128.3,64.0 127.9,64.6 127.6,65.1 127.2,65.0 126.9,64.7 126.6,64.7 126.2,64.7 125.9,64.1 125.5,63.9 125.1,63.9 124.8,64.4 124.4,64.5 124.1,64.8 123.8,64.6 123.4,64.2 123.1,63.6 122.7,62.3 122.4,62.1 122.0,62.1 121.6,62.4 121.3,62.5 120.9,63.1 120.6,63.5 120.2,63.3 119.9,62.5 119.6,62.2 119.2,62.6 118.9,62.6 118.5,62.3 118.1,62.6 117.8,62.9 117.4,63.6 117.1,63.2 116.8,62.9 116.4,62.4 116.1,62.7 115.7,63.1 115.4,63.4 115.0,63.5 114.6,62.7 114.3,62.9 113.9,62.8 113.6,62.6 113.2,63.3 112.9,63.1 112.6,62.5 112.2,62.8 111.9,63.1 111.5,63.3 111.1,62.9 110.8,62.6 110.4,62.6 110.1,62.1 109.8,62.5 109.4,63.1 109.1,62.4 108.7,62.1 108.4,61.9 108.0,62.0 107.6,61.9 107.3,61.9 106.9,62.7 106.6,62.7 106.2,63.1 105.9,62.7 105.6,62.2 105.2,61.8 104.9,61.1 104.5,61.1 104.1,61.4 103.8,61.7 103.4,61.8 103.1,61.5 102.8,61.9 102.4,61.1 102.1,60.6 101.7,60.3 101.4,60.5 101.0,60.8 100.6,60.9 100.3,62.1 99.9,61.6 99.6,60.8 99.2,60.4 98.9,60.4 98.6,60.5 98.2,61.1 97.9,61.2 97.5,61.6 97.1,62.3 96.8,62.1 96.4,61.6 96.1,61.3 95.8,61.3 95.4,60.7 95.1,60.7 94.7,61.1 94.4,60.0 94.0,59.2 93.6,59.4 93.3,59.5 92.9,59.9 92.6,60.1 92.2,61.0 91.9,61.2 91.6,61.1 91.2,61.2 90.9,61.4 90.5,60.4 90.1,60.5 89.8,60.4 89.4,60.9 89.1,60.9 88.8,61.3 88.4,61.1 88.1,61.3 87.7,60.9 87.4,61.2 87.0,60.9 86.6,61.7 86.3,62.0 85.9,61.3 85.6,61.5 85.2,62.1 84.9,62.0 84.6,62.1 84.2,61.5 83.9,62.2 83.5,62.1 83.1,62.4 82.8,62.9 82.4,62.9 82.1,63.0 81.8,63.5 81.4,64.4 81.1,64.6 80.7,65.1 80.4,65.5 80.0,66.1 79.6,66.8 79.3,66.8 78.9,67.1 78.6,66.6 78.2,66.8 77.9,67.2 77.6,67.1 77.2,68.0 76.9,68.1 76.5,68.1 76.1,68.2 75.8,68.2 75.4,68.7 75.1,68.7 74.8,68.7 74.4,68.9 74.1,69.1 73.7,69.6 73.4,70.0 73.0,70.0 72.6,70.0 72.3,70.4 71.9,70.5 71.6,70.7 71.2,70.8 70.9,71.2 70.6,71.4 70.2,71.8 69.9,72.2 69.5,72.5 69.1,72.8 68.8,73.0 68.4,73.2 68.1,73.3 67.8,73.1 67.4,73.1 67.1,72.8 66.7,72.7 66.4,73.0 66.0,73.1 65.6,73.3 65.3,73.6 64.9,73.9 64.6,73.7 64.2,73.6 63.9,73.5 63.6,73.4 63.2,73.5 62.9,73.8 62.5,74.1 62.1,74.3 61.8,74.3 61.4,74.1 61.1,74.0 60.8,74.1 60.4,74.2 60.1,74.4 59.7,74.5 59.4,74.7 59.0,74.8 58.6,74.9 58.3,74.9 57.9,74.9 57.6,74.9 57.2,75.0 56.9,75.0 56.6,74.9 56.2,74.2 55.9,74.2 55.5,75.2" fill="#bbb3d2"/><polygon points="55.5,75.2 55.9,73.9 56.2,73.9 56.6,74.8 56.9,74.9 57.2,74.9 57.6,74.8 57.9,74.8 58.3,74.8 58.6,74.7 59.0,74.7 59.4,74.5 59.7,74.3 60.1,74.1 60.4,73.9 60.8,73.7 61.1,73.6 61.4,73.8 61.8,74.0 62.1,74.0 62.5,73.7 62.9,73.4 63.2,72.9 63.6,72.7 63.9,73.0 64.2,73.1 64.6,73.2 64.9,73.4 65.3,73.1 65.6,72.6 66.0,72.3 66.4,72.1 66.7,71.8 67.1,71.9 67.4,72.3 67.8,72.3 68.1,72.5 68.4,72.4 68.8,72.2 69.1,72.0 69.5,71.6 69.9,71.2 70.2,70.6 70.6,70.1 70.9,69.8 71.2,69.2 71.6,69.1 71.9,68.8 72.3,68.6 72.6,68.2 73.0,68.2 73.4,68.1 73.7,67.5 74.1,66.9 74.4,66.6 74.8,66.2 75.1,66.4 75.4,66.5 75.8,66.0 76.1,65.8 76.5,65.5 76.9,65.5 77.2,65.3 77.6,63.9 77.9,64.1 78.2,63.9 78.6,63.6 78.9,64.1 79.3,63.6 79.6,63.7 80.0,62.8 80.4,61.7 80.7,61.2 81.1,60.6 81.4,60.9 81.8,59.8 82.1,59.1 82.4,59.2 82.8,59.1 83.1,57.9 83.5,56.8 83.9,56.8 84.2,56.2 84.6,56.9 84.9,56.8 85.2,57.5 85.6,57.0 85.9,56.7 86.3,57.4 86.6,56.8 87.0,56.0 87.4,56.4 87.7,55.4 88.1,55.9 88.4,55.9 88.8,56.2 89.1,55.6 89.4,55.6 89.8,55.0 90.1,55.0 90.5,55.3 90.9,57.1 91.2,56.5 91.6,55.8 91.9,55.6 92.2,55.5 92.6,54.7 92.9,54.9 93.3,54.3 93.6,54.2 94.0,53.9 94.4,54.9 94.7,56.6 95.1,56.1 95.4,55.7 95.8,56.2 96.1,56.0 96.4,56.3 96.8,57.0 97.1,57.5 97.5,57.0 97.9,56.7 98.2,56.4 98.6,55.6 98.9,55.3 99.2,55.3 99.6,56.1 99.9,57.3 100.3,58.0 100.6,56.2 101.0,55.7 101.4,55.4 101.7,55.3 102.1,55.6 102.4,55.8 102.8,56.5 103.1,56.2 103.4,56.9 103.8,57.1 104.1,56.7 104.5,56.0 104.9,55.7 105.2,56.5 105.6,57.6 105.9,58.4 106.2,58.7 106.6,58.0 106.9,58.2 107.3,57.3 107.6,57.4 108.0,57.7 108.4,57.7 108.7,57.6 109.1,57.7 109.4,58.7 109.8,58.3 110.1,57.8 110.4,58.3 110.8,58.3 111.1,58.4 111.5,58.6 111.9,58.5 112.2,58.6 112.6,58.0 112.9,58.5 113.2,58.7 113.6,57.8 113.9,58.0 114.3,58.1 114.6,58.0 115.0,59.4 115.4,59.3 115.7,58.8 116.1,58.1 116.4,57.8 116.8,58.7 117.1,58.7 117.4,58.9 117.8,57.7 118.1,57.5 118.5,57.7 118.9,58.2 119.2,58.2 119.6,57.8 119.9,58.0 120.2,58.7 120.6,59.1 120.9,58.8 121.3,58.0 121.6,58.3 122.0,58.2 122.4,57.7 122.7,57.7 123.1,59.4 123.4,60.5 123.8,61.0 124.1,61.2 124.4,60.9 124.8,60.7 125.1,60.2 125.5,60.0 125.9,59.8 126.2,60.6 126.6,60.8 126.9,60.8 127.2,61.1 127.6,61.3 127.9,60.7 128.3,60.1 128.6,60.5 129.0,61.1 129.4,60.6 129.7,59.8 130.1,60.2 130.4,59.8 130.8,59.4 131.1,59.0 131.4,59.2 131.8,60.0 132.1,60.7 132.5,60.4 132.9,61.2 133.2,60.9 133.6,60.3 133.9,60.3 134.2,60.1 134.6,59.8 134.9,60.4 135.3,61.0 135.6,61.1 136.0,61.2 136.4,60.7 136.7,65.9 137.1,67.9 137.4,67.4 137.8,67.3 138.1,67.5 138.4,67.7 138.8,69.6 139.1,75.2 139.5,75.2 139.5,75.2 139.1,75.2 138.8,70.4 138.4,68.8 138.1,68.7 137.8,68.4 137.4,68.5 137.1,69.1 136.7,67.4 136.4,62.8 136.0,63.1 135.6,62.9 135.3,62.7 134.9,62.3 134.6,61.9 134.2,62.3 133.9,62.6 133.6,62.4 133.2,62.8 132.9,63.0 132.5,62.4 132.1,62.8 131.8,62.1 131.4,61.5 131.1,61.4 130.8,61.7 130.4,62.1 130.1,62.5 129.7,62.1 129.4,62.5 129.0,62.8 128.6,62.4 128.3,62.3 127.9,62.7 127.6,63.3 127.2,63.4 126.9,63.2 126.6,63.1 126.2,62.8 125.9,62.0 125.5,62.1 125.1,62.2 124.8,62.7 124.4,62.7 124.1,62.9 123.8,62.7 123.4,62.5 123.1,61.6 122.7,60.2 122.4,60.2 122.0,60.4 121.6,60.4 121.3,60.4 120.9,61.0 120.6,61.3 120.2,61.1 119.9,60.4 119.6,60.1 119.2,60.4 118.9,60.7 118.5,60.3 118.1,60.2 117.8,60.2 117.4,61.3 117.1,61.2 116.8,61.1 116.4,60.4 116.1,60.6 115.7,61.1 115.4,61.5 115.0,61.5 114.6,60.5 114.3,60.8 113.9,60.6 113.6,60.4 113.2,61.2 112.9,61.1 112.6,60.5 112.2,61.0 111.9,61.1 111.5,61.2 111.1,61.0 110.8,60.7 110.4,60.6 110.1,60.0 109.8,60.4 109.4,61.1 109.1,60.3 108.7,59.9 108.4,59.9 108.0,60.1 107.6,59.9 107.3,59.6 106.9,60.3 106.6,60.4 106.2,61.0 105.9,60.6 105.6,59.8 105.2,59.1 104.9,58.5 104.5,58.8 104.1,59.3 103.8,59.6 103.4,59.3 103.1,58.7 102.8,59.2 102.4,58.5 102.1,58.0 101.7,58.0 101.4,58.2 101.0,58.4 100.6,58.6 100.3,60.1 99.9,59.5 99.6,58.7 99.2,58.2 98.9,58.1 98.6,58.4 98.2,59.0 97.9,59.2 97.5,59.5 97.1,60.1 96.8,59.8 96.4,59.2 96.1,58.7 95.8,58.5 95.4,58.1 95.1,58.5 94.7,59.0 94.4,57.3 94.0,56.3 93.6,56.5 93.3,56.7 92.9,57.5 92.6,57.3 92.2,58.1 91.9,58.4 91.6,58.8 91.2,59.2 90.9,59.5 90.5,58.0 90.1,57.6 89.8,57.7 89.4,58.5 89.1,58.5 88.8,58.8 88.4,58.5 88.1,58.6 87.7,58.3 87.4,58.9 87.0,58.5 86.6,59.3 86.3,59.8 85.9,59.1 85.6,59.3 85.2,60.1 84.9,59.6 84.6,59.6 84.2,59.1 83.9,59.7 83.5,59.8 83.1,60.5 82.8,61.2 82.4,61.1 82.1,61.3 81.8,61.8 81.4,62.7 81.1,62.6 80.7,63.1 80.4,63.6 80.0,64.4 79.6,65.3 79.3,65.4 78.9,65.8 78.6,65.2 78.2,65.3 77.9,65.7 77.6,65.6 77.2,66.9 76.9,67.1 76.5,67.0 76.1,67.1 75.8,67.1 75.4,67.6 75.1,67.6 74.8,67.6 74.4,67.9 74.1,68.1 73.7,68.6 73.4,69.2 73.0,69.2 72.6,69.2 72.3,69.6 71.9,69.8 71.6,69.9 71.2,70.1 70.9,70.6 70.6,70.8 70.2,71.3 69.9,71.7 69.5,72.1 69.1,72.3 68.8,72.6 68.4,72.8 68.1,72.9 67.8,72.7 67.4,72.7 67.1,72.3 66.7,72.3 66.4,72.6 66.0,72.7 65.6,72.9 65.3,73.4 64.9,73.7 64.6,73.5 64.2,73.4 63.9,73.2 63.6,73.1 63.2,73.2 62.9,73.6 62.5,73.9 62.1,74.2 61.8,74.1 61.4,74.0 61.1,73.8 60.8,73.9 60.4,74.0 60.1,74.2 59.7,74.4 59.4,74.6 59.0,74.8 58.6,74.8 58.3,74.8 57.9,74.9 57.6,74.9 57.2,74.9 56.9,74.9 56.6,74.8 56.2,74.1 55.9,74.1 55.5,75.2" fill="#8573a6"/><polygon points="55.5,75.2 55.9,73.7 56.2,73.7 56.6,74.7 56.9,74.9 57.2,74.8 57.6,74.8 57.9,74.8 58.3,74.7 58.6,74.7 59.0,74.6 59.4,74.4 59.7,74.2 60.1,74.0 60.4,73.7 60.8,73.6 61.1,73.5 61.4,73.7 61.8,73.9 62.1,73.9 62.5,73.5 62.9,73.1 63.2,72.7 63.6,72.5 63.9,72.8 64.2,72.9 64.6,73.0 64.9,73.3 65.3,72.9 65.6,72.3 66.0,72.0 66.4,71.7 66.7,71.4 67.1,71.6 67.4,72.1 67.8,72.0 68.1,72.3 68.4,72.1 68.8,71.9 69.1,71.6 69.5,71.3 69.9,70.8 70.2,70.2 70.6,69.7 70.9,69.3 71.2,68.7 71.6,68.6 71.9,68.3 72.3,67.9 72.6,67.5 73.0,67.4 73.4,67.3 73.7,66.8 74.1,66.3 74.4,65.8 74.8,65.3 75.1,65.5 75.4,65.7 75.8,65.2 76.1,65.0 76.5,64.6 76.9,64.5 77.2,64.3 77.6,62.9 77.9,63.1 78.2,62.9 78.6,62.5 78.9,62.9 79.3,62.3 79.6,62.4 80.0,61.4 80.4,60.4 80.7,59.9 81.1,59.3 81.4,59.3 81.8,58.0 82.1,57.4 82.4,57.3 82.8,57.3 83.1,56.1 83.5,54.9 83.9,54.8 84.2,54.2 84.6,55.1 84.9,55.1 85.2,55.8 85.6,55.1 85.9,55.0 86.3,55.7 86.6,54.8 87.0,53.9 87.4,54.5 87.7,53.7 88.1,54.3 88.4,54.2 88.8,54.3 89.1,53.4 89.4,53.6 89.8,53.2 90.1,53.2 90.5,53.3 90.9,55.4 91.2,54.8 91.6,54.2 91.9,53.9 92.2,53.5 92.6,52.7 92.9,53.1 93.3,52.5 93.6,52.4 94.0,52.1 94.4,53.1 94.7,54.8 95.1,54.2 95.4,53.8 95.8,54.4 96.1,54.3 96.4,54.5 96.8,55.2 97.1,55.8 97.5,55.2 97.9,54.7 98.2,54.3 98.6,53.7 98.9,53.4 99.2,53.3 99.6,54.1 99.9,55.4 100.3,56.1 100.6,54.1 101.0,53.6 101.4,53.5 101.7,53.5 102.1,53.7 102.4,53.8 102.8,54.5 103.1,54.1 103.4,55.0 103.8,55.4 104.1,55.0 104.5,54.2 104.9,53.8 105.2,54.6 105.6,55.8 105.9,56.8 106.2,57.0 106.6,56.3 106.9,56.4 107.3,55.3 107.6,55.5 108.0,55.8 108.4,55.9 108.7,56.1 109.1,56.3 109.4,57.2 109.8,56.5 110.1,56.0 110.4,56.7 110.8,56.7 111.1,56.9 111.5,57.0 111.9,56.9 112.2,57.1 112.6,56.6 112.9,57.2 113.2,57.3 113.6,56.2 113.9,56.3 114.3,56.5 114.6,56.3 115.0,57.6 115.4,57.4 115.7,56.7 116.1,56.1 116.4,56.2 116.8,57.3 117.1,57.3 117.4,57.3 117.8,55.9 118.1,55.9 118.5,56.0 118.9,56.5 119.2,56.4 119.6,56.0 119.9,56.2 120.2,57.0 120.6,57.5 120.9,57.4 121.3,56.5 121.6,56.4 122.0,56.3 122.4,55.9 122.7,56.3 123.1,58.3 123.4,59.3 123.8,59.7 124.1,59.9 124.4,59.6 124.8,59.5 125.1,58.8 125.5,58.5 125.9,58.3 126.2,59.0 126.6,59.2 126.9,59.3 127.2,59.7 127.6,59.9 127.9,59.2 128.3,58.8 128.6,59.2 129.0,59.6 129.4,59.0 129.7,58.4 130.1,58.8 130.4,58.3 130.8,57.9 131.1,57.7 131.4,57.9 131.8,58.7 132.1,59.2 132.5,58.9 132.9,59.8 133.2,59.4 133.6,58.9 133.9,58.9 134.2,58.6 134.6,58.2 134.9,58.8 135.3,59.6 135.6,59.8 136.0,59.8 136.4,59.1 136.7,64.9 137.1,67.1 137.4,66.5 137.8,66.4 138.1,66.7 138.4,67.0 138.8,69.1 139.1,75.2 139.5,75.2 139.5,75.2 139.1,75.2 138.8,69.6 138.4,67.7 138.1,67.5 137.8,67.3 137.4,67.4 137.1,67.9 136.7,65.9 136.4,60.7 136.0,61.2 135.6,61.1 135.3,61.0 134.9,60.4 134.6,59.8 134.2,60.1 133.9,60.3 133.6,60.3 133.2,60.9 132.9,61.2 132.5,60.4 132.1,60.7 131.8,60.0 131.4,59.2 131.1,59.0 130.8,59.4 130.4,59.8 130.1,60.2 129.7,59.8 129.4,60.6 129.0,61.1 128.6,60.5 128.3,60.1 127.9,60.7 127.6,61.3 127.2,61.1 126.9,60.8 126.6,60.8 126.2,60.6 125.9,59.8 125.5,60.0 125.1,60.2 124.8,60.7 124.4,60.9 124.1,61.2 123.8,61.0 123.4,60.5 123.1,59.4 122.7,57.7 122.4,57.7 122.0,58.2 121.6,58.3 121.3,58.0 120.9,58.8 120.6,59.1 120.2,58.7 119.9,58.0 119.6,57.8 119.2,58.2 118.9,58.2 118.5,57.7 118.1,57.5 117.8,57.7 117.4,58.9 117.1,58.7 116.8,58.7 116.4,57.8 116.1,58.1 115.7,58.8 115.4,59.3 115.0,59.4 114.6,58.0 114.3,58.1 113.9,58.0 113.6,57.8 113.2,58.7 112.9,58.5 112.6,58.0 112.2,58.6 111.9,58.5 111.5,58.6 111.1,58.4 110.8,58.3 110.4,58.3 110.1,57.8 109.8,58.3 109.4,58.7 109.1,57.7 108.7,57.6 108.4,57.7 108.0,57.7 107.6,57.4 107.3,57.3 106.9,58.2 106.6,58.0 106.2,58.7 105.9,58.4 105.6,57.6 105.2,56.5 104.9,55.7 104.5,56.0 104.1,56.7 103.8,57.1 103.4,56.9 103.1,56.2 102.8,56.5 102.4,55.8 102.1,55.6 101.7,55.3 101.4,55.4 101.0,55.7 100.6,56.2 100.3,58.0 99.9,57.3 99.6,56.1 99.2,55.3 98.9,55.3 98.6,55.6 98.2,56.4 97.9,56.7 97.5,57.0 97.1,57.5 96.8,57.0 96.4,56.3 96.1,56.0 95.8,56.2 95.4,55.7 95.1,56.1 94.7,56.6 94.4,54.9 94.0,53.9 93.6,54.2 93.3,54.3 92.9,54.9 92.6,54.7 92.2,55.5 91.9,55.6 91.6,55.8 91.2,56.5 90.9,57.1 90.5,55.3 90.1,55.0 89.8,55.0 89.4,55.6 89.1,55.6 88.8,56.2 88.4,55.9 88.1,55.9 87.7,55.4 87.4,56.4 87.0,56.0 86.6,56.8 86.3,57.4 85.9,56.7 85.6,57.0 85.2,57.5 84.9,56.8 84.6,56.9 84.2,56.2 83.9,56.8 83.5,56.8 83.1,57.9 82.8,59.1 82.4,59.2 82.1,59.1 81.8,59.8 81.4,60.9 81.1,60.6 80.7,61.2 80.4,61.7 80.0,62.8 79.6,63.7 79.3,63.6 78.9,64.1 78.6,63.6 78.2,63.9 77.9,64.1 77.6,63.9 77.2,65.3 76.9,65.5 76.5,65.5 76.1,65.8 75.8,66.0 75.4,66.5 75.1,66.4 74.8,66.2 74.4,66.6 74.1,66.9 73.7,67.5 73.4,68.1 73.0,68.2 72.6,68.2 72.3,68.6 71.9,68.8 71.6,69.1 71.2,69.2 70.9,69.8 70.6,70.1 70.2,70.6 69.9,71.2 69.5,71.6 69.1,72.0 68.8,72.2 68.4,72.4 68.1,72.5 67.8,72.3 67.4,72.3 67.1,71.9 66.7,71.8 66.4,72.1 66.0,72.3 65.6,72.6 65.3,73.1 64.9,73.4 64.6,73.2 64.2,73.1 63.9,73.0 63.6,72.7 63.2,72.9 62.9,73.4 62.5,73.7 62.1,74.0 61.8,74.0 61.4,73.8 61.1,73.6 60.8,73.7 60.4,73.9 60.1,74.1 59.7,74.3 59.4,74.5 59.0,74.7 58.6,74.7 58.3,74.8 57.9,74.8 57.6,74.8 57.2,74.9 56.9,74.9 56.6,74.8 56.2,73.9 55.9,73.9 55.5,75.2" fill="#c68b60"/><polygon points="55.5,75.2 55.9,73.6 56.2,73.6 56.6,74.7 56.9,74.8 57.2,74.8 57.6,74.8 57.9,74.7 58.3,74.7 58.6,74.6 59.0,74.6 59.4,74.3 59.7,74.1 60.1,73.9 60.4,73.6 60.8,73.4 61.1,73.3 61.4,73.5 61.8,73.8 62.1,73.8 62.5,73.3 62.9,73.0 63.2,72.5 63.6,72.2 63.9,72.5 64.2,72.6 64.6,72.8 64.9,73.1 65.3,72.6 65.6,72.0 66.0,71.6 66.4,71.4 66.7,71.0 67.1,71.2 67.4,71.7 67.8,71.7 68.1,72.0 68.4,71.8 68.8,71.5 69.1,71.2 69.5,70.8 69.9,70.4 70.2,69.8 70.6,69.1 70.9,68.7 71.2,68.2 71.6,68.1 71.9,67.6 72.3,67.2 72.6,66.7 73.0,66.7 73.4,66.6 73.7,66.0 74.1,65.5 74.4,65.0 74.8,64.5 75.1,64.6 75.4,64.6 75.8,64.1 76.1,64.0 76.5,63.4 76.9,63.2 77.2,63.2 77.6,61.9 77.9,62.0 78.2,61.7 78.6,61.3 78.9,61.8 79.3,61.1 79.6,61.0 80.0,59.9 80.4,58.8 80.7,58.1 81.1,57.5 81.4,57.7 81.8,56.5 82.1,55.9 82.4,55.7 82.8,55.3 83.1,53.9 83.5,52.9 83.9,53.0 84.2,52.0 84.6,52.8 84.9,52.9 85.2,53.9 85.6,52.9 85.9,52.6 86.3,53.4 86.6,52.8 87.0,51.9 87.4,52.4 87.7,51.7 88.1,52.3 88.4,52.1 88.8,52.0 89.1,51.0 89.4,51.6 89.8,51.3 90.1,51.0 90.5,50.8 90.9,53.0 91.2,52.4 91.6,51.6 91.9,51.2 92.2,51.1 92.6,50.5 92.9,51.2 93.3,50.4 93.6,50.2 94.0,50.0 94.4,51.0 94.7,52.9 95.1,52.0 95.4,51.4 95.8,52.5 96.1,52.5 96.4,52.6 96.8,53.2 97.1,53.9 97.5,53.3 97.9,52.4 98.2,51.8 98.6,51.2 98.9,51.1 99.2,51.1 99.6,51.9 99.9,53.3 100.3,54.2 100.6,52.0 101.0,51.4 101.4,51.0 101.7,50.7 102.1,51.1 102.4,51.7 102.8,52.6 103.1,52.1 103.4,53.0 103.8,53.6 104.1,53.3 104.5,52.5 104.9,51.9 105.2,52.5 105.6,53.4 105.9,54.3 106.2,54.7 106.6,53.9 106.9,53.9 107.3,52.9 107.6,53.4 108.0,53.9 108.4,53.9 108.7,54.0 109.1,54.5 109.4,55.3 109.8,54.4 110.1,53.9 110.4,54.7 110.8,54.8 111.1,55.0 111.5,55.1 111.9,55.3 112.2,55.5 112.6,54.7 112.9,55.4 113.2,55.7 113.6,54.3 113.9,54.3 114.3,54.7 114.6,54.5 115.0,55.8 115.4,55.5 115.7,54.8 116.1,54.4 116.4,54.4 116.8,55.3 117.1,55.5 117.4,55.5 117.8,53.9 118.1,54.1 118.5,54.4 118.9,54.8 119.2,54.7 119.6,54.1 119.9,54.4 120.2,55.2 120.6,55.7 120.9,55.6 121.3,54.6 121.6,54.6 122.0,54.6 122.4,54.3 122.7,54.7 123.1,56.6 123.4,57.5 123.8,57.9 124.1,58.1 124.4,57.9 124.8,57.9 125.1,56.9 125.5,56.6 125.9,56.5 126.2,57.3 126.6,57.6 126.9,57.7 127.2,57.9 127.6,58.0 127.9,57.4 128.3,57.1 128.6,57.5 129.0,58.1 129.4,57.6 129.7,57.0 130.1,57.4 130.4,56.7 130.8,56.4 131.1,56.0 131.4,56.1 131.8,56.9 132.1,57.4 132.5,57.0 132.9,58.1 133.2,57.6 133.6,56.9 133.9,57.1 134.2,56.9 134.6,56.5 134.9,57.1 135.3,57.9 135.6,58.1 136.0,58.2 136.4,57.6 136.7,63.9 137.1,66.1 137.4,65.5 137.8,65.4 138.1,65.9 138.4,66.2 138.8,68.5 139.1,75.2 139.5,75.2 139.5,75.2 139.1,75.2 138.8,69.1 138.4,67.0 138.1,66.7 137.8,66.4 137.4,66.5 137.1,67.1 136.7,64.9 136.4,59.1 136.0,59.8 135.6,59.8 135.3,59.6 134.9,58.8 134.6,58.2 134.2,58.6 133.9,58.9 133.6,58.9 133.2,59.4 132.9,59.8 132.5,58.9 132.1,59.2 131.8,58.7 131.4,57.9 131.1,57.7 130.8,57.9 130.4,58.3 130.1,58.8 129.7,58.4 129.4,59.0 129.0,59.6 128.6,59.2 128.3,58.8 127.9,59.2 127.6,59.9 127.2,59.7 126.9,59.3 126.6,59.2 126.2,59.0 125.9,58.3 125.5,58.5 125.1,58.8 124.8,59.5 124.4,59.6 124.1,59.9 123.8,59.7 123.4,59.3 123.1,58.3 122.7,56.3 122.4,55.9 122.0,56.3 121.6,56.4 121.3,56.5 120.9,57.4 120.6,57.5 120.2,57.0 119.9,56.2 119.6,56.0 119.2,56.4 118.9,56.5 118.5,56.0 118.1,55.9 117.8,55.9 117.4,57.3 117.1,57.3 116.8,57.3 116.4,56.2 116.1,56.1 115.7,56.7 115.4,57.4 115.0,57.6 114.6,56.3 114.3,56.5 113.9,56.3 113.6,56.2 113.2,57.3 112.9,57.2 112.6,56.6 112.2,57.1 111.9,56.9 111.5,57.0 111.1,56.9 110.8,56.7 110.4,56.7 110.1,56.0 109.8,56.5 109.4,57.2 109.1,56.3 108.7,56.1 108.4,55.9 108.0,55.8 107.6,55.5 107.3,55.3 106.9,56.4 106.6,56.3 106.2,57.0 105.9,56.8 105.6,55.8 105.2,54.6 104.9,53.8 104.5,54.2 104.1,55.0 103.8,55.4 103.4,55.0 103.1,54.1 102.8,54.5 102.4,53.8 102.1,53.7 101.7,53.5 101.4,53.5 101.0,53.6 100.6,54.1 100.3,56.1 99.9,55.4 99.6,54.1 99.2,53.3 98.9,53.4 98.6,53.7 98.2,54.3 97.9,54.7 97.5,55.2 97.1,55.8 96.8,55.2 96.4,54.5 96.1,54.3 95.8,54.4 95.4,53.8 95.1,54.2 94.7,54.8 94.4,53.1 94.0,52.1 93.6,52.4 93.3,52.5 92.9,53.1 92.6,52.7 92.2,53.5 91.9,53.9 91.6,54.2 91.2,54.8 90.9,55.4 90.5,53.3 90.1,53.2 89.8,53.2 89.4,53.6 89.1,53.4 88.8,54.3 88.4,54.2 88.1,54.3 87.7,53.7 87.4,54.5 87.0,53.9 86.6,54.8 86.3,55.7 85.9,55.0 85.6,55.1 85.2,55.8 84.9,55.1 84.6,55.1 84.2,54.2 83.9,54.8 83.5,54.9 83.1,56.1 82.8,57.3 82.4,57.3 82.1,57.4 81.8,58.0 81.4,59.3 81.1,59.3 80.7,59.9 80.4,60.4 80.0,61.4 79.6,62.4 79.3,62.3 78.9,62.9 78.6,62.5 78.2,62.9 77.9,63.1 77.6,62.9 77.2,64.3 76.9,64.5 76.5,64.6 76.1,65.0 75.8,65.2 75.4,65.7 75.1,65.5 74.8,65.3 74.4,65.8 74.1,66.3 73.7,66.8 73.4,67.3 73.0,67.4 72.6,67.5 72.3,67.9 71.9,68.3 71.6,68.6 71.2,68.7 70.9,69.3 70.6,69.7 70.2,70.2 69.9,70.8 69.5,71.3 69.1,71.6 68.8,71.9 68.4,72.1 68.1,72.3 67.8,72.0 67.4,72.1 67.1,71.6 66.7,71.4 66.4,71.7 66.0,72.0 65.6,72.3 65.3,72.9 64.9,73.3 64.6,73.0 64.2,72.9 63.9,72.8 63.6,72.5 63.2,72.7 62.9,73.1 62.5,73.5 62.1,73.9 61.8,73.9 61.4,73.7 61.1,73.5 60.8,73.6 60.4,73.7 60.1,74.0 59.7,74.2 59.4,74.4 59.0,74.6 58.6,74.7 58.3,74.7 57.9,74.8 57.6,74.8 57.2,74.8 56.9,74.9 56.6,74.7 56.2,73.7 55.9,73.7 55.5,75.2" fill="#7f6168"/><polygon points="55.5,75.2 55.9,73.3 56.2,73.3 56.6,74.6 56.9,74.8 57.2,74.7 57.6,74.7 57.9,74.6 58.3,74.6 58.6,74.6 59.0,74.5 59.4,74.2 59.7,74.0 60.1,73.7 60.4,73.4 60.8,73.2 61.1,73.0 61.4,73.3 61.8,73.6 62.1,73.6 62.5,73.0 62.9,72.6 63.2,72.1 63.6,71.9 63.9,72.2 64.2,72.4 64.6,72.5 64.9,72.7 65.3,72.2 65.6,71.7 66.0,71.2 66.4,70.8 66.7,70.4 67.1,70.7 67.4,71.3 67.8,71.3 68.1,71.5 68.4,71.3 68.8,71.0 69.1,70.6 69.5,70.3 69.9,69.9 70.2,69.0 70.6,68.2 70.9,67.8 71.2,67.4 71.6,67.3 71.9,66.7 72.3,66.1 72.6,65.6 73.0,65.6 73.4,65.6 73.7,64.9 74.1,64.2 74.4,63.8 74.8,63.3 75.1,63.2 75.4,63.1 75.8,62.8 76.1,62.7 76.5,61.9 76.9,61.8 77.2,61.7 77.6,60.3 77.9,60.4 78.2,59.9 78.6,59.3 78.9,59.7 79.3,59.0 79.6,59.3 80.0,57.9 80.4,56.3 80.7,55.4 81.1,54.7 81.4,55.1 81.8,53.9 82.1,53.3 82.4,53.0 82.8,52.3 83.1,50.4 83.5,49.4 83.9,49.8 84.2,49.0 84.6,49.8 84.9,49.8 85.2,50.9 85.6,49.9 85.9,49.6 86.3,50.6 86.6,50.1 87.0,49.3 87.4,49.9 87.7,48.6 88.1,49.0 88.4,48.8 88.8,49.1 89.1,48.1 89.4,48.9 89.8,48.6 90.1,48.4 90.5,48.0 90.9,49.9 91.2,49.3 91.6,48.5 91.9,48.1 92.2,48.2 92.6,47.9 92.9,48.6 93.3,47.5 93.6,47.0 94.0,46.4 94.4,47.4 94.7,49.5 95.1,48.5 95.4,47.8 95.8,49.2 96.1,49.9 96.4,50.0 96.8,50.1 97.1,50.6 97.5,50.1 97.9,49.3 98.2,48.5 98.6,47.9 98.9,48.1 99.2,47.9 99.6,48.6 99.9,50.5 100.3,51.9 100.6,49.5 101.0,48.7 101.4,48.0 101.7,47.4 102.1,48.0 102.4,48.7 102.8,49.7 103.1,48.9 103.4,49.7 103.8,50.5 104.1,50.4 104.5,49.1 104.9,48.2 105.2,49.3 105.6,50.7 105.9,51.3 106.2,51.6 106.6,51.2 106.9,51.6 107.3,50.3 107.6,50.4 108.0,50.6 108.4,50.5 108.7,50.9 109.1,51.9 109.4,52.8 109.8,51.4 110.1,50.9 110.4,51.8 110.8,52.0 111.1,52.5 111.5,52.9 111.9,53.0 112.2,53.2 112.6,52.1 112.9,52.9 113.2,53.0 113.6,51.4 113.9,51.7 114.3,52.2 114.6,52.0 115.0,53.2 115.4,52.5 115.7,51.7 116.1,51.6 116.4,51.5 116.8,52.5 117.1,53.1 117.4,53.4 117.8,51.7 118.1,51.6 118.5,51.7 118.9,52.2 119.2,51.8 119.6,51.2 119.9,51.5 120.2,52.3 120.6,52.9 120.9,52.7 121.3,51.7 121.6,51.9 122.0,51.9 122.4,51.6 122.7,51.8 123.1,53.7 123.4,54.8 123.8,55.5 124.1,55.5 124.4,55.1 124.8,55.5 125.1,54.6 125.5,53.9 125.9,53.8 126.2,55.2 126.6,55.7 126.9,55.5 127.2,55.3 127.6,55.4 127.9,54.8 128.3,54.4 128.6,55.0 129.0,55.8 129.4,55.5 129.7,55.1 130.1,55.6 130.4,54.8 130.8,54.0 131.1,53.6 131.4,53.7 131.8,54.3 132.1,55.1 132.5,55.1 132.9,56.1 133.2,55.2 133.6,54.3 133.9,55.0 134.2,54.9 134.6,54.1 134.9,54.6 135.3,55.3 135.6,55.6 136.0,56.0 136.4,55.2 136.7,62.3 137.1,64.9 137.4,64.2 137.8,64.1 138.1,64.7 138.4,65.1 138.8,67.7 139.1,75.2 139.5,75.2 139.5,75.2 139.1,75.2 138.8,68.5 138.4,66.2 138.1,65.9 137.8,65.4 137.4,65.5 137.1,66.1 136.7,63.9 136.4,57.6 136.0,58.2 135.6,58.1 135.3,57.9 134.9,57.1 134.6,56.5 134.2,56.9 133.9,57.1 133.6,56.9 133.2,57.6 132.9,58.1 132.5,57.0 132.1,57.4 131.8,56.9 131.4,56.1 131.1,56.0 130.8,56.4 130.4,56.7 130.1,57.4 129.7,57.0 129.4,57.6 129.0,58.1 128.6,57.5 128.3,57.1 127.9,57.4 127.6,58.0 127.2,57.9 126.9,57.7 126.6,57.6 126.2,57.3 125.9,56.5 125.5,56.6 125.1,56.9 124.8,57.9 124.4,57.9 124.1,58.1 123.8,57.9 123.4,57.5 123.1,56.6 122.7,54.7 122.4,54.3 122.0,54.6 121.6,54.6 121.3,54.6 120.9,55.6 120.6,55.7 120.2,55.2 119.9,54.4 119.6,54.1 119.2,54.7 118.9,54.8 118.5,54.4 118.1,54.1 117.8,53.9 117.4,55.5 117.1,55.5 116.8,55.3 116.4,54.4 116.1,54.4 115.7,54.8 115.4,55.5 115.0,55.8 114.6,54.5 114.3,54.7 113.9,54.3 113.6,54.3 113.2,55.7 112.9,55.4 112.6,54.7 112.2,55.5 111.9,55.3 111.5,55.1 111.1,55.0 110.8,54.8 110.4,54.7 110.1,53.9 109.8,54.4 109.4,55.3 109.1,54.5 108.7,54.0 108.4,53.9 108.0,53.9 107.6,53.4 107.3,52.9 106.9,53.9 106.6,53.9 106.2,54.7 105.9,54.3 105.6,53.4 105.2,52.5 104.9,51.9 104.5,52.5 104.1,53.3 103.8,53.6 103.4,53.0 103.1,52.1 102.8,52.6 102.4,51.7 102.1,51.1 101.7,50.7 101.4,51.0 101.0,51.4 100.6,52.0 100.3,54.2 99.9,53.3 99.6,51.9 99.2,51.1 98.9,51.1 98.6,51.2 98.2,51.8 97.9,52.4 97.5,53.3 97.1,53.9 96.8,53.2 96.4,52.6 96.1,52.5 95.8,52.5 95.4,51.4 95.1,52.0 94.7,52.9 94.4,51.0 94.0,50.0 93.6,50.2 93.3,50.4 92.9,51.2 92.6,50.5 92.2,51.1 91.9,51.2 91.6,51.6 91.2,52.4 90.9,53.0 90.5,50.8 90.1,51.0 89.8,51.3 89.4,51.6 89.1,51.0 88.8,52.0 88.4,52.1 88.1,52.3 87.7,51.7 87.4,52.4 87.0,51.9 86.6,52.8 86.3,53.4 85.9,52.6 85.6,52.9 85.2,53.9 84.9,52.9 84.6,52.8 84.2,52.0 83.9,53.0 83.5,52.9 83.1,53.9 82.8,55.3 82.4,55.7 82.1,55.9 81.8,56.5 81.4,57.7 81.1,57.5 80.7,58.1 80.4,58.8 80.0,59.9 79.6,61.0 79.3,61.1 78.9,61.8 78.6,61.3 78.2,61.7 77.9,62.0 77.6,61.9 77.2,63.2 76.9,63.2 76.5,63.4 76.1,64.0 75.8,64.1 75.4,64.6 75.1,64.6 74.8,64.5 74.4,65.0 74.1,65.5 73.7,66.0 73.4,66.6 73.0,66.7 72.6,66.7 72.3,67.2 71.9,67.6 71.6,68.1 71.2,68.2 70.9,68.7 70.6,69.1 70.2,69.8 69.9,70.4 69.5,70.8 69.1,71.2 68.8,71.5 68.4,71.8 68.1,72.0 67.8,71.7 67.4,71.7 67.1,71.2 66.7,71.0 66.4,71.4 66.0,71.6 65.6,72.0 65.3,72.6 64.9,73.1 64.6,72.8 64.2,72.6 63.9,72.5 63.6,72.2 63.2,72.5 62.9,73.0 62.5,73.3 62.1,73.8 61.8,73.8 61.4,73.5 61.1,73.3 60.8,73.4 60.4,73.6 60.1,73.9 59.7,74.1 59.4,74.3 59.0,74.6 58.6,74.6 58.3,74.7 57.9,74.7 57.6,74.8 57.2,74.8 56.9,74.8 56.6,74.7 56.2,73.6 55.9,73.6 55.5,75.2" fill="#e9e6f2"/><polygon points="55.5,75.2 55.9,73.1 56.2,73.1 56.6,74.5 56.9,74.7 57.2,74.7 57.6,74.6 57.9,74.6 58.3,74.5 58.6,74.5 59.0,74.4 59.4,74.1 59.7,73.8 60.1,73.5 60.4,73.1 60.8,72.9 61.1,72.7 61.4,73.0 61.8,73.3 62.1,73.3 62.5,72.7 62.9,72.2 63.2,71.6 63.6,71.4 63.9,71.7 64.2,72.0 64.6,72.1 64.9,72.4 65.3,71.8 65.6,71.2 66.0,70.6 66.4,70.2 66.7,69.7 67.1,70.0 67.4,70.7 67.8,70.7 68.1,70.9 68.4,70.7 68.8,70.3 69.1,69.9 69.5,69.6 69.9,69.0 70.2,68.0 70.6,67.3 70.9,67.0 71.2,66.4 71.6,66.1 71.9,65.5 72.3,64.9 72.6,64.3 73.0,64.3 73.4,64.4 73.7,63.6 74.1,62.8 74.4,62.4 74.8,61.7 75.1,61.2 75.4,61.1 75.8,60.6 76.1,60.7 76.5,60.3 76.9,60.1 77.2,59.7 77.6,58.2 77.9,58.6 78.2,57.9 78.6,57.3 78.9,57.8 79.3,57.3 79.6,57.4 80.0,55.4 80.4,53.6 80.7,52.7 81.1,52.0 81.4,52.6 81.8,51.2 82.1,50.6 82.4,50.0 82.8,49.2 83.1,47.2 83.5,45.8 83.9,46.4 84.2,46.0 84.6,46.9 84.9,46.3 85.2,47.2 85.6,46.5 85.9,46.2 86.3,46.5 86.6,45.6 87.0,45.3 87.4,46.7 87.7,45.7 88.1,46.0 88.4,46.0 88.8,46.1 89.1,44.5 89.4,45.2 89.8,44.9 90.1,45.0 90.5,44.6 90.9,46.4 91.2,45.4 91.6,44.7 91.9,44.1 92.2,43.8 92.6,43.0 92.9,43.9 93.3,43.0 93.6,43.0 94.0,42.7 94.4,43.5 94.7,45.5 95.1,44.6 95.4,44.2 95.8,45.9 96.1,46.3 96.4,46.2 96.8,46.8 97.1,47.1 97.5,46.2 97.9,45.7 98.2,44.9 98.6,44.3 98.9,44.8 99.2,44.8 99.6,45.3 99.9,46.8 100.3,47.8 100.6,45.3 101.0,45.0 101.4,44.1 101.7,43.5 102.1,44.0 102.4,44.8 102.8,45.9 103.1,45.1 103.4,46.4 103.8,46.8 104.1,46.3 104.5,45.2 104.9,44.1 105.2,45.3 105.6,47.1 105.9,47.8 106.2,48.2 106.6,47.7 106.9,48.0 107.3,46.7 107.6,46.8 108.0,46.9 108.4,46.8 108.7,47.5 109.1,48.6 109.4,49.7 109.8,48.4 110.1,47.7 110.4,48.5 110.8,48.4 111.1,49.0 111.5,49.5 111.9,49.7 112.2,50.2 112.6,49.3 112.9,50.0 113.2,49.6 113.6,47.7 113.9,48.2 114.3,48.8 114.6,48.6 115.0,50.4 115.4,49.6 115.7,48.2 116.1,47.9 116.4,47.8 116.8,48.7 117.1,49.2 117.4,50.0 117.8,48.7 118.1,48.5 118.5,48.0 118.9,48.6 119.2,49.0 119.6,48.6 119.9,48.9 120.2,49.6 120.6,49.8 120.9,49.2 121.3,48.3 121.6,49.0 122.0,49.1 122.4,48.4 122.7,48.0 123.1,50.4 123.4,51.9 123.8,52.6 124.1,52.3 124.4,52.1 124.8,52.8 125.1,51.7 125.5,50.9 125.9,50.9 126.2,52.6 126.6,53.2 126.9,53.0 127.2,52.9 127.6,53.1 127.9,52.4 128.3,51.8 128.6,52.5 129.0,53.3 129.4,52.7 129.7,52.4 130.1,53.2 130.4,52.1 130.8,51.1 131.1,50.7 131.4,50.6 131.8,51.2 132.1,52.4 132.5,52.3 132.9,53.3 133.2,52.3 133.6,51.7 133.9,52.7 134.2,52.4 134.6,51.2 134.9,51.7 135.3,52.7 135.6,53.1 136.0,53.2 136.4,52.2 136.7,60.5 137.1,63.6 137.4,62.6 137.8,62.5 138.1,63.2 138.4,63.5 138.8,66.5 139.1,75.2 139.5,75.2 139.5,75.2 139.1,75.2 138.8,67.7 138.4,65.1 138.1,64.7 137.8,64.1 137.4,64.2 137.1,64.9 136.7,62.3 136.4,55.2 136.0,56.0 135.6,55.6 135.3,55.3 134.9,54.6 134.6,54.1 134.2,54.9 133.9,55.0 133.6,54.3 133.2,55.2 132.9,56.1 132.5,55.1 132.1,55.1 131.8,54.3 131.4,53.7 131.1,53.6 130.8,54.0 130.4,54.8 130.1,55.6 129.7,55.1 129.4,55.5 129.0,55.8 128.6,55.0 128.3,54.4 127.9,54.8 127.6,55.4 127.2,55.3 126.9,55.5 126.6,55.7 126.2,55.2 125.9,53.8 125.5,53.9 125.1,54.6 124.8,55.5 124.4,55.1 124.1,55.5 123.8,55.5 123.4,54.8 123.1,53.7 122.7,51.8 122.4,51.6 122.0,51.9 121.6,51.9 121.3,51.7 120.9,52.7 120.6,52.9 120.2,52.3 119.9,51.5 119.6,51.2 119.2,51.8 118.9,52.2 118.5,51.7 118.1,51.6 117.8,51.7 117.4,53.4 117.1,53.1 116.8,52.5 116.4,51.5 116.1,51.6 115.7,51.7 115.4,52.5 115.0,53.2 114.6,52.0 114.3,52.2 113.9,51.7 113.6,51.4 113.2,53.0 112.9,52.9 112.6,52.1 112.2,53.2 111.9,53.0 111.5,52.9 111.1,52.5 110.8,52.0 110.4,51.8 110.1,50.9 109.8,51.4 109.4,52.8 109.1,51.9 108.7,50.9 108.4,50.5 108.0,50.6 107.6,50.4 107.3,50.3 106.9,51.6 106.6,51.2 106.2,51.6 105.9,51.3 105.6,50.7 105.2,49.3 104.9,48.2 104.5,49.1 104.1,50.4 103.8,50.5 103.4,49.7 103.1,48.9 102.8,49.7 102.4,48.7 102.1,48.0 101.7,47.4 101.4,48.0 101.0,48.7 100.6,49.5 100.3,51.9 99.9,50.5 99.6,48.6 99.2,47.9 98.9,48.1 98.6,47.9 98.2,48.5 97.9,49.3 97.5,50.1 97.1,50.6 96.8,50.1 96.4,50.0 96.1,49.9 95.8,49.2 95.4,47.8 95.1,48.5 94.7,49.5 94.4,47.4 94.0,46.4 93.6,47.0 93.3,47.5 92.9,48.6 92.6,47.9 92.2,48.2 91.9,48.1 91.6,48.5 91.2,49.3 90.9,49.9 90.5,48.0 90.1,48.4 89.8,48.6 89.4,48.9 89.1,48.1 88.8,49.1 88.4,48.8 88.1,49.0 87.7,48.6 87.4,49.9 87.0,49.3 86.6,50.1 86.3,50.6 85.9,49.6 85.6,49.9 85.2,50.9 84.9,49.8 84.6,49.8 84.2,49.0 83.9,49.8 83.5,49.4 83.1,50.4 82.8,52.3 82.4,53.0 82.1,53.3 81.8,53.9 81.4,55.1 81.1,54.7 80.7,55.4 80.4,56.3 80.0,57.9 79.6,59.3 79.3,59.0 78.9,59.7 78.6,59.3 78.2,59.9 77.9,60.4 77.6,60.3 77.2,61.7 76.9,61.8 76.5,61.9 76.1,62.7 75.8,62.8 75.4,63.1 75.1,63.2 74.8,63.3 74.4,63.8 74.1,64.2 73.7,64.9 73.4,65.6 73.0,65.6 72.6,65.6 72.3,66.1 71.9,66.7 71.6,67.3 71.2,67.4 70.9,67.8 70.6,68.2 70.2,69.0 69.9,69.9 69.5,70.3 69.1,70.6 68.8,71.0 68.4,71.3 68.1,71.5 67.8,71.3 67.4,71.3 67.1,70.7 66.7,70.4 66.4,70.8 66.0,71.2 65.6,71.7 65.3,72.2 64.9,72.7 64.6,72.5 64.2,72.4 63.9,72.2 63.6,71.9 63.2,72.1 62.9,72.6 62.5,73.0 62.1,73.6 61.8,73.6 61.4,73.3 61.1,73.0 60.8,73.2 60.4,73.4 60.1,73.7 59.7,74.0 59.4,74.2 59.0,74.5 58.6,74.6 58.3,74.6 57.9,74.6 57.6,74.7 57.2,74.7 56.9,74.8 56.6,74.6 56.2,73.3 55.9,73.3 55.5,75.2" fill="#f2f0f7"/><polygon points="55.5,75.2 55.9,72.9 56.2,72.9 56.6,74.5 56.9,74.7 57.2,74.6 57.6,74.6 57.9,74.5 58.3,74.5 58.6,74.4 59.0,74.4 59.4,74.0 59.7,73.7 60.1,73.3 60.4,72.9 60.8,72.7 61.1,72.5 61.4,72.9 61.8,73.2 62.1,73.2 62.5,72.5 62.9,71.9 63.2,71.3 63.6,71.1 63.9,71.4 64.2,71.7 64.6,71.8 64.9,72.1 65.3,71.5 65.6,70.9 66.0,70.3 66.4,69.8 66.7,69.3 67.1,69.7 67.4,70.3 67.8,70.3 68.1,70.6 68.4,70.3 68.8,69.8 69.1,69.5 69.5,69.2 69.9,68.5 70.2,67.4 70.6,66.5 70.9,66.1 71.2,65.4 71.6,65.2 71.9,64.8 72.3,64.1 72.6,63.4 73.0,63.4 73.4,63.4 73.7,62.7 74.1,61.9 74.4,61.5 74.8,60.6 75.1,59.9 75.4,59.8 75.8,59.4 76.1,59.6 76.5,59.2 76.9,58.9 77.2,58.3 77.6,56.5 77.9,57.0 78.2,56.5 78.6,56.1 78.9,56.7 79.3,55.9 79.6,55.9 80.0,53.8 80.4,51.9 80.7,50.8 81.1,50.0 81.4,50.6 81.8,49.1 82.1,48.1 82.4,47.8 82.8,47.4 83.1,45.2 83.5,43.5 83.9,44.0 84.2,43.6 84.6,44.8 84.9,44.1 85.2,44.9 85.6,44.1 85.9,43.6 86.3,43.8 86.6,43.0 87.0,42.5 87.4,44.0 87.7,42.9 88.1,43.5 88.4,43.7 88.8,43.7 89.1,41.9 89.4,42.7 89.8,42.3 90.1,42.5 90.5,42.2 90.9,44.0 91.2,42.7 91.6,41.8 91.9,41.2 92.2,41.0 92.6,40.1 92.9,41.1 93.3,40.5 93.6,40.5 94.0,40.0 94.4,40.9 94.7,42.9 95.1,42.3 95.4,42.2 95.8,43.7 96.1,43.5 96.4,43.2 96.8,44.1 97.1,44.7 97.5,43.8 97.9,43.0 98.2,42.2 98.6,42.1 98.9,42.6 99.2,42.3 99.6,42.9 99.9,44.4 100.3,45.6 100.6,43.0 101.0,42.4 101.4,41.5 101.7,40.9 102.1,41.4 102.4,41.9 102.8,43.2 103.1,42.5 103.4,44.1 103.8,44.1 104.1,43.3 104.5,42.8 104.9,42.0 105.2,43.0 105.6,44.7 105.9,45.6 106.2,46.2 106.6,45.7 106.9,45.8 107.3,44.1 107.6,44.3 108.0,44.6 108.4,44.5 108.7,45.3 109.1,46.3 109.4,47.2 109.8,45.5 110.1,44.9 110.4,46.1 110.8,46.3 111.1,46.9 111.5,47.2 111.9,47.3 112.2,47.8 112.6,47.2 112.9,47.9 113.2,47.2 113.6,45.1 113.9,46.0 114.3,47.0 114.6,46.9 115.0,48.5 115.4,47.1 115.7,45.6 116.1,45.4 116.4,45.4 116.8,46.7 117.1,47.0 117.4,47.5 117.8,46.2 118.1,45.9 118.5,45.6 118.9,46.8 119.2,47.1 119.6,46.5 119.9,46.7 120.2,47.4 120.6,47.6 120.9,47.0 121.3,46.2 121.6,47.1 122.0,47.2 122.4,46.5 122.7,45.9 123.1,48.1 123.4,49.8 123.8,50.8 124.1,50.7 124.4,50.5 124.8,51.1 125.1,49.9 125.5,49.0 125.9,49.0 126.2,50.7 126.6,51.3 126.9,51.1 127.2,51.2 127.6,51.3 127.9,50.3 128.3,49.6 128.6,50.2 129.0,51.0 129.4,50.8 129.7,50.7 130.1,51.5 130.4,50.1 130.8,49.2 131.1,48.8 131.4,48.7 131.8,49.4 132.1,50.7 132.5,50.6 132.9,51.6 133.2,50.5 133.6,50.0 133.9,51.1 134.2,50.7 134.6,49.5 134.9,50.1 135.3,51.0 135.6,51.1 136.0,51.2 136.4,50.2 136.7,59.3 137.1,62.6 137.4,61.5 137.8,61.3 138.1,62.0 138.4,62.5 138.8,65.8 139.1,75.2 139.5,75.2 139.5,75.2 139.1,75.2 138.8,66.5 138.4,63.5 138.1,63.2 137.8,62.5 137.4,62.6 137.1,63.6 136.7,60.5 136.4,52.2 136.0,53.2 135.6,53.1 135.3,52.7 134.9,51.7 134.6,51.2 134.2,52.4 133.9,52.7 133.6,51.7 133.2,52.3 132.9,53.3 132.5,52.3 132.1,52.4 131.8,51.2 131.4,50.6 131.1,50.7 130.8,51.1 130.4,52.1 130.1,53.2 129.7,52.4 129.4,52.7 129.0,53.3 128.6,52.5 128.3,51.8 127.9,52.4 127.6,53.1 127.2,52.9 126.9,53.0 126.6,53.2 126.2,52.6 125.9,50.9 125.5,50.9 125.1,51.7 124.8,52.8 124.4,52.1 124.1,52.3 123.8,52.6 123.4,51.9 123.1,50.4 122.7,48.0 122.4,48.4 122.0,49.1 121.6,49.0 121.3,48.3 120.9,49.2 120.6,49.8 120.2,49.6 119.9,48.9 119.6,48.6 119.2,49.0 118.9,48.6 118.5,48.0 118.1,48.5 117.8,48.7 117.4,50.0 117.1,49.2 116.8,48.7 116.4,47.8 116.1,47.9 115.7,48.2 115.4,49.6 115.0,50.4 114.6,48.6 114.3,48.8 113.9,48.2 113.6,47.7 113.2,49.6 112.9,50.0 112.6,49.3 112.2,50.2 111.9,49.7 111.5,49.5 111.1,49.0 110.8,48.4 110.4,48.5 110.1,47.7 109.8,48.4 109.4,49.7 109.1,48.6 108.7,47.5 108.4,46.8 108.0,46.9 107.6,46.8 107.3,46.7 106.9,48.0 106.6,47.7 106.2,48.2 105.9,47.8 105.6,47.1 105.2,45.3 104.9,44.1 104.5,45.2 104.1,46.3 103.8,46.8 103.4,46.4 103.1,45.1 102.8,45.9 102.4,44.8 102.1,44.0 101.7,43.5 101.4,44.1 101.0,45.0 100.6,45.3 100.3,47.8 99.9,46.8 99.6,45.3 99.2,44.8 98.9,44.8 98.6,44.3 98.2,44.9 97.9,45.7 97.5,46.2 97.1,47.1 96.8,46.8 96.4,46.2 96.1,46.3 95.8,45.9 95.4,44.2 95.1,44.6 94.7,45.5 94.4,43.5 94.0,42.7 93.6,43.0 93.3,43.0 92.9,43.9 92.6,43.0 92.2,43.8 91.9,44.1 91.6,44.7 91.2,45.4 90.9,46.4 90.5,44.6 90.1,45.0 89.8,44.9 89.4,45.2 89.1,44.5 88.8,46.1 88.4,46.0 88.1,46.0 87.7,45.7 87.4,46.7 87.0,45.3 86.6,45.6 86.3,46.5 85.9,46.2 85.6,46.5 85.2,47.2 84.9,46.3 84.6,46.9 84.2,46.0 83.9,46.4 83.5,45.8 83.1,47.2 82.8,49.2 82.4,50.0 82.1,50.6 81.8,51.2 81.4,52.6 81.1,52.0 80.7,52.7 80.4,53.6 80.0,55.4 79.6,57.4 79.3,57.3 78.9,57.8 78.6,57.3 78.2,57.9 77.9,58.6 77.6,58.2 77.2,59.7 76.9,60.1 76.5,60.3 76.1,60.7 75.8,60.6 75.4,61.1 75.1,61.2 74.8,61.7 74.4,62.4 74.1,62.8 73.7,63.6 73.4,64.4 73.0,64.3 72.6,64.3 72.3,64.9 71.9,65.5 71.6,66.1 71.2,66.4 70.9,67.0 70.6,67.3 70.2,68.0 69.9,69.0 69.5,69.6 69.1,69.9 68.8,70.3 68.4,70.7 68.1,70.9 67.8,70.7 67.4,70.7 67.1,70.0 66.7,69.7 66.4,70.2 66.0,70.6 65.6,71.2 65.3,71.8 64.9,72.4 64.6,72.1 64.2,72.0 63.9,71.7 63.6,71.4 63.2,71.6 62.9,72.2 62.5,72.7 62.1,73.3 61.8,73.3 61.4,73.0 61.1,72.7 60.8,72.9 60.4,73.1 60.1,73.5 59.7,73.8 59.4,74.1 59.0,74.4 58.6,74.5 58.3,74.5 57.9,74.6 57.6,74.6 57.2,74.7 56.9,74.7 56.6,74.5 56.2,73.1 55.9,73.1 55.5,75.2" fill="#b4c39c"/><polygon points="55.5,75.2 55.9,72.8 56.2,72.8 56.6,74.4 56.9,74.6 57.2,74.6 57.6,74.5 57.9,74.5 58.3,74.4 58.6,74.4 59.0,74.3 59.4,73.9 59.7,73.6 60.1,73.3 60.4,72.8 60.8,72.5 61.1,72.3 61.4,72.7 61.8,73.0 62.1,73.0 62.5,72.3 62.9,71.7 63.2,71.1 63.6,70.8 63.9,71.2 64.2,71.5 64.6,71.6 64.9,71.9 65.3,71.4 65.6,70.7 66.0,70.0 66.4,69.4 66.7,69.0 67.1,69.4 67.4,70.1 67.8,70.1 68.1,70.4 68.4,70.0 68.8,69.5 69.1,69.1 69.5,68.8 69.9,68.1 70.2,66.9 70.6,65.9 70.9,65.5 71.2,64.7 71.6,64.6 71.9,64.2 72.3,63.4 72.6,62.6 73.0,62.6 73.4,62.7 73.7,61.9 74.1,61.2 74.4,60.7 74.8,59.6 75.1,58.9 75.4,58.9 75.8,58.5 76.1,58.5 76.5,58.0 76.9,57.7 77.2,57.1 77.6,55.2 77.9,55.8 78.2,55.3 78.6,54.9 78.9,55.4 79.3,54.6 79.6,54.6 80.0,52.5 80.4,50.4 80.7,49.2 81.1,48.4 81.4,49.0 81.8,47.2 82.1,46.2 82.4,46.1 82.8,45.7 83.1,43.6 83.5,41.9 83.9,42.4 84.2,42.0 84.6,43.0 84.9,42.1 85.2,42.9 85.6,42.1 85.9,41.6 86.3,41.7 86.6,40.8 87.0,40.3 87.4,41.7 87.7,40.7 88.1,41.7 88.4,42.0 88.8,41.6 89.1,39.6 89.4,40.7 89.8,40.3 90.1,40.2 90.5,40.0 90.9,42.3 91.2,41.2 91.6,40.3 91.9,39.5 92.2,38.9 92.6,38.0 92.9,39.1 93.3,38.5 93.6,38.6 94.0,38.2 94.4,39.0 94.7,40.8 95.1,40.2 95.4,40.4 95.8,42.2 96.1,41.8 96.4,41.2 96.8,42.2 97.1,42.8 97.5,41.9 97.9,41.2 98.2,40.5 98.6,40.2 98.9,40.6 99.2,40.5 99.6,41.1 99.9,42.4 100.3,43.9 100.6,41.1 101.0,40.2 101.4,39.1 101.7,38.6 102.1,39.3 102.4,39.8 102.8,40.9 103.1,40.3 103.4,42.1 103.8,42.3 104.1,41.5 104.5,41.0 104.9,40.4 105.2,41.6 105.6,43.2 105.9,43.7 106.2,44.3 106.6,43.9 106.9,44.1 107.3,42.5 107.6,42.8 108.0,42.8 108.4,42.4 108.7,43.4 109.1,44.6 109.4,45.3 109.8,43.4 110.1,43.0 110.4,44.5 110.8,44.6 111.1,45.1 111.5,45.4 111.9,45.5 112.2,46.1 112.6,45.5 112.9,46.3 113.2,45.5 113.6,43.1 113.9,44.0 114.3,45.2 114.6,45.2 115.0,46.9 115.4,45.5 115.7,43.7 116.1,43.3 116.4,43.6 116.8,45.0 117.1,45.2 117.4,45.6 117.8,44.1 118.1,44.1 118.5,44.1 118.9,45.4 119.2,45.5 119.6,44.5 119.9,44.7 120.2,45.8 120.6,46.0 120.9,45.3 121.3,44.8 121.6,45.6 122.0,45.4 122.4,44.7 122.7,44.2 123.1,46.5 123.4,48.3 123.8,49.4 124.1,49.2 124.4,48.8 124.8,49.4 125.1,48.1 125.5,47.3 125.9,47.3 126.2,49.0 126.6,49.6 126.9,49.5 127.2,49.9 127.6,50.1 127.9,48.8 128.3,47.8 128.6,48.5 129.0,49.6 129.4,49.5 129.7,49.2 130.1,49.9 130.4,48.7 130.8,47.7 131.1,47.4 131.4,47.4 131.8,48.3 132.1,49.4 132.5,49.1 132.9,49.9 133.2,48.9 133.6,48.6 133.9,49.7 134.2,49.1 134.6,48.1 134.9,48.8 135.3,49.7 135.6,50.0 136.0,50.1 136.4,48.9 136.7,58.3 137.1,61.8 137.4,60.7 137.8,60.6 138.1,61.2 138.4,61.6 138.8,65.2 139.1,75.2 139.5,75.2 139.5,75.2 139.1,75.2 138.8,65.8 138.4,62.5 138.1,62.0 137.8,61.3 137.4,61.5 137.1,62.6 136.7,59.3 136.4,50.2 136.0,51.2 135.6,51.1 135.3,51.0 134.9,50.1 134.6,49.5 134.2,50.7 133.9,51.1 133.6,50.0 133.2,50.5 132.9,51.6 132.5,50.6 132.1,50.7 131.8,49.4 131.4,48.7 131.1,48.8 130.8,49.2 130.4,50.1 130.1,51.5 129.7,50.7 129.4,50.8 129.0,51.0 128.6,50.2 128.3,49.6 127.9,50.3 127.6,51.3 127.2,51.2 126.9,51.1 126.6,51.3 126.2,50.7 125.9,49.0 125.5,49.0 125.1,49.9 124.8,51.1 124.4,50.5 124.1,50.7 123.8,50.8 123.4,49.8 123.1,48.1 122.7,45.9 122.4,46.5 122.0,47.2 121.6,47.1 121.3,46.2 120.9,47.0 120.6,47.6 120.2,47.4 119.9,46.7 119.6,46.5 119.2,47.1 118.9,46.8 118.5,45.6 118.1,45.9 117.8,46.2 117.4,47.5 117.1,47.0 116.8,46.7 116.4,45.4 116.1,45.4 115.7,45.6 115.4,47.1 115.0,48.5 114.6,46.9 114.3,47.0 113.9,46.0 113.6,45.1 113.2,47.2 112.9,47.9 112.6,47.2 112.2,47.8 111.9,47.3 111.5,47.2 111.1,46.9 110.8,46.3 110.4,46.1 110.1,44.9 109.8,45.5 109.4,47.2 109.1,46.3 108.7,45.3 108.4,44.5 108.0,44.6 107.6,44.3 107.3,44.1 106.9,45.8 106.6,45.7 106.2,46.2 105.9,45.6 105.6,44.7 105.2,43.0 104.9,42.0 104.5,42.8 104.1,43.3 103.8,44.1 103.4,44.1 103.1,42.5 102.8,43.2 102.4,41.9 102.1,41.4 101.7,40.9 101.4,41.5 101.0,42.4 100.6,43.0 100.3,45.6 99.9,44.4 99.6,42.9 99.2,42.3 98.9,42.6 98.6,42.1 98.2,42.2 97.9,43.0 97.5,43.8 97.1,44.7 96.8,44.1 96.4,43.2 96.1,43.5 95.8,43.7 95.4,42.2 95.1,42.3 94.7,42.9 94.4,40.9 94.0,40.0 93.6,40.5 93.3,40.5 92.9,41.1 92.6,40.1 92.2,41.0 91.9,41.2 91.6,41.8 91.2,42.7 90.9,44.0 90.5,42.2 90.1,42.5 89.8,42.3 89.4,42.7 89.1,41.9 88.8,43.7 88.4,43.7 88.1,43.5 87.7,42.9 87.4,44.0 87.0,42.5 86.6,43.0 86.3,43.8 85.9,43.6 85.6,44.1 85.2,44.9 84.9,44.1 84.6,44.8 84.2,43.6 83.9,44.0 83.5,43.5 83.1,45.2 82.8,47.4 82.4,47.8 82.1,48.1 81.8,49.1 81.4,50.6 81.1,50.0 80.7,50.8 80.4,51.9 80.0,53.8 79.6,55.9 79.3,55.9 78.9,56.7 78.6,56.1 78.2,56.5 77.9,57.0 77.6,56.5 77.2,58.3 76.9,58.9 76.5,59.2 76.1,59.6 75.8,59.4 75.4,59.8 75.1,59.9 74.8,60.6 74.4,61.5 74.1,61.9 73.7,62.7 73.4,63.4 73.0,63.4 72.6,63.4 72.3,64.1 71.9,64.8 71.6,65.2 71.2,65.4 70.9,66.1 70.6,66.5 70.2,67.4 69.9,68.5 69.5,69.2 69.1,69.5 68.8,69.8 68.4,70.3 68.1,70.6 67.8,70.3 67.4,70.3 67.1,69.7 66.7,69.3 66.4,69.8 66.0,70.3 65.6,70.9 65.3,71.5 64.9,72.1 64.6,71.8 64.2,71.7 63.9,71.4 63.6,71.1 63.2,71.3 62.9,71.9 62.5,72.5 62.1,73.2 61.8,73.2 61.4,72.9 61.1,72.5 60.8,72.7 60.4,72.9 60.1,73.3 59.7,73.7 59.4,74.0 59.0,74.4 58.6,74.4 58.3,74.5 57.9,74.5 57.6,74.6 57.2,74.6 56.9,74.7 56.6,74.5 56.2,72.9 55.9,72.9 55.5,75.2" fill="#d6a594"/><polygon points="55.5,75.2 55.9,72.6 56.2,72.5 56.6,74.4 56.9,74.6 57.2,74.5 57.6,74.4 57.9,74.4 58.3,74.4 58.6,74.3 59.0,74.2 59.4,73.8 59.7,73.4 60.1,73.0 60.4,72.5 60.8,72.2 61.1,72.0 61.4,72.4 61.8,72.8 62.1,72.8 62.5,72.0 62.9,71.4 63.2,70.7 63.6,70.3 63.9,70.7 64.2,71.0 64.6,71.2 64.9,71.6 65.3,71.0 65.6,70.2 66.0,69.3 66.4,68.7 66.7,68.2 67.1,68.6 67.4,69.4 67.8,69.4 68.1,69.7 68.4,69.4 68.8,68.9 69.1,68.4 69.5,68.1 69.9,67.3 70.2,66.0 70.6,64.8 70.9,64.3 71.2,63.5 71.6,63.2 71.9,62.8 72.3,62.3 72.6,61.5 73.0,61.5 73.4,61.4 73.7,60.3 74.1,59.3 74.4,58.8 74.8,57.7 75.1,57.1 75.4,57.2 75.8,56.7 76.1,56.4 76.5,55.6 76.9,55.5 77.2,55.2 77.6,53.0 77.9,53.4 78.2,52.8 78.6,52.0 78.9,52.7 79.3,51.8 79.6,51.9 80.0,49.6 80.4,47.5 80.7,46.5 81.1,45.3 81.4,45.7 81.8,44.0 82.1,43.4 82.4,43.3 82.8,42.3 83.1,39.7 83.5,38.6 83.9,39.5 84.2,39.1 84.6,40.2 84.9,38.4 85.2,38.5 85.6,37.9 85.9,37.8 86.3,38.2 86.6,37.3 87.0,36.4 87.4,38.4 87.7,37.7 88.1,38.4 88.4,38.7 88.8,38.5 89.1,36.3 89.4,37.2 89.8,36.1 90.1,36.0 90.5,36.1 90.9,38.8 91.2,37.9 91.6,37.0 91.9,35.7 92.2,35.2 92.6,34.3 92.9,35.3 93.3,34.4 93.6,34.4 94.0,34.0 94.4,34.5 94.7,36.4 95.1,36.3 95.4,36.8 95.8,38.6 96.1,38.3 96.4,37.7 96.8,38.9 97.1,39.7 97.5,38.2 97.9,37.1 98.2,36.5 98.6,36.3 98.9,36.5 99.2,36.5 99.6,37.4 99.9,38.2 100.3,39.3 100.6,36.0 101.0,35.4 101.4,34.5 101.7,34.1 102.1,35.5 102.4,36.3 102.8,37.6 103.1,36.7 103.4,38.1 103.8,38.3 104.1,37.8 104.5,37.6 104.9,37.1 105.2,38.3 105.6,40.1 105.9,40.6 106.2,40.8 106.6,40.3 106.9,40.8 107.3,39.1 107.6,39.3 108.0,39.6 108.4,39.2 108.7,39.9 109.1,40.6 109.4,41.2 109.8,39.2 110.1,38.6 110.4,40.1 110.8,40.5 111.1,41.6 111.5,42.6 111.9,43.1 112.2,43.3 112.6,41.8 112.9,42.5 113.2,42.1 113.6,39.9 113.9,41.0 114.3,42.3 114.6,41.6 115.0,43.3 115.4,42.5 115.7,41.1 116.1,40.5 116.4,40.2 116.8,41.1 117.1,41.4 117.4,42.4 117.8,41.4 118.1,41.6 118.5,41.2 118.9,42.0 119.2,41.7 119.6,40.2 119.9,40.3 120.2,41.8 120.6,42.3 120.9,41.8 121.3,41.8 121.6,42.9 122.0,42.2 122.4,41.5 122.7,41.4 123.1,44.1 123.4,45.8 123.8,46.1 124.1,45.6 124.4,45.0 124.8,45.9 125.1,44.7 125.5,44.0 125.9,44.0 126.2,45.5 126.6,46.3 126.9,47.1 127.2,47.8 127.6,47.6 127.9,45.9 128.3,45.2 128.6,45.8 129.0,46.4 129.4,46.1 129.7,46.3 130.1,47.2 130.4,45.5 130.8,44.7 131.1,44.8 131.4,44.7 131.8,45.0 132.1,46.0 132.5,45.9 132.9,47.3 133.2,46.4 133.6,45.9 133.9,46.6 134.2,46.3 134.6,45.5 134.9,46.2 135.3,47.4 135.6,47.7 136.0,47.5 136.4,45.9 136.7,56.3 137.1,60.2 137.4,59.3 137.8,59.2 138.1,59.8 138.4,60.4 138.8,64.2 139.1,75.2 139.5,75.2 139.5,75.2 139.1,75.2 138.8,65.2 138.4,61.6 138.1,61.2 137.8,60.6 137.4,60.7 137.1,61.8 136.7,58.3 136.4,48.9 136.0,50.1 135.6,50.0 135.3,49.7 134.9,48.8 134.6,48.1 134.2,49.1 133.9,49.7 133.6,48.6 133.2,48.9 132.9,49.9 132.5,49.1 132.1,49.4 131.8,48.3 131.4,47.4 131.1,47.4 130.8,47.7 130.4,48.7 130.1,49.9 129.7,49.2 129.4,49.5 129.0,49.6 128.6,48.5 128.3,47.8 127.9,48.8 127.6,50.1 127.2,49.9 126.9,49.5 126.6,49.6 126.2,49.0 125.9,47.3 125.5,47.3 125.1,48.1 124.8,49.4 124.4,48.8 124.1,49.2 123.8,49.4 123.4,48.3 123.1,46.5 122.7,44.2 122.4,44.7 122.0,45.4 121.6,45.6 121.3,44.8 120.9,45.3 120.6,46.0 120.2,45.8 119.9,44.7 119.6,44.5 119.2,45.5 118.9,45.4 118.5,44.1 118.1,44.1 117.8,44.1 117.4,45.6 117.1,45.2 116.8,45.0 116.4,43.6 116.1,43.3 115.7,43.7 115.4,45.5 115.0,46.9 114.6,45.2 114.3,45.2 113.9,44.0 113.6,43.1 113.2,45.5 112.9,46.3 112.6,45.5 112.2,46.1 111.9,45.5 111.5,45.4 111.1,45.1 110.8,44.6 110.4,44.5 110.1,43.0 109.8,43.4 109.4,45.3 109.1,44.6 108.7,43.4 108.4,42.4 108.0,42.8 107.6,42.8 107.3,42.5 106.9,44.1 106.6,43.9 106.2,44.3 105.9,43.7 105.6,43.2 105.2,41.6 104.9,40.4 104.5,41.0 104.1,41.5 103.8,42.3 103.4,42.1 103.1,40.3 102.8,40.9 102.4,39.8 102.1,39.3 101.7,38.6 101.4,39.1 101.0,40.2 100.6,41.1 100.3,43.9 99.9,42.4 99.6,41.1 99.2,40.5 98.9,40.6 98.6,40.2 98.2,40.5 97.9,41.2 97.5,41.9 97.1,42.8 96.8,42.2 96.4,41.2 96.1,41.8 95.8,42.2 95.4,40.4 95.1,40.2 94.7,40.8 94.4,39.0 94.0,38.2 93.6,38.6 93.3,38.5 92.9,39.1 92.6,38.0 92.2,38.9 91.9,39.5 91.6,40.3 91.2,41.2 90.9,42.3 90.5,40.0 90.1,40.2 89.8,40.3 89.4,40.7 89.1,39.6 88.8,41.6 88.4,42.0 88.1,41.7 87.7,40.7 87.4,41.7 87.0,40.3 86.6,40.8 86.3,41.7 85.9,41.6 85.6,42.1 85.2,42.9 84.9,42.1 84.6,43.0 84.2,42.0 83.9,42.4 83.5,41.9 83.1,43.6 82.8,45.7 82.4,46.1 82.1,46.2 81.8,47.2 81.4,49.0 81.1,48.4 80.7,49.2 80.4,50.4 80.0,52.5 79.6,54.6 79.3,54.6 78.9,55.4 78.6,54.9 78.2,55.3 77.9,55.8 77.6,55.2 77.2,57.1 76.9,57.7 76.5,58.0 76.1,58.5 75.8,58.5 75.4,58.9 75.1,58.9 74.8,59.6 74.4,60.7 74.1,61.2 73.7,61.9 73.4,62.7 73.0,62.6 72.6,62.6 72.3,63.4 71.9,64.2 71.6,64.6 71.2,64.7 70.9,65.5 70.6,65.9 70.2,66.9 69.9,68.1 69.5,68.8 69.1,69.1 68.8,69.5 68.4,70.0 68.1,70.4 67.8,70.1 67.4,70.1 67.1,69.4 66.7,69.0 66.4,69.4 66.0,70.0 65.6,70.7 65.3,71.4 64.9,71.9 64.6,71.6 64.2,71.5 63.9,71.2 63.6,70.8 63.2,71.1 62.9,71.7 62.5,72.3 62.1,73.0 61.8,73.0 61.4,72.7 61.1,72.3 60.8,72.5 60.4,72.8 60.1,73.3 59.7,73.6 59.4,73.9 59.0,74.3 58.6,74.4 58.3,74.4 57.9,74.5 57.6,74.5 57.2,74.6 56.9,74.6 56.6,74.4 56.2,72.8 55.9,72.8 55.5,75.2" fill="#a091c2"/><polygon points="55.5,75.2 55.9,72.5 56.2,72.4 56.6,74.3 56.9,74.5 57.2,74.5 57.6,74.4 57.9,74.4 58.3,74.3 58.6,74.3 59.0,74.2 59.4,73.7 59.7,73.3 60.1,72.9 60.4,72.4 60.8,72.1 61.1,71.8 61.4,72.3 61.8,72.7 62.1,72.7 62.5,71.8 62.9,71.3 63.2,70.6 63.6,70.1 63.9,70.5 64.2,70.8 64.6,71.0 64.9,71.4 65.3,70.7 65.6,69.9 66.0,69.1 66.4,68.5 66.7,68.0 67.1,68.4 67.4,69.2 67.8,69.1 68.1,69.5 68.4,69.1 68.8,68.6 69.1,68.2 69.5,67.8 69.9,67.0 70.2,65.6 70.6,64.2 70.9,63.7 71.2,63.0 71.6,62.7 71.9,62.2 72.3,61.6 72.6,60.8 73.0,60.8 73.4,60.7 73.7,59.6 74.1,58.7 74.4,58.3 74.8,57.0 75.1,56.4 75.4,56.6 75.8,56.0 76.1,55.7 76.5,54.9 76.9,54.6 77.2,54.3 77.6,52.1 77.9,52.6 78.2,51.9 78.6,51.1 78.9,51.9 79.3,50.9 79.6,50.7 80.0,48.4 80.4,46.5 80.7,45.4 81.1,43.9 81.4,44.1 81.8,42.4 82.1,42.1 82.4,42.0 82.8,40.9 83.1,38.2 83.5,37.1 83.9,37.9 84.2,37.1 84.6,38.5 84.9,37.2 85.2,37.5 85.6,36.6 85.9,36.2 86.3,36.5 86.6,35.6 87.0,34.7 87.4,36.9 87.7,36.0 88.1,36.5 88.4,36.6 88.8,36.4 89.1,34.1 89.4,35.0 89.8,33.9 90.1,34.2 90.5,34.5 90.9,37.1 91.2,36.1 91.6,35.2 91.9,33.8 92.2,33.4 92.6,32.3 92.9,33.4 93.3,32.6 93.6,32.8 94.0,32.4 94.4,33.0 94.7,35.0 95.1,34.9 95.4,35.1 95.8,36.6 96.1,36.2 96.4,35.6 96.8,36.9 97.1,37.8 97.5,36.2 97.9,35.3 98.2,34.9 98.6,34.9 98.9,35.1 99.2,35.2 99.6,35.9 99.9,36.4 100.3,37.5 100.6,34.2 101.0,33.4 101.4,32.3 101.7,31.9 102.1,33.4 102.4,34.5 102.8,36.0 103.1,35.1 103.4,36.5 103.8,36.7 104.1,36.2 104.5,35.9 104.9,35.3 105.2,36.8 105.6,38.5 105.9,39.0 106.2,39.2 106.6,38.5 106.9,39.1 107.3,37.1 107.6,37.3 108.0,37.8 108.4,37.8 108.7,38.7 109.1,39.2 109.4,39.7 109.8,37.9 110.1,37.3 110.4,38.4 110.8,38.7 111.1,40.2 111.5,41.3 111.9,41.5 112.2,41.7 112.6,40.1 112.9,40.9 113.2,40.8 113.6,38.6 113.9,39.8 114.3,40.9 114.6,40.3 115.0,42.0 115.4,40.8 115.7,39.3 116.1,38.8 116.4,38.5 116.8,39.5 117.1,39.9 117.4,41.2 117.8,40.3 118.1,40.6 118.5,40.2 118.9,40.9 119.2,40.6 119.6,39.0 119.9,38.8 120.2,40.0 120.6,40.6 120.9,40.4 121.3,40.3 121.6,41.7 122.0,41.1 122.4,40.2 122.7,40.0 123.1,42.7 123.4,44.4 123.8,44.9 124.1,44.4 124.4,43.7 124.8,44.5 125.1,43.4 125.5,42.7 125.9,42.6 126.2,44.2 126.6,44.9 126.9,45.5 127.2,46.4 127.6,46.5 127.9,45.0 128.3,44.0 128.6,44.5 129.0,45.2 129.4,44.8 129.7,44.8 130.1,45.9 130.4,44.4 130.8,43.7 131.1,43.6 131.4,43.2 131.8,43.6 132.1,44.7 132.5,44.6 132.9,46.3 133.2,45.6 133.6,44.8 133.9,45.3 134.2,45.0 134.6,44.1 134.9,44.8 135.3,46.1 135.6,46.6 136.0,46.3 136.4,44.7 136.7,55.5 137.1,59.6 137.4,58.7 137.8,58.6 138.1,59.1 138.4,59.7 138.8,63.7 139.1,75.2 139.5,75.2 139.5,75.2 139.1,75.2 138.8,64.2 138.4,60.4 138.1,59.8 137.8,59.2 137.4,59.3 137.1,60.2 136.7,56.3 136.4,45.9 136.0,47.5 135.6,47.7 135.3,47.4 134.9,46.2 134.6,45.5 134.2,46.3 133.9,46.6 133.6,45.9 133.2,46.4 132.9,47.3 132.5,45.9 132.1,46.0 131.8,45.0 131.4,44.7 131.1,44.8 130.8,44.7 130.4,45.5 130.1,47.2 129.7,46.3 129.4,46.1 129.0,46.4 128.6,45.8 128.3,45.2 127.9,45.9 127.6,47.6 127.2,47.8 126.9,47.1 126.6,46.3 126.2,45.5 125.9,44.0 125.5,44.0 125.1,44.7 124.8,45.9 124.4,45.0 124.1,45.6 123.8,46.1 123.4,45.8 123.1,44.1 122.7,41.4 122.4,41.5 122.0,42.2 121.6,42.9 121.3,41.8 120.9,41.8 120.6,42.3 120.2,41.8 119.9,40.3 119.6,40.2 119.2,41.7 118.9,42.0 118.5,41.2 118.1,41.6 117.8,41.4 117.4,42.4 117.1,41.4 116.8,41.1 116.4,40.2 116.1,40.5 115.7,41.1 115.4,42.5 115.0,43.3 114.6,41.6 114.3,42.3 113.9,41.0 113.6,39.9 113.2,42.1 112.9,42.5 112.6,41.8 112.2,43.3 111.9,43.1 111.5,42.6 111.1,41.6 110.8,40.5 110.4,40.1 110.1,38.6 109.8,39.2 109.4,41.2 109.1,40.6 108.7,39.9 108.4,39.2 108.0,39.6 107.6,39.3 107.3,39.1 106.9,40.8 106.6,40.3 106.2,40.8 105.9,40.6 105.6,40.1 105.2,38.3 104.9,37.1 104.5,37.6 104.1,37.8 103.8,38.3 103.4,38.1 103.1,36.7 102.8,37.6 102.4,36.3 102.1,35.5 101.7,34.1 101.4,34.5 101.0,35.4 100.6,36.0 100.3,39.3 99.9,38.2 99.6,37.4 99.2,36.5 98.9,36.5 98.6,36.3 98.2,36.5 97.9,37.1 97.5,38.2 97.1,39.7 96.8,38.9 96.4,37.7 96.1,38.3 95.8,38.6 95.4,36.8 95.1,36.3 94.7,36.4 94.4,34.5 94.0,34.0 93.6,34.4 93.3,34.4 92.9,35.3 92.6,34.3 92.2,35.2 91.9,35.7 91.6,37.0 91.2,37.9 90.9,38.8 90.5,36.1 90.1,36.0 89.8,36.1 89.4,37.2 89.1,36.3 88.8,38.5 88.4,38.7 88.1,38.4 87.7,37.7 87.4,38.4 87.0,36.4 86.6,37.3 86.3,38.2 85.9,37.8 85.6,37.9 85.2,38.5 84.9,38.4 84.6,40.2 84.2,39.1 83.9,39.5 83.5,38.6 83.1,39.7 82.8,42.3 82.4,43.3 82.1,43.4 81.8,44.0 81.4,45.7 81.1,45.3 80.7,46.5 80.4,47.5 80.0,49.6 79.6,51.9 79.3,51.8 78.9,52.7 78.6,52.0 78.2,52.8 77.9,53.4 77.6,53.0 77.2,55.2 76.9,55.5 76.5,55.6 76.1,56.4 75.8,56.7 75.4,57.2 75.1,57.1 74.8,57.7 74.4,58.8 74.1,59.3 73.7,60.3 73.4,61.4 73.0,61.5 72.6,61.5 72.3,62.3 71.9,62.8 71.6,63.2 71.2,63.5 70.9,64.3 70.6,64.8 70.2,66.0 69.9,67.3 69.5,68.1 69.1,68.4 68.8,68.9 68.4,69.4 68.1,69.7 67.8,69.4 67.4,69.4 67.1,68.6 66.7,68.2 66.4,68.7 66.0,69.3 65.6,70.2 65.3,71.0 64.9,71.6 64.6,71.2 64.2,71.0 63.9,70.7 63.6,70.3 63.2,70.7 62.9,71.4 62.5,72.0 62.1,72.8 61.8,72.8 61.4,72.4 61.1,72.0 60.8,72.2 60.4,72.5 60.1,73.0 59.7,73.4 59.4,73.8 59.0,74.2 58.6,74.3 58.3,74.4 57.9,74.4 57.6,74.4 57.2,74.5 56.9,74.6 56.6,74.4 56.2,72.5 55.9,72.6 55.5,75.2" fill="#c78c6a"/><polygon points="55.5,75.2 55.9,72.3 56.2,72.2 56.6,74.3 56.9,74.5 57.2,74.4 57.6,74.4 57.9,74.3 58.3,74.3 58.6,74.2 59.0,74.1 59.4,73.7 59.7,73.2 60.1,72.8 60.4,72.2 60.8,71.9 61.1,71.7 61.4,72.2 61.8,72.5 62.1,72.5 62.5,71.7 62.9,71.1 63.2,70.4 63.6,69.9 63.9,70.3 64.2,70.5 64.6,70.7 64.9,71.1 65.3,70.5 65.6,69.6 66.0,68.7 66.4,68.0 66.7,67.4 67.1,67.8 67.4,68.8 67.8,68.8 68.1,69.1 68.4,68.7 68.8,68.3 69.1,67.8 69.5,67.3 69.9,66.6 70.2,65.1 70.6,63.6 70.9,63.0 71.2,62.2 71.6,61.9 71.9,61.5 72.3,60.9 72.6,60.1 73.0,60.1 73.4,59.8 73.7,58.7 74.1,57.8 74.4,57.1 74.8,55.9 75.1,55.5 75.4,55.8 75.8,54.9 76.1,54.6 76.5,53.9 76.9,53.5 77.2,52.9 77.6,50.8 77.9,51.4 78.2,50.5 78.6,49.6 78.9,50.5 79.3,49.5 79.6,49.1 80.0,46.4 80.4,44.4 80.7,43.4 81.1,41.9 81.4,42.1 81.8,40.6 82.1,40.3 82.4,39.8 82.8,38.6 83.1,36.3 83.5,35.4 83.9,36.2 84.2,35.3 84.6,36.9 84.9,35.3 85.2,35.2 85.6,34.0 85.9,33.5 86.3,34.1 86.6,33.4 87.0,32.5 87.4,34.6 87.7,33.7 88.1,34.3 88.4,34.0 88.8,33.5 89.1,31.1 89.4,32.0 89.8,31.3 90.1,31.7 90.5,31.9 90.9,34.7 91.2,33.4 91.6,32.7 91.9,31.4 92.2,30.7 92.6,29.8 92.9,31.1 93.3,30.1 93.6,30.3 94.0,30.3 94.4,31.0 94.7,32.9 95.1,32.5 95.4,32.8 95.8,34.4 96.1,34.0 96.4,33.4 96.8,34.5 97.1,35.5 97.5,34.2 97.9,33.5 98.2,32.8 98.6,32.3 98.9,32.8 99.2,33.2 99.6,33.6 99.9,33.9 100.3,35.1 100.6,32.1 101.0,31.5 101.4,30.1 101.7,29.4 102.1,30.8 102.4,31.9 102.8,33.2 103.1,32.2 103.4,33.7 103.8,34.0 104.1,33.7 104.5,33.2 104.9,33.0 105.2,34.7 105.6,36.3 105.9,37.2 106.2,37.8 106.6,36.8 106.9,36.9 107.3,34.3 107.6,34.6 108.0,35.5 108.4,35.4 108.7,36.0 109.1,36.7 109.4,37.5 109.8,35.9 110.1,35.5 110.4,36.6 110.8,36.5 111.1,37.9 111.5,38.8 111.9,38.8 112.2,39.2 112.6,38.2 112.9,39.2 113.2,38.6 113.6,36.3 113.9,37.8 114.3,38.9 114.6,38.5 115.0,40.4 115.4,39.0 115.7,37.1 116.1,36.6 116.4,36.4 116.8,37.4 117.1,37.7 117.4,39.1 117.8,37.8 118.1,38.4 118.5,38.3 118.9,38.9 119.2,38.2 119.6,36.5 119.9,36.6 120.2,37.9 120.6,38.2 120.9,37.9 121.3,38.3 121.6,39.5 122.0,38.8 122.4,38.2 122.7,37.9 123.1,40.4 123.4,42.2 123.8,43.0 124.1,42.6 124.4,41.8 124.8,42.5 125.1,41.4 125.5,41.0 125.9,41.1 126.2,42.7 126.6,43.5 126.9,44.2 127.2,45.0 127.6,44.9 127.9,43.4 128.3,42.4 128.6,42.5 129.0,43.0 129.4,42.8 129.7,42.9 130.1,44.0 130.4,42.6 130.8,42.1 131.1,42.0 131.4,41.6 131.8,41.9 132.1,43.1 132.5,42.8 132.9,44.3 133.2,43.4 133.6,42.6 133.9,43.2 134.2,43.0 134.6,41.8 134.9,42.6 135.3,44.3 135.6,44.9 136.0,44.8 136.4,43.1 136.7,54.3 137.1,58.5 137.4,57.6 137.8,57.4 138.1,58.1 138.4,59.0 138.8,63.2 139.1,75.2 139.5,75.2 139.5,75.2 139.1,75.2 138.8,63.7 138.4,59.7 138.1,59.1 137.8,58.6 137.4,58.7 137.1,59.6 136.7,55.5 136.4,44.7 136.0,46.3 135.6,46.6 135.3,46.1 134.9,44.8 134.6,44.1 134.2,45.0 133.9,45.3 133.6,44.8 133.2,45.6 132.9,46.3 132.5,44.6 132.1,44.7 131.8,43.6 131.4,43.2 131.1,43.6 130.8,43.7 130.4,44.4 130.1,45.9 129.7,44.8 129.4,44.8 129.0,45.2 128.6,44.5 128.3,44.0 127.9,45.0 127.6,46.5 127.2,46.4 126.9,45.5 126.6,44.9 126.2,44.2 125.9,42.6 125.5,42.7 125.1,43.4 124.8,44.5 124.4,43.7 124.1,44.4 123.8,44.9 123.4,44.4 123.1,42.7 122.7,40.0 122.4,40.2 122.0,41.1 121.6,41.7 121.3,40.3 120.9,40.4 120.6,40.6 120.2,40.0 119.9,38.8 119.6,39.0 119.2,40.6 118.9,40.9 118.5,40.2 118.1,40.6 117.8,40.3 117.4,41.2 117.1,39.9 116.8,39.5 116.4,38.5 116.1,38.8 115.7,39.3 115.4,40.8 115.0,42.0 114.6,40.3 114.3,40.9 113.9,39.8 113.6,38.6 113.2,40.8 112.9,40.9 112.6,40.1 112.2,41.7 111.9,41.5 111.5,41.3 111.1,40.2 110.8,38.7 110.4,38.4 110.1,37.3 109.8,37.9 109.4,39.7 109.1,39.2 108.7,38.7 108.4,37.8 108.0,37.8 107.6,37.3 107.3,37.1 106.9,39.1 106.6,38.5 106.2,39.2 105.9,39.0 105.6,38.5 105.2,36.8 104.9,35.3 104.5,35.9 104.1,36.2 103.8,36.7 103.4,36.5 103.1,35.1 102.8,36.0 102.4,34.5 102.1,33.4 101.7,31.9 101.4,32.3 101.0,33.4 100.6,34.2 100.3,37.5 99.9,36.4 99.6,35.9 99.2,35.2 98.9,35.1 98.6,34.9 98.2,34.9 97.9,35.3 97.5,36.2 97.1,37.8 96.8,36.9 96.4,35.6 96.1,36.2 95.8,36.6 95.4,35.1 95.1,34.9 94.7,35.0 94.4,33.0 94.0,32.4 93.6,32.8 93.3,32.6 92.9,33.4 92.6,32.3 92.2,33.4 91.9,33.8 91.6,35.2 91.2,36.1 90.9,37.1 90.5,34.5 90.1,34.2 89.8,33.9 89.4,35.0 89.1,34.1 88.8,36.4 88.4,36.6 88.1,36.5 87.7,36.0 87.4,36.9 87.0,34.7 86.6,35.6 86.3,36.5 85.9,36.2 85.6,36.6 85.2,37.5 84.9,37.2 84.6,38.5 84.2,37.1 83.9,37.9 83.5,37.1 83.1,38.2 82.8,40.9 82.4,42.0 82.1,42.1 81.8,42.4 81.4,44.1 81.1,43.9 80.7,45.4 80.4,46.5 80.0,48.4 79.6,50.7 79.3,50.9 78.9,51.9 78.6,51.1 78.2,51.9 77.9,52.6 77.6,52.1 77.2,54.3 76.9,54.6 76.5,54.9 76.1,55.7 75.8,56.0 75.4,56.6 75.1,56.4 74.8,57.0 74.4,58.3 74.1,58.7 73.7,59.6 73.4,60.7 73.0,60.8 72.6,60.8 72.3,61.6 71.9,62.2 71.6,62.7 71.2,63.0 70.9,63.7 70.6,64.2 70.2,65.6 69.9,67.0 69.5,67.8 69.1,68.2 68.8,68.6 68.4,69.1 68.1,69.5 67.8,69.1 67.4,69.2 67.1,68.4 66.7,68.0 66.4,68.5 66.0,69.1 65.6,69.9 65.3,70.7 64.9,71.4 64.6,71.0 64.2,70.8 63.9,70.5 63.6,70.1 63.2,70.6 62.9,71.3 62.5,71.8 62.1,72.7 61.8,72.7 61.4,72.3 61.1,71.8 60.8,72.1 60.4,72.4 60.1,72.9 59.7,73.3 59.4,73.7 59.0,74.2 58.6,74.3 58.3,74.3 57.9,74.4 57.6,74.4 57.2,74.5 56.9,74.5 56.6,74.3 56.2,72.4 55.9,72.5 55.5,75.2" fill="#857497"/><polygon points="55.5,75.2 55.9,72.2 56.2,72.2 56.6,74.2 56.9,74.5 57.2,74.4 57.6,74.3 57.9,74.3 58.3,74.2 58.6,74.1 59.0,74.1 59.4,73.6 59.7,73.1 60.1,72.7 60.4,72.1 60.8,71.8 61.1,71.5 61.4,72.0 61.8,72.4 62.1,72.4 62.5,71.6 62.9,71.0 63.2,70.2 63.6,69.7 63.9,70.1 64.2,70.3 64.6,70.5 64.9,71.0 65.3,70.3 65.6,69.3 66.0,68.4 66.4,67.7 66.7,67.1 67.1,67.5 67.4,68.5 67.8,68.6 68.1,68.9 68.4,68.4 68.8,68.0 69.1,67.5 69.5,67.0 69.9,66.2 70.2,64.6 70.6,63.1 70.9,62.5 71.2,61.6 71.6,61.3 71.9,60.7 72.3,60.2 72.6,59.5 73.0,59.5 73.4,59.0 73.7,58.0 74.1,57.2 74.4,56.4 74.8,55.1 75.1,54.7 75.4,55.0 75.8,54.1 76.1,53.8 76.5,53.0 76.9,52.5 77.2,52.0 77.6,49.9 77.9,50.4 78.2,49.5 78.6,48.6 78.9,49.4 79.3,48.2 79.6,47.8 80.0,45.0 80.4,43.2 80.7,42.1 81.1,40.4 81.4,40.8 81.8,39.4 82.1,38.9 82.4,37.9 82.8,36.6 83.1,34.1 83.5,33.1 83.9,34.1 84.2,33.5 84.6,35.3 84.9,33.7 85.2,33.7 85.6,32.4 85.9,32.1 86.3,32.8 86.6,31.8 87.0,30.7 87.4,32.4 87.7,31.4 88.1,32.4 88.4,32.5 88.8,32.0 89.1,29.2 89.4,30.1 89.8,29.3 90.1,29.6 90.5,29.7 90.9,32.8 91.2,31.9 91.6,31.3 91.9,29.7 92.2,28.8 92.6,27.9 92.9,29.2 93.3,28.2 93.6,28.5 94.0,28.2 94.4,28.7 94.7,30.8 95.1,30.5 95.4,30.7 95.8,32.0 96.1,31.5 96.4,31.3 96.8,32.9 97.1,33.8 97.5,32.4 97.9,32.0 98.2,31.2 98.6,29.9 98.9,30.4 99.2,31.3 99.6,31.8 99.9,32.1 100.3,33.6 100.6,30.4 101.0,29.3 101.4,27.8 101.7,27.4 102.1,29.2 102.4,30.3 102.8,31.5 103.1,30.3 103.4,32.2 103.8,32.4 104.1,31.9 104.5,31.7 104.9,31.6 105.2,33.4 105.6,34.8 105.9,35.4 106.2,36.0 106.6,35.3 106.9,35.4 107.3,32.4 107.6,32.8 108.0,34.0 108.4,34.0 108.7,34.4 109.1,34.9 109.4,36.0 109.8,34.4 110.1,33.5 110.4,34.3 110.8,34.4 111.1,36.0 111.5,36.8 111.9,37.0 112.2,37.7 112.6,36.5 112.9,37.4 113.2,36.8 113.6,34.8 113.9,36.2 114.3,37.1 114.6,36.8 115.0,38.8 115.4,37.5 115.7,35.7 116.1,35.0 116.4,34.6 116.8,35.5 117.1,36.1 117.4,37.4 117.8,36.2 118.1,36.9 118.5,36.6 118.9,37.4 119.2,36.8 119.6,34.8 119.9,34.5 120.2,35.8 120.6,36.5 120.9,36.5 121.3,36.5 121.6,37.6 122.0,36.7 122.4,36.1 122.7,36.1 123.1,38.6 123.4,40.5 123.8,41.6 124.1,41.3 124.4,40.5 124.8,41.3 125.1,40.1 125.5,39.8 125.9,39.7 126.2,41.1 126.6,41.9 126.9,42.6 127.2,43.2 127.6,43.2 127.9,41.8 128.3,40.7 128.6,40.5 129.0,41.0 129.4,41.0 129.7,41.1 130.1,42.4 130.4,41.2 130.8,40.6 131.1,40.4 131.4,40.0 131.8,40.6 132.1,41.7 132.5,41.3 132.9,42.8 133.2,41.9 133.6,40.9 133.9,41.4 134.2,41.3 134.6,40.2 134.9,40.9 135.3,42.6 135.6,43.3 136.0,43.4 136.4,41.8 136.7,53.3 137.1,57.7 137.4,56.8 137.8,56.6 138.1,57.2 138.4,58.1 138.8,62.6 139.1,75.2 139.5,75.2 139.5,75.2 139.1,75.2 138.8,63.2 138.4,59.0 138.1,58.1 137.8,57.4 137.4,57.6 137.1,58.5 136.7,54.3 136.4,43.1 136.0,44.8 135.6,44.9 135.3,44.3 134.9,42.6 134.6,41.8 134.2,43.0 133.9,43.2 133.6,42.6 133.2,43.4 132.9,44.3 132.5,42.8 132.1,43.1 131.8,41.9 131.4,41.6 131.1,42.0 130.8,42.1 130.4,42.6 130.1,44.0 129.7,42.9 129.4,42.8 129.0,43.0 128.6,42.5 128.3,42.4 127.9,43.4 127.6,44.9 127.2,45.0 126.9,44.2 126.6,43.5 126.2,42.7 125.9,41.1 125.5,41.0 125.1,41.4 124.8,42.5 124.4,41.8 124.1,42.6 123.8,43.0 123.4,42.2 123.1,40.4 122.7,37.9 122.4,38.2 122.0,38.8 121.6,39.5 121.3,38.3 120.9,37.9 120.6,38.2 120.2,37.9 119.9,36.6 119.6,36.5 119.2,38.2 118.9,38.9 118.5,38.3 118.1,38.4 117.8,37.8 117.4,39.1 117.1,37.7 116.8,37.4 116.4,36.4 116.1,36.6 115.7,37.1 115.4,39.0 115.0,40.4 114.6,38.5 114.3,38.9 113.9,37.8 113.6,36.3 113.2,38.6 112.9,39.2 112.6,38.2 112.2,39.2 111.9,38.8 111.5,38.8 111.1,37.9 110.8,36.5 110.4,36.6 110.1,35.5 109.8,35.9 109.4,37.5 109.1,36.7 108.7,36.0 108.4,35.4 108.0,35.5 107.6,34.6 107.3,34.3 106.9,36.9 106.6,36.8 106.2,37.8 105.9,37.2 105.6,36.3 105.2,34.7 104.9,33.0 104.5,33.2 104.1,33.7 103.8,34.0 103.4,33.7 103.1,32.2 102.8,33.2 102.4,31.9 102.1,30.8 101.7,29.4 101.4,30.1 101.0,31.5 100.6,32.1 100.3,35.1 99.9,33.9 99.6,33.6 99.2,33.2 98.9,32.8 98.6,32.3 98.2,32.8 97.9,33.5 97.5,34.2 97.1,35.5 96.8,34.5 96.4,33.4 96.1,34.0 95.8,34.4 95.4,32.8 95.1,32.5 94.7,32.9 94.4,31.0 94.0,30.3 93.6,30.3 93.3,30.1 92.9,31.1 92.6,29.8 92.2,30.7 91.9,31.4 91.6,32.7 91.2,33.4 90.9,34.7 90.5,31.9 90.1,31.7 89.8,31.3 89.4,32.0 89.1,31.1 88.8,33.5 88.4,34.0 88.1,34.3 87.7,33.7 87.4,34.6 87.0,32.5 86.6,33.4 86.3,34.1 85.9,33.5 85.6,34.0 85.2,35.2 84.9,35.3 84.6,36.9 84.2,35.3 83.9,36.2 83.5,35.4 83.1,36.3 82.8,38.6 82.4,39.8 82.1,40.3 81.8,40.6 81.4,42.1 81.1,41.9 80.7,43.4 80.4,44.4 80.0,46.4 79.6,49.1 79.3,49.5 78.9,50.5 78.6,49.6 78.2,50.5 77.9,51.4 77.6,50.8 77.2,52.9 76.9,53.5 76.5,53.9 76.1,54.6 75.8,54.9 75.4,55.8 75.1,55.5 74.8,55.9 74.4,57.1 74.1,57.8 73.7,58.7 73.4,59.8 73.0,60.1 72.6,60.1 72.3,60.9 71.9,61.5 71.6,61.9 71.2,62.2 70.9,63.0 70.6,63.6 70.2,65.1 69.9,66.6 69.5,67.3 69.1,67.8 68.8,68.3 68.4,68.7 68.1,69.1 67.8,68.8 67.4,68.8 67.1,67.8 66.7,67.4 66.4,68.0 66.0,68.7 65.6,69.6 65.3,70.5 64.9,71.1 64.6,70.7 64.2,70.5 63.9,70.3 63.6,69.9 63.2,70.4 62.9,71.1 62.5,71.7 62.1,72.5 61.8,72.5 61.4,72.2 61.1,71.7 60.8,71.9 60.4,72.2 60.1,72.8 59.7,73.2 59.4,73.7 59.0,74.1 58.6,74.2 58.3,74.3 57.9,74.3 57.6,74.4 57.2,74.4 56.9,74.5 56.6,74.3 56.2,72.2 55.9,72.3 55.5,75.2" fill="#adaf86"/><polygon points="55.5,75.2 55.9,72.2 56.2,72.1 56.6,74.2 56.9,74.5 57.2,74.4 57.6,74.3 57.9,74.3 58.3,74.2 58.6,74.1 59.0,74.0 59.4,73.5 59.7,73.0 60.1,72.6 60.4,72.0 60.8,71.6 61.1,71.4 61.4,71.9 61.8,72.3 62.1,72.3 62.5,71.4 62.9,70.8 63.2,70.0 63.6,69.6 63.9,69.9 64.2,70.1 64.6,70.3 64.9,70.8 65.3,70.1 65.6,69.1 66.0,68.1 66.4,67.5 66.7,66.8 67.1,67.2 67.4,68.2 67.8,68.3 68.1,68.6 68.4,68.2 68.8,67.7 69.1,67.2 69.5,66.7 69.9,65.8 70.2,64.3 70.6,62.7 70.9,62.0 71.2,61.0 71.6,60.7 71.9,60.2 72.3,59.7 72.6,58.8 73.0,58.8 73.4,58.4 73.7,57.1 74.1,56.3 74.4,55.7 74.8,54.3 75.1,53.8 75.4,54.1 75.8,53.4 76.1,53.1 76.5,52.2 76.9,51.6 77.2,51.2 77.6,49.0 77.9,49.5 78.2,48.5 78.6,47.6 78.9,48.2 79.3,46.9 79.6,46.6 80.0,43.9 80.4,42.1 80.7,40.8 81.1,38.9 81.4,39.3 81.8,37.8 82.1,37.2 82.4,36.3 82.8,35.3 83.1,33.0 83.5,31.5 83.9,32.1 84.2,31.4 84.6,33.4 84.9,31.9 85.2,31.9 85.6,30.8 85.9,30.6 86.3,31.1 86.6,30.0 87.0,28.9 87.4,30.9 87.7,30.0 88.1,31.0 88.4,30.9 88.8,30.3 89.1,27.5 89.4,28.8 89.8,28.2 90.1,28.1 90.5,27.7 90.9,31.0 91.2,30.5 91.6,29.9 91.9,28.2 92.2,27.3 92.6,26.0 92.9,27.2 93.3,26.5 93.6,26.6 94.0,26.1 94.4,26.7 94.7,28.9 95.1,28.7 95.4,28.9 95.8,30.0 96.1,29.5 96.4,29.7 96.8,31.2 97.1,32.3 97.5,31.3 97.9,30.7 98.2,29.4 98.6,28.1 98.9,28.9 99.2,29.7 99.6,29.9 99.9,30.2 100.3,31.9 100.6,28.7 101.0,27.7 101.4,26.4 101.7,26.0 102.1,27.6 102.4,28.5 102.8,30.0 103.1,29.1 103.4,31.0 103.8,31.3 104.1,30.7 104.5,30.2 104.9,30.1 105.2,32.0 105.6,33.4 105.9,33.8 106.2,34.2 106.6,33.5 106.9,33.6 107.3,30.7 107.6,31.3 108.0,32.5 108.4,32.8 108.7,33.4 109.1,33.7 109.4,34.5 109.8,32.7 110.1,32.0 110.4,33.0 110.8,33.0 111.1,34.6 111.5,35.3 111.9,35.6 112.2,36.4 112.6,34.9 112.9,35.9 113.2,35.6 113.6,33.2 113.9,34.5 114.3,35.6 114.6,35.2 115.0,37.2 115.4,36.0 115.7,34.3 116.1,33.6 116.4,33.0 116.8,33.9 117.1,34.3 117.4,35.7 117.8,34.8 118.1,35.4 118.5,34.9 118.9,35.6 119.2,35.2 119.6,33.2 119.9,32.9 120.2,34.0 120.6,34.9 120.9,35.1 121.3,35.4 121.6,36.3 122.0,35.0 122.4,34.5 122.7,34.9 123.1,37.5 123.4,39.2 123.8,40.4 124.1,40.1 124.4,39.1 124.8,40.0 125.1,38.7 125.5,38.1 125.9,38.1 126.2,39.8 126.6,40.7 126.9,41.4 127.2,41.8 127.6,41.8 127.9,40.6 128.3,39.5 128.6,39.3 129.0,39.7 129.4,39.5 129.7,39.7 130.1,41.2 130.4,39.9 130.8,39.2 131.1,39.1 131.4,38.8 131.8,39.5 132.1,40.8 132.5,40.3 132.9,41.7 133.2,40.9 133.6,40.0 133.9,40.5 134.2,40.2 134.6,38.8 134.9,39.3 135.3,40.9 135.6,41.7 136.0,42.0 136.4,40.4 136.7,52.4 137.1,57.0 137.4,56.1 137.8,56.0 138.1,56.5 138.4,57.3 138.8,62.1 139.1,75.2 139.5,75.2 139.5,75.2 139.1,75.2 138.8,62.6 138.4,58.1 138.1,57.2 137.8,56.6 137.4,56.8 137.1,57.7 136.7,53.3 136.4,41.8 136.0,43.4 135.6,43.3 135.3,42.6 134.9,40.9 134.6,40.2 134.2,41.3 133.9,41.4 133.6,40.9 133.2,41.9 132.9,42.8 132.5,41.3 132.1,41.7 131.8,40.6 131.4,40.0 131.1,40.4 130.8,40.6 130.4,41.2 130.1,42.4 129.7,41.1 129.4,41.0 129.0,41.0 128.6,40.5 128.3,40.7 127.9,41.8 127.6,43.2 127.2,43.2 126.9,42.6 126.6,41.9 126.2,41.1 125.9,39.7 125.5,39.8 125.1,40.1 124.8,41.3 124.4,40.5 124.1,41.3 123.8,41.6 123.4,40.5 123.1,38.6 122.7,36.1 122.4,36.1 122.0,36.7 121.6,37.6 121.3,36.5 120.9,36.5 120.6,36.5 120.2,35.8 119.9,34.5 119.6,34.8 119.2,36.8 118.9,37.4 118.5,36.6 118.1,36.9 117.8,36.2 117.4,37.4 117.1,36.1 116.8,35.5 116.4,34.6 116.1,35.0 115.7,35.7 115.4,37.5 115.0,38.8 114.6,36.8 114.3,37.1 113.9,36.2 113.6,34.8 113.2,36.8 112.9,37.4 112.6,36.5 112.2,37.7 111.9,37.0 111.5,36.8 111.1,36.0 110.8,34.4 110.4,34.3 110.1,33.5 109.8,34.4 109.4,36.0 109.1,34.9 108.7,34.4 108.4,34.0 108.0,34.0 107.6,32.8 107.3,32.4 106.9,35.4 106.6,35.3 106.2,36.0 105.9,35.4 105.6,34.8 105.2,33.4 104.9,31.6 104.5,31.7 104.1,31.9 103.8,32.4 103.4,32.2 103.1,30.3 102.8,31.5 102.4,30.3 102.1,29.2 101.7,27.4 101.4,27.8 101.0,29.3 100.6,30.4 100.3,33.6 99.9,32.1 99.6,31.8 99.2,31.3 98.9,30.4 98.6,29.9 98.2,31.2 97.9,32.0 97.5,32.4 97.1,33.8 96.8,32.9 96.4,31.3 96.1,31.5 95.8,32.0 95.4,30.7 95.1,30.5 94.7,30.8 94.4,28.7 94.0,28.2 93.6,28.5 93.3,28.2 92.9,29.2 92.6,27.9 92.2,28.8 91.9,29.7 91.6,31.3 91.2,31.9 90.9,32.8 90.5,29.7 90.1,29.6 89.8,29.3 89.4,30.1 89.1,29.2 88.8,32.0 88.4,32.5 88.1,32.4 87.7,31.4 87.4,32.4 87.0,30.7 86.6,31.8 86.3,32.8 85.9,32.1 85.6,32.4 85.2,33.7 84.9,33.7 84.6,35.3 84.2,33.5 83.9,34.1 83.5,33.1 83.1,34.1 82.8,36.6 82.4,37.9 82.1,38.9 81.8,39.4 81.4,40.8 81.1,40.4 80.7,42.1 80.4,43.2 80.0,45.0 79.6,47.8 79.3,48.2 78.9,49.4 78.6,48.6 78.2,49.5 77.9,50.4 77.6,49.9 77.2,52.0 76.9,52.5 76.5,53.0 76.1,53.8 75.8,54.1 75.4,55.0 75.1,54.7 74.8,55.1 74.4,56.4 74.1,57.2 73.7,58.0 73.4,59.0 73.0,59.5 72.6,59.5 72.3,60.2 71.9,60.7 71.6,61.3 71.2,61.6 70.9,62.5 70.6,63.1 70.2,64.6 69.9,66.2 69.5,67.0 69.1,67.5 68.8,68.0 68.4,68.4 68.1,68.9 67.8,68.6 67.4,68.5 67.1,67.5 66.7,67.1 66.4,67.7 66.0,68.4 65.6,69.3 65.3,70.3 64.9,71.0 64.6,70.5 64.2,70.3 63.9,70.1 63.6,69.7 63.2,70.2 62.9,71.0 62.5,71.6 62.1,72.4 61.8,72.4 61.4,72.0 61.1,71.5 60.8,71.8 60.4,72.1 60.1,72.7 59.7,73.1 59.4,73.6 59.0,74.1 58.6,74.1 58.3,74.2 57.9,74.3 57.6,74.3 57.2,74.4 56.9,74.5 56.6,74.2 56.2,72.2 55.9,72.2 55.5,75.2" fill="#d5b7b5"/><polygon points="55.5,75.2 55.9,72.0 56.2,71.9 56.6,74.2 56.9,74.4 57.2,74.4 57.6,74.3 57.9,74.2 58.3,74.1 58.6,74.1 59.0,74.0 59.4,73.5 59.7,73.0 60.1,72.4 60.4,71.8 60.8,71.4 61.1,71.2 61.4,71.7 61.8,72.2 62.1,72.2 62.5,71.3 62.9,70.6 63.2,69.7 63.6,69.3 63.9,69.7 64.2,70.0 64.6,70.2 64.9,70.6 65.3,69.9 65.6,68.8 66.0,67.8 66.4,67.2 66.7,66.5 67.1,66.9 67.4,67.8 67.8,68.0 68.1,68.3 68.4,67.9 68.8,67.4 69.1,66.9 69.5,66.3 69.9,65.3 70.2,63.6 70.6,62.0 70.9,61.4 71.2,60.5 71.6,60.2 71.9,59.6 72.3,59.1 72.6,58.2 73.0,58.0 73.4,57.5 73.7,56.4 74.1,55.6 74.4,54.8 74.8,53.4 75.1,52.9 75.4,53.1 75.8,52.4 76.1,52.1 76.5,51.0 76.9,50.3 77.2,49.9 77.6,47.8 77.9,48.5 78.2,47.5 78.6,46.4 78.9,46.9 79.3,45.5 79.6,45.1 80.0,42.3 80.4,40.3 80.7,39.2 81.1,37.4 81.4,37.8 81.8,36.2 82.1,35.7 82.4,34.7 82.8,33.5 83.1,31.2 83.5,29.7 83.9,30.2 84.2,29.5 84.6,31.4 84.9,29.9 85.2,30.2 85.6,28.9 85.9,28.4 86.3,28.9 86.6,27.9 87.0,26.9 87.4,28.9 87.7,28.1 88.1,29.3 88.4,29.3 88.8,28.8 89.1,25.8 89.4,26.7 89.8,26.0 90.1,26.0 90.5,25.7 90.9,29.0 91.2,28.6 91.6,28.3 91.9,26.3 92.2,25.2 92.6,24.1 92.9,25.3 93.3,24.6 93.6,24.6 94.0,23.5 94.4,23.9 94.7,26.5 95.1,26.5 95.4,26.8 95.8,27.7 96.1,27.3 96.4,27.5 96.8,29.1 97.1,30.3 97.5,29.1 97.9,28.9 98.2,27.7 98.6,26.2 98.9,27.0 99.2,27.9 99.6,28.1 99.9,28.2 100.3,29.8 100.6,26.6 101.0,25.8 101.4,24.5 101.7,24.1 102.1,25.7 102.4,26.5 102.8,28.3 103.1,27.6 103.4,29.4 103.8,29.3 104.1,28.5 104.5,28.6 104.9,28.5 105.2,30.1 105.6,31.3 105.9,31.8 106.2,32.4 106.6,31.6 106.9,32.0 107.3,29.1 107.6,29.6 108.0,31.0 108.4,31.3 108.7,31.8 109.1,32.3 109.4,33.0 109.8,30.8 110.1,30.0 110.4,31.1 110.8,31.2 111.1,32.8 111.5,33.6 111.9,33.7 112.2,34.3 112.6,32.7 112.9,33.9 113.2,33.7 113.6,31.2 113.9,32.5 114.3,34.0 114.6,33.7 115.0,35.4 115.4,34.0 115.7,32.2 116.1,31.6 116.4,31.4 116.8,32.3 117.1,32.3 117.4,33.5 117.8,32.7 118.1,33.8 118.5,33.1 118.9,33.9 119.2,33.7 119.6,31.9 119.9,31.6 120.2,32.5 120.6,33.3 120.9,33.7 121.3,33.8 121.6,34.6 122.0,33.1 122.4,32.8 122.7,33.3 123.1,35.8 123.4,37.5 123.8,38.5 124.1,38.3 124.4,37.7 124.8,38.4 125.1,36.9 125.5,36.5 125.9,36.6 126.2,38.6 126.6,39.7 126.9,40.4 127.2,40.7 127.6,40.5 127.9,39.1 128.3,37.8 128.6,37.4 129.0,38.0 129.4,37.9 129.7,37.8 130.1,39.5 130.4,38.3 130.8,37.4 131.1,37.3 131.4,37.2 131.8,38.1 132.1,39.3 132.5,38.7 132.9,40.2 133.2,39.4 133.6,38.8 133.9,39.5 134.2,38.9 134.6,37.4 134.9,38.0 135.3,39.6 135.6,40.2 136.0,40.4 136.4,38.7 136.7,51.2 137.1,56.0 137.4,55.2 137.8,55.2 138.1,55.9 138.4,56.8 138.8,61.6 139.1,75.2 139.5,75.2 139.5,75.2 139.1,75.2 138.8,62.1 138.4,57.3 138.1,56.5 137.8,56.0 137.4,56.1 137.1,57.0 136.7,52.4 136.4,40.4 136.0,42.0 135.6,41.7 135.3,40.9 134.9,39.3 134.6,38.8 134.2,40.2 133.9,40.5 133.6,40.0 133.2,40.9 132.9,41.7 132.5,40.3 132.1,40.8 131.8,39.5 131.4,38.8 131.1,39.1 130.8,39.2 130.4,39.9 130.1,41.2 129.7,39.7 129.4,39.5 129.0,39.7 128.6,39.3 128.3,39.5 127.9,40.6 127.6,41.8 127.2,41.8 126.9,41.4 126.6,40.7 126.2,39.8 125.9,38.1 125.5,38.1 125.1,38.7 124.8,40.0 124.4,39.1 124.1,40.1 123.8,40.4 123.4,39.2 123.1,37.5 122.7,34.9 122.4,34.5 122.0,35.0 121.6,36.3 121.3,35.4 120.9,35.1 120.6,34.9 120.2,34.0 119.9,32.9 119.6,33.2 119.2,35.2 118.9,35.6 118.5,34.9 118.1,35.4 117.8,34.8 117.4,35.7 117.1,34.3 116.8,33.9 116.4,33.0 116.1,33.6 115.7,34.3 115.4,36.0 115.0,37.2 114.6,35.2 114.3,35.6 113.9,34.5 113.6,33.2 113.2,35.6 112.9,35.9 112.6,34.9 112.2,36.4 111.9,35.6 111.5,35.3 111.1,34.6 110.8,33.0 110.4,33.0 110.1,32.0 109.8,32.7 109.4,34.5 109.1,33.7 108.7,33.4 108.4,32.8 108.0,32.5 107.6,31.3 107.3,30.7 106.9,33.6 106.6,33.5 106.2,34.2 105.9,33.8 105.6,33.4 105.2,32.0 104.9,30.1 104.5,30.2 104.1,30.7 103.8,31.3 103.4,31.0 103.1,29.1 102.8,30.0 102.4,28.5 102.1,27.6 101.7,26.0 101.4,26.4 101.0,27.7 100.6,28.7 100.3,31.9 99.9,30.2 99.6,29.9 99.2,29.7 98.9,28.9 98.6,28.1 98.2,29.4 97.9,30.7 97.5,31.3 97.1,32.3 96.8,31.2 96.4,29.7 96.1,29.5 95.8,30.0 95.4,28.9 95.1,28.7 94.7,28.9 94.4,26.7 94.0,26.1 93.6,26.6 93.3,26.5 92.9,27.2 92.6,26.0 92.2,27.3 91.9,28.2 91.6,29.9 91.2,30.5 90.9,31.0 90.5,27.7 90.1,28.1 89.8,28.2 89.4,28.8 89.1,27.5 88.8,30.3 88.4,30.9 88.1,31.0 87.7,30.0 87.4,30.9 87.0,28.9 86.6,30.0 86.3,31.1 85.9,30.6 85.6,30.8 85.2,31.9 84.9,31.9 84.6,33.4 84.2,31.4 83.9,32.1 83.5,31.5 83.1,33.0 82.8,35.3 82.4,36.3 82.1,37.2 81.8,37.8 81.4,39.3 81.1,38.9 80.7,40.8 80.4,42.1 80.0,43.9 79.6,46.6 79.3,46.9 78.9,48.2 78.6,47.6 78.2,48.5 77.9,49.5 77.6,49.0 77.2,51.2 76.9,51.6 76.5,52.2 76.1,53.1 75.8,53.4 75.4,54.1 75.1,53.8 74.8,54.3 74.4,55.7 74.1,56.3 73.7,57.1 73.4,58.4 73.0,58.8 72.6,58.8 72.3,59.7 71.9,60.2 71.6,60.7 71.2,61.0 70.9,62.0 70.6,62.7 70.2,64.3 69.9,65.8 69.5,66.7 69.1,67.2 68.8,67.7 68.4,68.2 68.1,68.6 67.8,68.3 67.4,68.2 67.1,67.2 66.7,66.8 66.4,67.5 66.0,68.1 65.6,69.1 65.3,70.1 64.9,70.8 64.6,70.3 64.2,70.1 63.9,69.9 63.6,69.6 63.2,70.0 62.9,70.8 62.5,71.4 62.1,72.3 61.8,72.3 61.4,71.9 61.1,71.4 60.8,71.6 60.4,72.0 60.1,72.6 59.7,73.0 59.4,73.5 59.0,74.0 58.6,74.1 58.3,74.2 57.9,74.3 57.6,74.3 57.2,74.4 56.9,74.5 56.6,74.2 56.2,72.1 55.9,72.2 55.5,75.2" fill="#dfcdcd"/><rect x="151.6" y="73.93" width="6.9" height="1.27" fill="#c98a6a"/><rect x="151.6" y="72.02" width="6.9" height="1.91" fill="#7f6a9a"/><rect x="151.6" y="70.43" width="6.9" height="1.59" fill="#ecd59a"/><rect x="151.6" y="68.84" width="6.9" height="1.59" fill="#bfe3e1"/><rect x="151.6" y="67.25" width="6.9" height="1.59" fill="#efb9b6"/><rect x="151.6" y="64.71" width="6.9" height="2.54" fill="#cfc4ea"/><rect x="151.6" y="61.53" width="6.9" height="3.18" fill="#a793d0"/><rect x="151.6" y="59.30" width="6.9" height="2.23" fill="#7b6382"/><rect x="152.9" y="45.7" width=".55" height="13.6" fill="#e6c8d6"/><rect x="153.5" y="49.5" width=".55" height="9.8" fill="#d9c4e6"/><rect x="155.6" y="52.3" width=".55" height="7.0" fill="#efc9a8"/><rect x="156.3" y="54.5" width=".55" height="4.8" fill="#e8c0c0"/><rect x="141.2" y="60.5" width=".55" height="14.7" fill="#d8c4dc"/><rect x="142.0" y="57.5" width=".55" height="17.7" fill="#e3bcc8"/><rect x="142.8" y="55.5" width=".55" height="19.7" fill="#cdb8e0"/><rect x="143.6" y="59.5" width=".55" height="15.7" fill="#e6cdb8"/><rect x="145.9" y="65.5" width=".55" height="9.7" fill="#c8b4d8"/><rect x="146.8" y="62.5" width=".55" height="12.7" fill="#d8c0c8"/><rect x="147.7" y="61.2" width=".55" height="14.0" fill="#b8a8cc"/><rect x="148.6" y="64.5" width=".55" height="10.7" fill="#cbb8a8"/><rect x="149.2" y="69.5" width=".55" height="5.7" fill="#9a90a8"/><rect x="159.2" y="67.5" width=".55" height="7.7" fill="#e4d8e8"/><rect x="159.9" y="70.5" width=".55" height="4.7" fill="#e0e4d0"/><rect x="145.6" y="71.0" width="4" height="4.2" fill="#a79ab5" opacity=".7"/><rect x="56.0" y="69.0" width=".55" height="6.2" fill="#6f6a80"/><rect x="56.6" y="71.5" width=".55" height="3.7" fill="#8a7a9a"/><rect x="60.5" y="70.5" width=".55" height="4.7" fill="#7a708a"/><rect x="61.2" y="68.5" width=".55" height="6.7" fill="#5f5a70"/><rect x="62.6" y="71.0" width=".55" height="4.2" fill="#a89ab8"/><rect x="64.0" y="67.5" width=".55" height="7.7" fill="#6a6478"/><rect x="65.2" y="69.5" width=".55" height="5.7" fill="#9a8aa8"/><rect x="66.7" y="65.0" width=".55" height="10.2" fill="#5f5a6e"/><rect x="67.6" y="67.5" width=".55" height="7.7" fill="#b0a0b8"/><rect x="68.6" y="66.0" width=".55" height="9.2" fill="#77708a"/><circle cx="23.2" cy="75.5" r=".9" fill="#f2495c"/><circle cx="51.9" cy="75.5" r=".9" fill="#f2495c"/><circle cx="52.6" cy="75.5" r=".9" fill="#f2495c"/><circle cx="68.8" cy="75.5" r=".9" fill="#8a4b16"/><circle cx="71.4" cy="75.5" r=".9" fill="#3274d9"/><circle cx="77.7" cy="75.5" r=".9" fill="#e02f44"/><circle cx="80.0" cy="75.5" r=".9" fill="#3274d9"/><circle cx="81.0" cy="75.5" r=".9" fill="#3274d9"/><circle cx="84.7" cy="75.5" r=".9" fill="#3274d9"/><circle cx="87.8" cy="75.5" r=".9" fill="#3274d9"/><circle cx="91.4" cy="75.5" r=".9" fill="#3274d9"/><circle cx="100.0" cy="75.5" r=".9" fill="#3274d9"/><circle cx="106.6" cy="75.5" r=".9" fill="#3274d9"/><circle cx="109.7" cy="75.5" r=".9" fill="#3274d9"/><circle cx="113.3" cy="75.5" r=".9" fill="#3274d9"/><circle cx="120.2" cy="75.5" r=".9" fill="#3274d9"/><circle cx="150.3" cy="75.5" r=".9" fill="#37872d"/><circle cx="160.5" cy="75.5" r=".9" fill="#c4e2f4"/><circle cx="180.3" cy="75.5" r=".9" fill="#5794f2"/><circle cx="210.5" cy="75.5" r=".9" fill="#5794f2"/><circle cx="224.6" cy="75.5" r=".9" fill="#f2495c"/><circle cx="227.0" cy="75.5" r=".9" fill="#f2495c"/><circle cx="242.0" cy="75.5" r=".9" fill="#f2495c"/><circle cx="335.0" cy="75.5" r=".9" fill="#f2495c"/><circle cx="338.5" cy="75.5" r=".9" fill="#f2495c"/></svg><div class="t" style="left:2100.8px;top:82.3px;font-size:20px;transform:translateX(-100%);color:#3274d9">Last</div><div style="left:1472px;top:101px;width:654.4px;height:238.6px;overflow:hidden"><div style="left:0px;top:0px;width:654px;height:1.2px;background:#e4e7eb"></div><div style="left:14.8px;top:16.4px;width:22.4px;height:5.6px;background:#56a64b;border-radius:.5px"></div><div class="t" style="left:47.2px;top:18.3px;font-size:20px;color:#33383e;letter-spacing:-.005em">[WARN] NodeDiskSlow @ pg-dbc-tt-2</div><div class="t" style="left:593.2px;top:18.3px;font-size:20px;color:#33383e">1</div><div style="left:0px;top:37.3px;width:654px;height:1.2px;background:#e4e7eb"></div><div style="left:14.8px;top:53.7px;width:22.4px;height:5.6px;background:#e0b400;border-radius:.5px"></div><div class="t" style="left:47.2px;top:55.6px;font-size:20px;color:#33383e;letter-spacing:-.005em">[WARN] NodeLoadHigh @ pg-chatshard9-tt-3</div><div class="t" style="left:593.2px;top:55.6px;font-size:20px;color:#33383e">1</div><div style="left:0px;top:74.6px;width:654px;height:1.2px;background:#e4e7eb"></div><div style="left:14.8px;top:91px;width:22.4px;height:5.6px;background:#5794f2;border-radius:.5px"></div><div class="t" style="left:47.2px;top:92.9px;font-size:20px;color:#33383e;letter-spacing:-.005em">[WARN] NodeLoadHigh @ pg-moderation-tt-2</div><div class="t" style="left:593.2px;top:92.9px;font-size:20px;color:#33383e">1</div><div style="left:0px;top:112px;width:654px;height:1.2px;background:#e4e7eb"></div><div style="left:14.8px;top:128.4px;width:22.4px;height:5.6px;background:#ff780a;border-radius:.5px"></div><div class="t" style="left:47.2px;top:130.2px;font-size:20px;color:#33383e;letter-spacing:-.005em">[WARN] NodeLoadHigh @ pg-moderation-tt-3</div><div class="t" style="left:593.2px;top:130.2px;font-size:20px;color:#33383e">1</div><div style="left:0px;top:149.3px;width:654px;height:1.2px;background:#e4e7eb"></div><div style="left:14.8px;top:165.7px;width:22.4px;height:5.6px;background:#e02f44;border-radius:.5px"></div><div class="t" style="left:47.2px;top:167.5px;font-size:20px;color:#33383e;letter-spacing:-.005em">[WARN] NodeLoadHigh @ pg-stats-tt-2</div><div class="t" style="left:593.2px;top:167.5px;font-size:20px;color:#33383e">1</div><div style="left:0px;top:186.6px;width:654px;height:1.2px;background:#e4e7eb"></div><div style="left:14.8px;top:203px;width:22.4px;height:5.6px;background:#3274d9;border-radius:.5px"></div><div class="t" style="left:47.2px;top:204.9px;font-size:20px;color:#33383e;letter-spacing:-.005em">[WARN] NodeTcpRetransHigh @ pg-abtest-tt-2</div><div class="t" style="left:593.2px;top:204.9px;font-size:20px;color:#33383e">1</div><div style="left:0px;top:223.9px;width:654px;height:1.2px;background:#e4e7eb"></div><div style="left:14.8px;top:240.3px;width:22.4px;height:5.6px;background:#a352cc;border-radius:.5px"></div><div class="t" style="left:47.2px;top:242.2px;font-size:20px;color:#33383e;letter-spacing:-.005em">[WARN] NodeTcpRetransHigh @ pg-affiliate-tt-4</div><div class="t" style="left:593.2px;top:242.2px;font-size:20px;color:#33383e">1</div></div></div>
</div></body></html>
